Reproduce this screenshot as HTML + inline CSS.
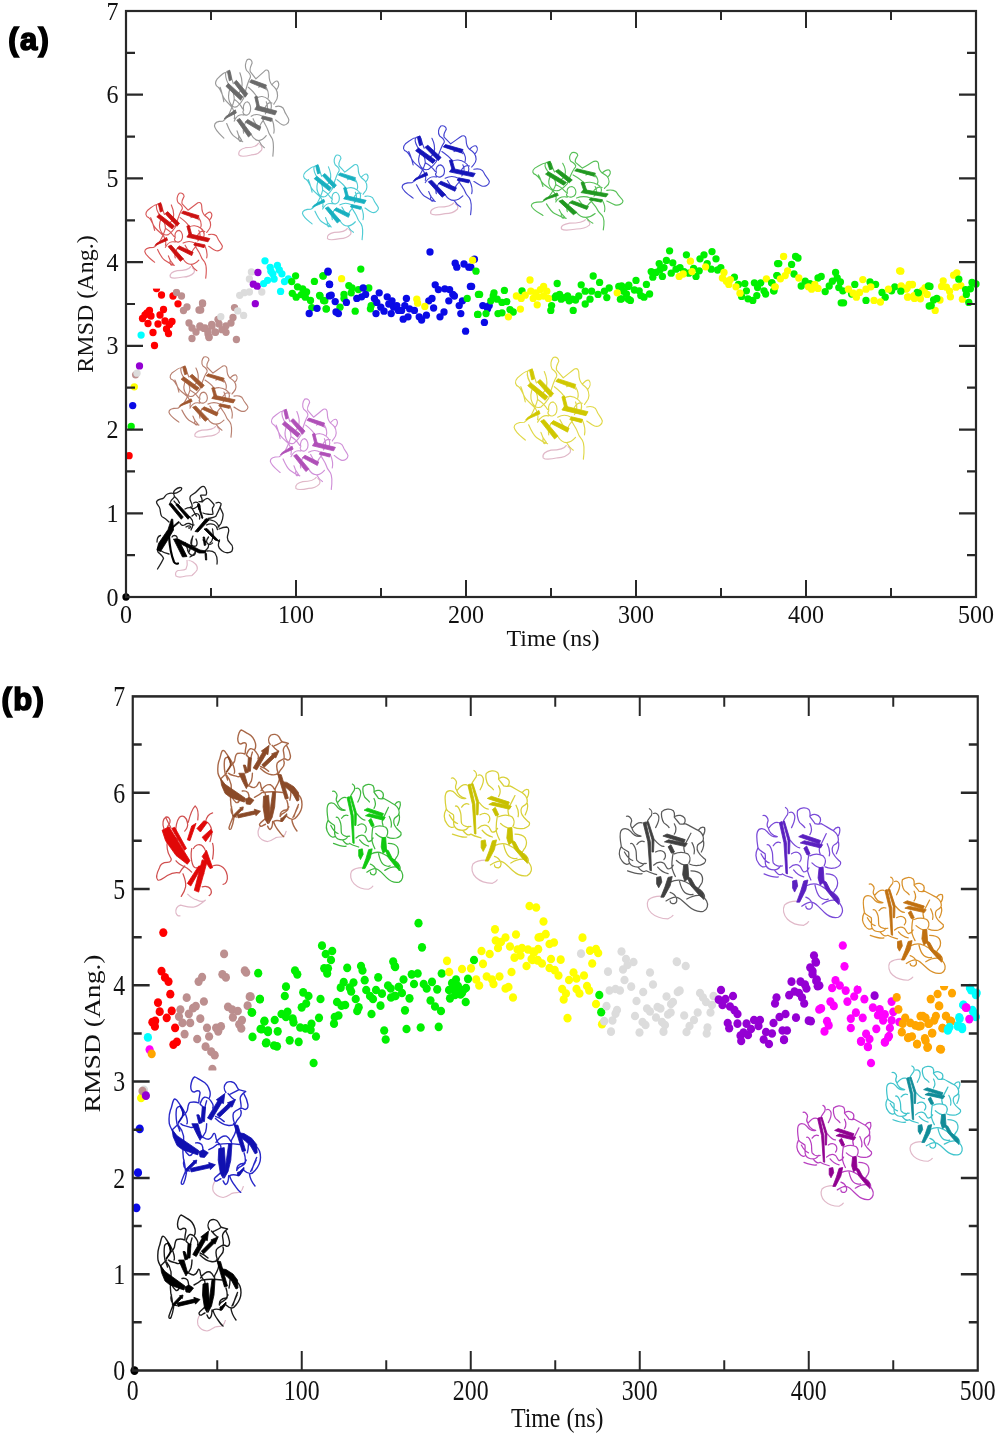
<!DOCTYPE html><html><head><meta charset="utf-8"><style>html,body{margin:0;padding:0;background:#fff;overflow:hidden}svg{display:block;will-change:transform}.t{font-family:"Liberation Serif",serif;font-size:24px;fill:#111}.lab{font-family:"Liberation Sans",sans-serif;font-weight:bold;font-size:31px;fill:#000;stroke:#000;stroke-width:1.6px;letter-spacing:1.3px}</style></head><body>
<svg width="1000" height="1437" viewBox="0 0 1000 1437">
<rect width="1000" height="1437" fill="#fff"/>
<ellipse cx="126.0" cy="597.0" rx="3.65" ry="3.65" fill="#000000"/>
<ellipse cx="129.1" cy="455.7" rx="3.65" ry="3.65" fill="#ff0000"/>
<ellipse cx="131.2" cy="426.5" rx="3.65" ry="3.65" fill="#00f000"/>
<ellipse cx="132.7" cy="405.6" rx="3.65" ry="3.65" fill="#0a0ae6"/>
<ellipse cx="134.3" cy="386.8" rx="3.65" ry="3.65" fill="#ffff00"/>
<ellipse cx="135.6" cy="374.8" rx="3.65" ry="3.65" fill="#bc8f8f"/>
<ellipse cx="137.0" cy="373.2" rx="3.65" ry="3.65" fill="#dcdcdc"/>
<ellipse cx="139.5" cy="365.9" rx="3.65" ry="3.65" fill="#9400d3"/>
<ellipse cx="141.1" cy="335.1" rx="3.65" ry="3.65" fill="#00ffff"/>
<ellipse cx="156.5" cy="288.5" rx="3.65" ry="3.65" fill="#ff0000"/>
<ellipse cx="161.5" cy="295.0" rx="3.65" ry="3.65" fill="#ff0000"/>
<ellipse cx="173.0" cy="296.0" rx="3.65" ry="3.65" fill="#ff0000"/>
<ellipse cx="178.0" cy="303.8" rx="3.65" ry="3.65" fill="#ff0000"/>
<ellipse cx="149.5" cy="310.5" rx="3.65" ry="3.65" fill="#ff0000"/>
<ellipse cx="163.5" cy="309.5" rx="3.65" ry="3.65" fill="#ff0000"/>
<ellipse cx="145.0" cy="315.0" rx="3.65" ry="3.65" fill="#ff0000"/>
<ellipse cx="151.0" cy="316.0" rx="3.65" ry="3.65" fill="#ff0000"/>
<ellipse cx="142.5" cy="318.5" rx="3.65" ry="3.65" fill="#ff0000"/>
<ellipse cx="147.0" cy="313.0" rx="3.65" ry="3.65" fill="#ff0000"/>
<ellipse cx="160.0" cy="315.0" rx="3.65" ry="3.65" fill="#ff0000"/>
<ellipse cx="148.0" cy="323.5" rx="3.65" ry="3.65" fill="#ff0000"/>
<ellipse cx="158.0" cy="324.0" rx="3.65" ry="3.65" fill="#ff0000"/>
<ellipse cx="165.0" cy="321.0" rx="3.65" ry="3.65" fill="#ff0000"/>
<ellipse cx="172.0" cy="321.5" rx="3.65" ry="3.65" fill="#ff0000"/>
<ellipse cx="169.5" cy="324.5" rx="3.65" ry="3.65" fill="#ff0000"/>
<ellipse cx="166.5" cy="329.0" rx="3.65" ry="3.65" fill="#ff0000"/>
<ellipse cx="168.5" cy="333.5" rx="3.65" ry="3.65" fill="#ff0000"/>
<ellipse cx="153.0" cy="332.5" rx="3.65" ry="3.65" fill="#ff0000"/>
<ellipse cx="154.5" cy="345.5" rx="3.65" ry="3.65" fill="#ff0000"/>
<ellipse cx="176.5" cy="292.5" rx="3.65" ry="3.65" fill="#bc8f8f"/>
<ellipse cx="181.5" cy="296.0" rx="3.65" ry="3.65" fill="#bc8f8f"/>
<ellipse cx="187.0" cy="307.0" rx="3.65" ry="3.65" fill="#bc8f8f"/>
<ellipse cx="183.5" cy="310.5" rx="3.65" ry="3.65" fill="#bc8f8f"/>
<ellipse cx="202.5" cy="303.0" rx="3.65" ry="3.65" fill="#bc8f8f"/>
<ellipse cx="199.0" cy="310.0" rx="3.65" ry="3.65" fill="#bc8f8f"/>
<ellipse cx="189.0" cy="323.0" rx="3.65" ry="3.65" fill="#bc8f8f"/>
<ellipse cx="192.0" cy="328.0" rx="3.65" ry="3.65" fill="#bc8f8f"/>
<ellipse cx="192.0" cy="338.5" rx="3.65" ry="3.65" fill="#bc8f8f"/>
<ellipse cx="196.0" cy="332.0" rx="3.65" ry="3.65" fill="#bc8f8f"/>
<ellipse cx="200.0" cy="327.0" rx="3.65" ry="3.65" fill="#bc8f8f"/>
<ellipse cx="205.0" cy="328.0" rx="3.65" ry="3.65" fill="#bc8f8f"/>
<ellipse cx="208.0" cy="334.0" rx="3.65" ry="3.65" fill="#bc8f8f"/>
<ellipse cx="209.0" cy="337.0" rx="3.65" ry="3.65" fill="#bc8f8f"/>
<ellipse cx="212.0" cy="326.0" rx="3.65" ry="3.65" fill="#bc8f8f"/>
<ellipse cx="215.0" cy="332.0" rx="3.65" ry="3.65" fill="#bc8f8f"/>
<ellipse cx="219.0" cy="324.0" rx="3.65" ry="3.65" fill="#bc8f8f"/>
<ellipse cx="202.6" cy="303.7" rx="3.65" ry="3.65" fill="#bc8f8f"/>
<ellipse cx="200.7" cy="310.0" rx="3.65" ry="3.65" fill="#bc8f8f"/>
<ellipse cx="234.5" cy="307.6" rx="3.65" ry="3.65" fill="#bc8f8f"/>
<ellipse cx="233.0" cy="317.4" rx="3.65" ry="3.65" fill="#bc8f8f"/>
<ellipse cx="231.0" cy="323.0" rx="3.65" ry="3.65" fill="#bc8f8f"/>
<ellipse cx="226.0" cy="325.8" rx="3.65" ry="3.65" fill="#bc8f8f"/>
<ellipse cx="222.0" cy="329.7" rx="3.65" ry="3.65" fill="#bc8f8f"/>
<ellipse cx="226.0" cy="332.3" rx="3.65" ry="3.65" fill="#bc8f8f"/>
<ellipse cx="215.6" cy="332.3" rx="3.65" ry="3.65" fill="#bc8f8f"/>
<ellipse cx="211.7" cy="324.5" rx="3.65" ry="3.65" fill="#bc8f8f"/>
<ellipse cx="207.8" cy="331.0" rx="3.65" ry="3.65" fill="#bc8f8f"/>
<ellipse cx="209.0" cy="337.5" rx="3.65" ry="3.65" fill="#bc8f8f"/>
<ellipse cx="204.0" cy="328.4" rx="3.65" ry="3.65" fill="#bc8f8f"/>
<ellipse cx="236.4" cy="339.5" rx="3.65" ry="3.65" fill="#bc8f8f"/>
<ellipse cx="218.0" cy="319.3" rx="3.65" ry="3.65" fill="#bc8f8f"/>
<ellipse cx="200.0" cy="325.8" rx="3.65" ry="3.65" fill="#bc8f8f"/>
<ellipse cx="251.4" cy="271.9" rx="3.65" ry="3.65" fill="#dcdcdc"/>
<ellipse cx="249.4" cy="279.0" rx="3.65" ry="3.65" fill="#dcdcdc"/>
<ellipse cx="239.7" cy="295.3" rx="3.65" ry="3.65" fill="#dcdcdc"/>
<ellipse cx="244.2" cy="292.7" rx="3.65" ry="3.65" fill="#dcdcdc"/>
<ellipse cx="249.4" cy="292.0" rx="3.65" ry="3.65" fill="#dcdcdc"/>
<ellipse cx="261.8" cy="292.0" rx="3.65" ry="3.65" fill="#dcdcdc"/>
<ellipse cx="237.7" cy="310.9" rx="3.65" ry="3.65" fill="#dcdcdc"/>
<ellipse cx="243.6" cy="315.4" rx="3.65" ry="3.65" fill="#dcdcdc"/>
<ellipse cx="220.8" cy="316.7" rx="3.65" ry="3.65" fill="#dcdcdc"/>
<ellipse cx="257.9" cy="272.5" rx="3.65" ry="3.65" fill="#9400d3"/>
<ellipse cx="253.3" cy="284.2" rx="3.65" ry="3.65" fill="#9400d3"/>
<ellipse cx="257.2" cy="286.2" rx="3.65" ry="3.65" fill="#9400d3"/>
<ellipse cx="255.3" cy="303.7" rx="3.65" ry="3.65" fill="#9400d3"/>
<ellipse cx="265.0" cy="260.8" rx="3.65" ry="3.65" fill="#00ffff"/>
<ellipse cx="270.2" cy="267.3" rx="3.65" ry="3.65" fill="#00ffff"/>
<ellipse cx="277.4" cy="265.4" rx="3.65" ry="3.65" fill="#00ffff"/>
<ellipse cx="279.3" cy="269.9" rx="3.65" ry="3.65" fill="#00ffff"/>
<ellipse cx="281.9" cy="273.8" rx="3.65" ry="3.65" fill="#00ffff"/>
<ellipse cx="272.8" cy="273.8" rx="3.65" ry="3.65" fill="#00ffff"/>
<ellipse cx="274.1" cy="279.0" rx="3.65" ry="3.65" fill="#00ffff"/>
<ellipse cx="267.6" cy="280.3" rx="3.65" ry="3.65" fill="#00ffff"/>
<ellipse cx="263.7" cy="283.6" rx="3.65" ry="3.65" fill="#00ffff"/>
<ellipse cx="284.5" cy="281.6" rx="3.65" ry="3.65" fill="#00ffff"/>
<ellipse cx="288.4" cy="279.0" rx="3.65" ry="3.65" fill="#00ffff"/>
<ellipse cx="280.6" cy="291.4" rx="3.65" ry="3.65" fill="#00ffff"/>
<ellipse cx="270.9" cy="271.2" rx="3.65" ry="3.65" fill="#00ffff"/>
<ellipse cx="295.6" cy="275.8" rx="3.65" ry="3.65" fill="#00f000"/>
<ellipse cx="314.4" cy="281.4" rx="3.65" ry="3.65" fill="#00f000"/>
<ellipse cx="322.9" cy="275.8" rx="3.65" ry="3.65" fill="#00f000"/>
<ellipse cx="291.7" cy="281.6" rx="3.65" ry="3.65" fill="#00f000"/>
<ellipse cx="297.5" cy="286.8" rx="3.65" ry="3.65" fill="#00f000"/>
<ellipse cx="302.7" cy="288.8" rx="3.65" ry="3.65" fill="#00f000"/>
<ellipse cx="306.6" cy="292.0" rx="3.65" ry="3.65" fill="#00f000"/>
<ellipse cx="292.3" cy="293.3" rx="3.65" ry="3.65" fill="#00f000"/>
<ellipse cx="296.2" cy="297.2" rx="3.65" ry="3.65" fill="#00f000"/>
<ellipse cx="301.4" cy="294.6" rx="3.65" ry="3.65" fill="#00f000"/>
<ellipse cx="305.3" cy="297.2" rx="3.65" ry="3.65" fill="#00f000"/>
<ellipse cx="310.5" cy="300.5" rx="3.65" ry="3.65" fill="#00f000"/>
<ellipse cx="319.6" cy="295.3" rx="3.65" ry="3.65" fill="#00f000"/>
<ellipse cx="323.5" cy="300.5" rx="3.65" ry="3.65" fill="#00f000"/>
<ellipse cx="326.1" cy="308.9" rx="3.65" ry="3.65" fill="#00f000"/>
<ellipse cx="311.8" cy="307.6" rx="3.65" ry="3.65" fill="#00f000"/>
<ellipse cx="323.2" cy="276.0" rx="3.65" ry="3.65" fill="#00f000"/>
<ellipse cx="320.0" cy="296.0" rx="3.65" ry="3.65" fill="#00f000"/>
<ellipse cx="324.8" cy="300.8" rx="3.65" ry="3.65" fill="#00f000"/>
<ellipse cx="326.4" cy="308.8" rx="3.65" ry="3.65" fill="#00f000"/>
<ellipse cx="340.0" cy="307.2" rx="3.65" ry="3.65" fill="#00f000"/>
<ellipse cx="344.0" cy="294.4" rx="3.65" ry="3.65" fill="#00f000"/>
<ellipse cx="344.0" cy="298.4" rx="3.65" ry="3.65" fill="#00f000"/>
<ellipse cx="348.8" cy="285.6" rx="3.65" ry="3.65" fill="#00f000"/>
<ellipse cx="352.0" cy="288.0" rx="3.65" ry="3.65" fill="#00f000"/>
<ellipse cx="351.2" cy="292.8" rx="3.65" ry="3.65" fill="#00f000"/>
<ellipse cx="358.4" cy="289.6" rx="3.65" ry="3.65" fill="#00f000"/>
<ellipse cx="368.8" cy="288.0" rx="3.65" ry="3.65" fill="#00f000"/>
<ellipse cx="371.2" cy="305.6" rx="3.65" ry="3.65" fill="#00f000"/>
<ellipse cx="370.4" cy="308.8" rx="3.65" ry="3.65" fill="#00f000"/>
<ellipse cx="355.2" cy="311.2" rx="3.65" ry="3.65" fill="#00f000"/>
<ellipse cx="360.8" cy="269.1" rx="3.65" ry="3.65" fill="#00f000"/>
<ellipse cx="328.0" cy="271.2" rx="3.65" ry="3.65" fill="#0a0ae6"/>
<ellipse cx="329.4" cy="284.2" rx="3.65" ry="3.65" fill="#0a0ae6"/>
<ellipse cx="329.4" cy="295.9" rx="3.65" ry="3.65" fill="#0a0ae6"/>
<ellipse cx="317.0" cy="308.3" rx="3.65" ry="3.65" fill="#0a0ae6"/>
<ellipse cx="309.2" cy="313.5" rx="3.65" ry="3.65" fill="#0a0ae6"/>
<ellipse cx="328.0" cy="272.0" rx="3.65" ry="3.65" fill="#0a0ae6"/>
<ellipse cx="329.6" cy="284.5" rx="3.65" ry="3.65" fill="#0a0ae6"/>
<ellipse cx="331.2" cy="295.2" rx="3.65" ry="3.65" fill="#0a0ae6"/>
<ellipse cx="335.2" cy="301.6" rx="3.65" ry="3.65" fill="#0a0ae6"/>
<ellipse cx="336.0" cy="312.0" rx="3.65" ry="3.65" fill="#0a0ae6"/>
<ellipse cx="338.4" cy="313.6" rx="3.65" ry="3.65" fill="#0a0ae6"/>
<ellipse cx="346.4" cy="302.4" rx="3.65" ry="3.65" fill="#0a0ae6"/>
<ellipse cx="356.8" cy="298.4" rx="3.65" ry="3.65" fill="#0a0ae6"/>
<ellipse cx="363.2" cy="288.0" rx="3.65" ry="3.65" fill="#0a0ae6"/>
<ellipse cx="365.6" cy="294.4" rx="3.65" ry="3.65" fill="#0a0ae6"/>
<ellipse cx="361.6" cy="296.8" rx="3.65" ry="3.65" fill="#0a0ae6"/>
<ellipse cx="379.2" cy="292.8" rx="3.65" ry="3.65" fill="#0a0ae6"/>
<ellipse cx="374.4" cy="298.4" rx="3.65" ry="3.65" fill="#0a0ae6"/>
<ellipse cx="376.8" cy="302.4" rx="3.65" ry="3.65" fill="#0a0ae6"/>
<ellipse cx="380.8" cy="307.2" rx="3.65" ry="3.65" fill="#0a0ae6"/>
<ellipse cx="384.0" cy="311.2" rx="3.65" ry="3.65" fill="#0a0ae6"/>
<ellipse cx="376.0" cy="313.6" rx="3.65" ry="3.65" fill="#0a0ae6"/>
<ellipse cx="387.2" cy="296.8" rx="3.65" ry="3.65" fill="#0a0ae6"/>
<ellipse cx="392.0" cy="300.8" rx="3.65" ry="3.65" fill="#0a0ae6"/>
<ellipse cx="388.8" cy="304.0" rx="3.65" ry="3.65" fill="#0a0ae6"/>
<ellipse cx="393.6" cy="307.2" rx="3.65" ry="3.65" fill="#0a0ae6"/>
<ellipse cx="396.8" cy="305.6" rx="3.65" ry="3.65" fill="#0a0ae6"/>
<ellipse cx="398.4" cy="310.4" rx="3.65" ry="3.65" fill="#0a0ae6"/>
<ellipse cx="391.2" cy="313.6" rx="3.65" ry="3.65" fill="#0a0ae6"/>
<ellipse cx="401.6" cy="310.4" rx="3.65" ry="3.65" fill="#0a0ae6"/>
<ellipse cx="406.4" cy="298.4" rx="3.65" ry="3.65" fill="#0a0ae6"/>
<ellipse cx="404.8" cy="305.6" rx="3.65" ry="3.65" fill="#0a0ae6"/>
<ellipse cx="409.6" cy="308.8" rx="3.65" ry="3.65" fill="#0a0ae6"/>
<ellipse cx="414.4" cy="310.4" rx="3.65" ry="3.65" fill="#0a0ae6"/>
<ellipse cx="408.0" cy="316.8" rx="3.65" ry="3.65" fill="#0a0ae6"/>
<ellipse cx="403.2" cy="319.2" rx="3.65" ry="3.65" fill="#0a0ae6"/>
<ellipse cx="419.2" cy="316.8" rx="3.65" ry="3.65" fill="#0a0ae6"/>
<ellipse cx="421.6" cy="320.0" rx="3.65" ry="3.65" fill="#0a0ae6"/>
<ellipse cx="426.4" cy="315.2" rx="3.65" ry="3.65" fill="#0a0ae6"/>
<ellipse cx="428.8" cy="300.8" rx="3.65" ry="3.65" fill="#0a0ae6"/>
<ellipse cx="432.0" cy="298.4" rx="3.65" ry="3.65" fill="#0a0ae6"/>
<ellipse cx="433.6" cy="308.0" rx="3.65" ry="3.65" fill="#0a0ae6"/>
<ellipse cx="435.2" cy="284.8" rx="3.65" ry="3.65" fill="#0a0ae6"/>
<ellipse cx="438.4" cy="289.6" rx="3.65" ry="3.65" fill="#0a0ae6"/>
<ellipse cx="444.8" cy="288.8" rx="3.65" ry="3.65" fill="#0a0ae6"/>
<ellipse cx="449.6" cy="289.6" rx="3.65" ry="3.65" fill="#0a0ae6"/>
<ellipse cx="452.8" cy="294.4" rx="3.65" ry="3.65" fill="#0a0ae6"/>
<ellipse cx="454.4" cy="296.0" rx="3.65" ry="3.65" fill="#0a0ae6"/>
<ellipse cx="448.8" cy="300.8" rx="3.65" ry="3.65" fill="#0a0ae6"/>
<ellipse cx="444.0" cy="312.0" rx="3.65" ry="3.65" fill="#0a0ae6"/>
<ellipse cx="440.0" cy="316.8" rx="3.65" ry="3.65" fill="#0a0ae6"/>
<ellipse cx="459.2" cy="305.6" rx="3.65" ry="3.65" fill="#0a0ae6"/>
<ellipse cx="462.4" cy="300.8" rx="3.65" ry="3.65" fill="#0a0ae6"/>
<ellipse cx="460.8" cy="313.6" rx="3.65" ry="3.65" fill="#0a0ae6"/>
<ellipse cx="465.6" cy="331.2" rx="3.65" ry="3.65" fill="#0a0ae6"/>
<ellipse cx="470.4" cy="286.4" rx="3.65" ry="3.65" fill="#0a0ae6"/>
<ellipse cx="455.2" cy="263.2" rx="3.65" ry="3.65" fill="#0a0ae6"/>
<ellipse cx="456.8" cy="267.2" rx="3.65" ry="3.65" fill="#0a0ae6"/>
<ellipse cx="464.0" cy="264.0" rx="3.65" ry="3.65" fill="#0a0ae6"/>
<ellipse cx="468.8" cy="267.2" rx="3.65" ry="3.65" fill="#0a0ae6"/>
<ellipse cx="474.4" cy="259.2" rx="3.65" ry="3.65" fill="#0a0ae6"/>
<ellipse cx="430.0" cy="252.0" rx="3.65" ry="3.65" fill="#0a0ae6"/>
<ellipse cx="470.8" cy="267.2" rx="3.65" ry="3.65" fill="#0a0ae6"/>
<ellipse cx="471.6" cy="286.4" rx="3.65" ry="3.65" fill="#0a0ae6"/>
<ellipse cx="482.8" cy="305.6" rx="3.65" ry="3.65" fill="#0a0ae6"/>
<ellipse cx="489.2" cy="305.6" rx="3.65" ry="3.65" fill="#0a0ae6"/>
<ellipse cx="487.6" cy="308.8" rx="3.65" ry="3.65" fill="#0a0ae6"/>
<ellipse cx="484.4" cy="322.4" rx="3.65" ry="3.65" fill="#0a0ae6"/>
<ellipse cx="467.2" cy="298.4" rx="3.65" ry="3.65" fill="#00f000"/>
<ellipse cx="476.0" cy="271.2" rx="3.65" ry="3.65" fill="#00f000"/>
<ellipse cx="478.4" cy="294.4" rx="3.65" ry="3.65" fill="#00f000"/>
<ellipse cx="477.6" cy="314.4" rx="3.65" ry="3.65" fill="#00f000"/>
<ellipse cx="479.6" cy="294.4" rx="3.65" ry="3.65" fill="#00f000"/>
<ellipse cx="478.0" cy="314.4" rx="3.65" ry="3.65" fill="#00f000"/>
<ellipse cx="486.0" cy="313.6" rx="3.65" ry="3.65" fill="#00f000"/>
<ellipse cx="490.8" cy="300.8" rx="3.65" ry="3.65" fill="#00f000"/>
<ellipse cx="494.0" cy="292.8" rx="3.65" ry="3.65" fill="#00f000"/>
<ellipse cx="493.2" cy="296.0" rx="3.65" ry="3.65" fill="#00f000"/>
<ellipse cx="497.2" cy="299.2" rx="3.65" ry="3.65" fill="#00f000"/>
<ellipse cx="504.4" cy="290.4" rx="3.65" ry="3.65" fill="#00f000"/>
<ellipse cx="502.0" cy="302.4" rx="3.65" ry="3.65" fill="#00f000"/>
<ellipse cx="506.8" cy="301.6" rx="3.65" ry="3.65" fill="#00f000"/>
<ellipse cx="498.0" cy="313.6" rx="3.65" ry="3.65" fill="#00f000"/>
<ellipse cx="502.0" cy="312.8" rx="3.65" ry="3.65" fill="#00f000"/>
<ellipse cx="510.0" cy="309.6" rx="3.65" ry="3.65" fill="#00f000"/>
<ellipse cx="513.2" cy="312.0" rx="3.65" ry="3.65" fill="#00f000"/>
<ellipse cx="522.0" cy="290.9" rx="3.65" ry="3.65" fill="#00f000"/>
<ellipse cx="557.2" cy="283.5" rx="3.65" ry="3.65" fill="#00f000"/>
<ellipse cx="551.6" cy="305.6" rx="3.65" ry="3.65" fill="#00f000"/>
<ellipse cx="550.8" cy="310.4" rx="3.65" ry="3.65" fill="#00f000"/>
<ellipse cx="554.8" cy="297.6" rx="3.65" ry="3.65" fill="#00f000"/>
<ellipse cx="559.6" cy="294.4" rx="3.65" ry="3.65" fill="#00f000"/>
<ellipse cx="564.4" cy="297.6" rx="3.65" ry="3.65" fill="#00f000"/>
<ellipse cx="567.6" cy="296.0" rx="3.65" ry="3.65" fill="#00f000"/>
<ellipse cx="572.4" cy="299.2" rx="3.65" ry="3.65" fill="#00f000"/>
<ellipse cx="573.2" cy="310.4" rx="3.65" ry="3.65" fill="#00f000"/>
<ellipse cx="578.8" cy="296.0" rx="3.65" ry="3.65" fill="#00f000"/>
<ellipse cx="581.2" cy="284.8" rx="3.65" ry="3.65" fill="#00f000"/>
<ellipse cx="585.2" cy="291.2" rx="3.65" ry="3.65" fill="#00f000"/>
<ellipse cx="585.2" cy="304.0" rx="3.65" ry="3.65" fill="#00f000"/>
<ellipse cx="590.0" cy="299.2" rx="3.65" ry="3.65" fill="#00f000"/>
<ellipse cx="593.2" cy="276.0" rx="3.65" ry="3.65" fill="#00f000"/>
<ellipse cx="591.6" cy="291.2" rx="3.65" ry="3.65" fill="#00f000"/>
<ellipse cx="599.6" cy="282.4" rx="3.65" ry="3.65" fill="#00f000"/>
<ellipse cx="598.0" cy="294.4" rx="3.65" ry="3.65" fill="#00f000"/>
<ellipse cx="604.4" cy="291.2" rx="3.65" ry="3.65" fill="#00f000"/>
<ellipse cx="609.2" cy="288.0" rx="3.65" ry="3.65" fill="#00f000"/>
<ellipse cx="606.8" cy="297.6" rx="3.65" ry="3.65" fill="#00f000"/>
<ellipse cx="618.8" cy="286.4" rx="3.65" ry="3.65" fill="#00f000"/>
<ellipse cx="620.4" cy="299.2" rx="3.65" ry="3.65" fill="#00f000"/>
<ellipse cx="623.6" cy="291.2" rx="3.65" ry="3.65" fill="#00f000"/>
<ellipse cx="628.4" cy="286.4" rx="3.65" ry="3.65" fill="#00f000"/>
<ellipse cx="628.4" cy="299.2" rx="3.65" ry="3.65" fill="#00f000"/>
<ellipse cx="561.2" cy="299.2" rx="3.65" ry="3.65" fill="#00f000"/>
<ellipse cx="569.2" cy="300.8" rx="3.65" ry="3.65" fill="#00f000"/>
<ellipse cx="575.6" cy="300.0" rx="3.65" ry="3.65" fill="#00f000"/>
<ellipse cx="556.0" cy="296.0" rx="3.65" ry="3.65" fill="#00f000"/>
<ellipse cx="341.6" cy="278.7" rx="3.65" ry="3.65" fill="#ffff00"/>
<ellipse cx="416.8" cy="299.2" rx="3.65" ry="3.65" fill="#ffff00"/>
<ellipse cx="417.6" cy="303.2" rx="3.65" ry="3.65" fill="#ffff00"/>
<ellipse cx="424.8" cy="306.4" rx="3.65" ry="3.65" fill="#ffff00"/>
<ellipse cx="472.6" cy="260.2" rx="3.65" ry="3.65" fill="#ffff00"/>
<ellipse cx="530.0" cy="280.0" rx="3.65" ry="3.65" fill="#ffff00"/>
<ellipse cx="516.4" cy="296.0" rx="3.65" ry="3.65" fill="#ffff00"/>
<ellipse cx="521.2" cy="298.4" rx="3.65" ry="3.65" fill="#ffff00"/>
<ellipse cx="525.2" cy="295.2" rx="3.65" ry="3.65" fill="#ffff00"/>
<ellipse cx="530.8" cy="291.2" rx="3.65" ry="3.65" fill="#ffff00"/>
<ellipse cx="535.6" cy="292.8" rx="3.65" ry="3.65" fill="#ffff00"/>
<ellipse cx="540.4" cy="289.6" rx="3.65" ry="3.65" fill="#ffff00"/>
<ellipse cx="543.6" cy="286.4" rx="3.65" ry="3.65" fill="#ffff00"/>
<ellipse cx="546.8" cy="291.2" rx="3.65" ry="3.65" fill="#ffff00"/>
<ellipse cx="533.2" cy="298.4" rx="3.65" ry="3.65" fill="#ffff00"/>
<ellipse cx="538.8" cy="296.8" rx="3.65" ry="3.65" fill="#ffff00"/>
<ellipse cx="543.6" cy="296.0" rx="3.65" ry="3.65" fill="#ffff00"/>
<ellipse cx="548.4" cy="298.4" rx="3.65" ry="3.65" fill="#ffff00"/>
<ellipse cx="537.2" cy="304.8" rx="3.65" ry="3.65" fill="#ffff00"/>
<ellipse cx="520.4" cy="309.1" rx="3.65" ry="3.65" fill="#ffff00"/>
<ellipse cx="508.4" cy="316.8" rx="3.65" ry="3.65" fill="#ffff00"/>
<ellipse cx="617.2" cy="292.8" rx="3.65" ry="3.65" fill="#ffff00"/>
<ellipse cx="621.6" cy="286.0" rx="3.65" ry="3.65" fill="#00f000"/>
<ellipse cx="621.6" cy="298.8" rx="3.65" ry="3.65" fill="#00f000"/>
<ellipse cx="626.4" cy="294.0" rx="3.65" ry="3.65" fill="#00f000"/>
<ellipse cx="628.8" cy="285.2" rx="3.65" ry="3.65" fill="#00f000"/>
<ellipse cx="630.4" cy="300.4" rx="3.65" ry="3.65" fill="#00f000"/>
<ellipse cx="636.0" cy="280.4" rx="3.65" ry="3.65" fill="#00f000"/>
<ellipse cx="634.4" cy="290.0" rx="3.65" ry="3.65" fill="#00f000"/>
<ellipse cx="639.2" cy="290.8" rx="3.65" ry="3.65" fill="#00f000"/>
<ellipse cx="640.8" cy="295.6" rx="3.65" ry="3.65" fill="#00f000"/>
<ellipse cx="644.0" cy="297.2" rx="3.65" ry="3.65" fill="#00f000"/>
<ellipse cx="646.4" cy="284.4" rx="3.65" ry="3.65" fill="#00f000"/>
<ellipse cx="649.6" cy="294.0" rx="3.65" ry="3.65" fill="#00f000"/>
<ellipse cx="651.2" cy="271.6" rx="3.65" ry="3.65" fill="#00f000"/>
<ellipse cx="652.8" cy="277.2" rx="3.65" ry="3.65" fill="#00f000"/>
<ellipse cx="656.0" cy="272.4" rx="3.65" ry="3.65" fill="#00f000"/>
<ellipse cx="659.2" cy="263.6" rx="3.65" ry="3.65" fill="#00f000"/>
<ellipse cx="660.0" cy="270.0" rx="3.65" ry="3.65" fill="#00f000"/>
<ellipse cx="662.4" cy="276.4" rx="3.65" ry="3.65" fill="#00f000"/>
<ellipse cx="664.0" cy="267.6" rx="3.65" ry="3.65" fill="#00f000"/>
<ellipse cx="666.4" cy="260.4" rx="3.65" ry="3.65" fill="#00f000"/>
<ellipse cx="669.6" cy="250.8" rx="3.65" ry="3.65" fill="#00f000"/>
<ellipse cx="672.8" cy="262.8" rx="3.65" ry="3.65" fill="#00f000"/>
<ellipse cx="671.2" cy="273.2" rx="3.65" ry="3.65" fill="#00f000"/>
<ellipse cx="676.0" cy="269.2" rx="3.65" ry="3.65" fill="#00f000"/>
<ellipse cx="680.0" cy="267.6" rx="3.65" ry="3.65" fill="#00f000"/>
<ellipse cx="684.0" cy="271.6" rx="3.65" ry="3.65" fill="#00f000"/>
<ellipse cx="686.4" cy="254.8" rx="3.65" ry="3.65" fill="#00f000"/>
<ellipse cx="688.8" cy="273.2" rx="3.65" ry="3.65" fill="#00f000"/>
<ellipse cx="693.6" cy="268.4" rx="3.65" ry="3.65" fill="#00f000"/>
<ellipse cx="696.0" cy="276.4" rx="3.65" ry="3.65" fill="#00f000"/>
<ellipse cx="699.2" cy="270.8" rx="3.65" ry="3.65" fill="#00f000"/>
<ellipse cx="700.0" cy="258.8" rx="3.65" ry="3.65" fill="#00f000"/>
<ellipse cx="704.0" cy="254.8" rx="3.65" ry="3.65" fill="#00f000"/>
<ellipse cx="707.2" cy="263.6" rx="3.65" ry="3.65" fill="#00f000"/>
<ellipse cx="712.0" cy="251.6" rx="3.65" ry="3.65" fill="#00f000"/>
<ellipse cx="716.0" cy="258.8" rx="3.65" ry="3.65" fill="#00f000"/>
<ellipse cx="711.2" cy="269.2" rx="3.65" ry="3.65" fill="#00f000"/>
<ellipse cx="717.6" cy="270.0" rx="3.65" ry="3.65" fill="#00f000"/>
<ellipse cx="720.8" cy="267.6" rx="3.65" ry="3.65" fill="#00f000"/>
<ellipse cx="734.4" cy="277.2" rx="3.65" ry="3.65" fill="#00f000"/>
<ellipse cx="738.4" cy="284.4" rx="3.65" ry="3.65" fill="#00f000"/>
<ellipse cx="744.8" cy="283.6" rx="3.65" ry="3.65" fill="#00f000"/>
<ellipse cx="741.6" cy="296.4" rx="3.65" ry="3.65" fill="#00f000"/>
<ellipse cx="746.4" cy="290.8" rx="3.65" ry="3.65" fill="#00f000"/>
<ellipse cx="748.0" cy="298.8" rx="3.65" ry="3.65" fill="#00f000"/>
<ellipse cx="752.8" cy="300.4" rx="3.65" ry="3.65" fill="#00f000"/>
<ellipse cx="754.4" cy="282.8" rx="3.65" ry="3.65" fill="#00f000"/>
<ellipse cx="757.6" cy="287.6" rx="3.65" ry="3.65" fill="#00f000"/>
<ellipse cx="756.8" cy="295.6" rx="3.65" ry="3.65" fill="#00f000"/>
<ellipse cx="760.8" cy="282.8" rx="3.65" ry="3.65" fill="#00f000"/>
<ellipse cx="764.0" cy="290.8" rx="3.65" ry="3.65" fill="#00f000"/>
<ellipse cx="765.6" cy="294.0" rx="3.65" ry="3.65" fill="#00f000"/>
<ellipse cx="772.0" cy="282.8" rx="3.65" ry="3.65" fill="#00f000"/>
<ellipse cx="773.6" cy="290.8" rx="3.65" ry="3.65" fill="#00f000"/>
<ellipse cx="777.6" cy="263.6" rx="3.65" ry="3.65" fill="#00f000"/>
<ellipse cx="776.8" cy="275.6" rx="3.65" ry="3.65" fill="#00f000"/>
<ellipse cx="690.4" cy="261.2" rx="3.65" ry="3.65" fill="#ffff00"/>
<ellipse cx="679.2" cy="276.4" rx="3.65" ry="3.65" fill="#ffff00"/>
<ellipse cx="683.2" cy="274.0" rx="3.65" ry="3.65" fill="#ffff00"/>
<ellipse cx="692.0" cy="271.6" rx="3.65" ry="3.65" fill="#ffff00"/>
<ellipse cx="705.6" cy="266.8" rx="3.65" ry="3.65" fill="#ffff00"/>
<ellipse cx="724.0" cy="272.4" rx="3.65" ry="3.65" fill="#ffff00"/>
<ellipse cx="722.4" cy="278.0" rx="3.65" ry="3.65" fill="#ffff00"/>
<ellipse cx="726.4" cy="281.2" rx="3.65" ry="3.65" fill="#ffff00"/>
<ellipse cx="730.4" cy="279.6" rx="3.65" ry="3.65" fill="#ffff00"/>
<ellipse cx="728.8" cy="284.4" rx="3.65" ry="3.65" fill="#ffff00"/>
<ellipse cx="736.0" cy="286.8" rx="3.65" ry="3.65" fill="#ffff00"/>
<ellipse cx="740.0" cy="293.2" rx="3.65" ry="3.65" fill="#ffff00"/>
<ellipse cx="766.4" cy="278.8" rx="3.65" ry="3.65" fill="#ffff00"/>
<ellipse cx="775.2" cy="286.8" rx="3.65" ry="3.65" fill="#ffff00"/>
<ellipse cx="771.6" cy="282.8" rx="3.65" ry="3.65" fill="#00f000"/>
<ellipse cx="774.0" cy="290.8" rx="3.65" ry="3.65" fill="#00f000"/>
<ellipse cx="778.8" cy="263.6" rx="3.65" ry="3.65" fill="#00f000"/>
<ellipse cx="777.2" cy="275.6" rx="3.65" ry="3.65" fill="#00f000"/>
<ellipse cx="795.6" cy="256.4" rx="3.65" ry="3.65" fill="#00f000"/>
<ellipse cx="798.0" cy="258.0" rx="3.65" ry="3.65" fill="#00f000"/>
<ellipse cx="791.6" cy="264.4" rx="3.65" ry="3.65" fill="#00f000"/>
<ellipse cx="794.0" cy="274.0" rx="3.65" ry="3.65" fill="#00f000"/>
<ellipse cx="801.2" cy="286.0" rx="3.65" ry="3.65" fill="#00f000"/>
<ellipse cx="805.2" cy="281.2" rx="3.65" ry="3.65" fill="#00f000"/>
<ellipse cx="810.0" cy="283.6" rx="3.65" ry="3.65" fill="#00f000"/>
<ellipse cx="818.0" cy="278.0" rx="3.65" ry="3.65" fill="#00f000"/>
<ellipse cx="821.2" cy="276.4" rx="3.65" ry="3.65" fill="#00f000"/>
<ellipse cx="825.2" cy="291.6" rx="3.65" ry="3.65" fill="#00f000"/>
<ellipse cx="829.2" cy="286.0" rx="3.65" ry="3.65" fill="#00f000"/>
<ellipse cx="832.4" cy="281.2" rx="3.65" ry="3.65" fill="#00f000"/>
<ellipse cx="835.6" cy="272.4" rx="3.65" ry="3.65" fill="#00f000"/>
<ellipse cx="837.2" cy="278.0" rx="3.65" ry="3.65" fill="#00f000"/>
<ellipse cx="840.4" cy="282.0" rx="3.65" ry="3.65" fill="#00f000"/>
<ellipse cx="838.8" cy="287.6" rx="3.65" ry="3.65" fill="#00f000"/>
<ellipse cx="842.8" cy="290.8" rx="3.65" ry="3.65" fill="#00f000"/>
<ellipse cx="843.6" cy="302.8" rx="3.65" ry="3.65" fill="#00f000"/>
<ellipse cx="841.2" cy="302.8" rx="3.65" ry="3.65" fill="#00f000"/>
<ellipse cx="851.6" cy="294.0" rx="3.65" ry="3.65" fill="#00f000"/>
<ellipse cx="854.8" cy="284.4" rx="3.65" ry="3.65" fill="#00f000"/>
<ellipse cx="866.0" cy="300.4" rx="3.65" ry="3.65" fill="#00f000"/>
<ellipse cx="870.0" cy="282.0" rx="3.65" ry="3.65" fill="#00f000"/>
<ellipse cx="875.6" cy="284.4" rx="3.65" ry="3.65" fill="#00f000"/>
<ellipse cx="882.0" cy="292.4" rx="3.65" ry="3.65" fill="#00f000"/>
<ellipse cx="885.2" cy="297.2" rx="3.65" ry="3.65" fill="#00f000"/>
<ellipse cx="891.6" cy="290.8" rx="3.65" ry="3.65" fill="#00f000"/>
<ellipse cx="894.8" cy="286.8" rx="3.65" ry="3.65" fill="#00f000"/>
<ellipse cx="917.2" cy="292.4" rx="3.65" ry="3.65" fill="#00f000"/>
<ellipse cx="783.6" cy="256.4" rx="3.65" ry="3.65" fill="#ffff00"/>
<ellipse cx="787.6" cy="270.8" rx="3.65" ry="3.65" fill="#ffff00"/>
<ellipse cx="785.2" cy="275.6" rx="3.65" ry="3.65" fill="#ffff00"/>
<ellipse cx="780.4" cy="278.8" rx="3.65" ry="3.65" fill="#ffff00"/>
<ellipse cx="774.8" cy="286.8" rx="3.65" ry="3.65" fill="#ffff00"/>
<ellipse cx="798.8" cy="278.0" rx="3.65" ry="3.65" fill="#ffff00"/>
<ellipse cx="808.4" cy="286.8" rx="3.65" ry="3.65" fill="#ffff00"/>
<ellipse cx="811.6" cy="289.2" rx="3.65" ry="3.65" fill="#ffff00"/>
<ellipse cx="814.8" cy="284.4" rx="3.65" ry="3.65" fill="#ffff00"/>
<ellipse cx="818.0" cy="288.4" rx="3.65" ry="3.65" fill="#ffff00"/>
<ellipse cx="848.4" cy="289.2" rx="3.65" ry="3.65" fill="#ffff00"/>
<ellipse cx="853.2" cy="293.2" rx="3.65" ry="3.65" fill="#ffff00"/>
<ellipse cx="856.4" cy="297.2" rx="3.65" ry="3.65" fill="#ffff00"/>
<ellipse cx="859.6" cy="292.4" rx="3.65" ry="3.65" fill="#ffff00"/>
<ellipse cx="862.8" cy="279.6" rx="3.65" ry="3.65" fill="#ffff00"/>
<ellipse cx="866.0" cy="289.2" rx="3.65" ry="3.65" fill="#ffff00"/>
<ellipse cx="870.8" cy="286.8" rx="3.65" ry="3.65" fill="#ffff00"/>
<ellipse cx="874.0" cy="300.4" rx="3.65" ry="3.65" fill="#ffff00"/>
<ellipse cx="880.4" cy="302.0" rx="3.65" ry="3.65" fill="#ffff00"/>
<ellipse cx="888.4" cy="289.2" rx="3.65" ry="3.65" fill="#ffff00"/>
<ellipse cx="899.6" cy="270.8" rx="3.65" ry="3.65" fill="#ffff00"/>
<ellipse cx="901.2" cy="286.0" rx="3.65" ry="3.65" fill="#ffff00"/>
<ellipse cx="906.0" cy="289.2" rx="3.65" ry="3.65" fill="#ffff00"/>
<ellipse cx="909.2" cy="284.4" rx="3.65" ry="3.65" fill="#ffff00"/>
<ellipse cx="912.4" cy="284.4" rx="3.65" ry="3.65" fill="#ffff00"/>
<ellipse cx="907.6" cy="297.2" rx="3.65" ry="3.65" fill="#ffff00"/>
<ellipse cx="914.0" cy="295.6" rx="3.65" ry="3.65" fill="#ffff00"/>
<ellipse cx="918.8" cy="294.0" rx="3.65" ry="3.65" fill="#ffff00"/>
<ellipse cx="922.0" cy="290.8" rx="3.65" ry="3.65" fill="#ffff00"/>
<ellipse cx="925.2" cy="287.6" rx="3.65" ry="3.65" fill="#ffff00"/>
<ellipse cx="920.4" cy="298.8" rx="3.65" ry="3.65" fill="#ffff00"/>
<ellipse cx="900.8" cy="271.2" rx="3.65" ry="3.65" fill="#ffff00"/>
<ellipse cx="901.6" cy="287.2" rx="3.65" ry="3.65" fill="#ffff00"/>
<ellipse cx="907.2" cy="288.0" rx="3.65" ry="3.65" fill="#ffff00"/>
<ellipse cx="912.0" cy="284.8" rx="3.65" ry="3.65" fill="#ffff00"/>
<ellipse cx="908.0" cy="296.8" rx="3.65" ry="3.65" fill="#ffff00"/>
<ellipse cx="914.4" cy="298.4" rx="3.65" ry="3.65" fill="#ffff00"/>
<ellipse cx="920.0" cy="295.2" rx="3.65" ry="3.65" fill="#ffff00"/>
<ellipse cx="924.0" cy="289.6" rx="3.65" ry="3.65" fill="#ffff00"/>
<ellipse cx="927.2" cy="294.4" rx="3.65" ry="3.65" fill="#ffff00"/>
<ellipse cx="940.0" cy="300.0" rx="3.65" ry="3.65" fill="#ffff00"/>
<ellipse cx="935.2" cy="310.4" rx="3.65" ry="3.65" fill="#ffff00"/>
<ellipse cx="943.2" cy="280.8" rx="3.65" ry="3.65" fill="#ffff00"/>
<ellipse cx="941.6" cy="286.4" rx="3.65" ry="3.65" fill="#ffff00"/>
<ellipse cx="946.4" cy="287.2" rx="3.65" ry="3.65" fill="#ffff00"/>
<ellipse cx="949.6" cy="291.2" rx="3.65" ry="3.65" fill="#ffff00"/>
<ellipse cx="950.4" cy="296.8" rx="3.65" ry="3.65" fill="#ffff00"/>
<ellipse cx="953.6" cy="275.2" rx="3.65" ry="3.65" fill="#ffff00"/>
<ellipse cx="956.8" cy="272.8" rx="3.65" ry="3.65" fill="#ffff00"/>
<ellipse cx="956.0" cy="287.2" rx="3.65" ry="3.65" fill="#ffff00"/>
<ellipse cx="960.8" cy="285.6" rx="3.65" ry="3.65" fill="#ffff00"/>
<ellipse cx="962.4" cy="299.2" rx="3.65" ry="3.65" fill="#ffff00"/>
<ellipse cx="900.8" cy="291.2" rx="3.65" ry="3.65" fill="#00f000"/>
<ellipse cx="918.4" cy="292.8" rx="3.65" ry="3.65" fill="#00f000"/>
<ellipse cx="930.0" cy="286.4" rx="3.65" ry="3.65" fill="#00f000"/>
<ellipse cx="933.6" cy="300.0" rx="3.65" ry="3.65" fill="#00f000"/>
<ellipse cx="931.2" cy="305.6" rx="3.65" ry="3.65" fill="#00f000"/>
<ellipse cx="936.8" cy="298.4" rx="3.65" ry="3.65" fill="#00f000"/>
<ellipse cx="958.8" cy="279.2" rx="3.65" ry="3.65" fill="#00f000"/>
<ellipse cx="965.6" cy="289.6" rx="3.65" ry="3.65" fill="#00f000"/>
<ellipse cx="966.4" cy="294.4" rx="3.65" ry="3.65" fill="#00f000"/>
<ellipse cx="972.0" cy="282.4" rx="3.65" ry="3.65" fill="#00f000"/>
<ellipse cx="976.0" cy="284.0" rx="3.65" ry="3.65" fill="#00f000"/>
<ellipse cx="970.4" cy="288.8" rx="3.65" ry="3.65" fill="#00f000"/>
<ellipse cx="968.8" cy="302.4" rx="3.65" ry="3.65" fill="#00f000"/>
<ellipse cx="928.4" cy="286.0" rx="3.65" ry="3.65" fill="#00f000"/>
<ellipse cx="929.2" cy="306.0" rx="3.65" ry="3.65" fill="#00f000"/>
<rect x="140" y="186" width="88" height="102.6" fill="#fff"/>
<g transform="translate(213.50,58.00) scale(0.09421,0.12091) translate(-80,-58)">
<path d="M560,760 C540,790 480,800 420,800 C370,810 340,830 350,860 C370,880 430,870 480,860 C520,860 560,850 590,820 C600,800 590,780 570,770" fill="none" stroke="#e0b8c8" stroke-width="1.2" vector-effect="non-scaling-stroke"/>
<path d="M190,720 C150,690 100,660 90,620 C90,590 130,580 180,580 C200,570 220,550 240,530 M240,530 C270,480 290,440 300,400 C300,360 280,320 250,290 C220,250 200,220 210,180 C200,170 160,200 120,230 C90,260 100,290 130,300 C160,320 170,370 200,400 C230,430 260,450 280,470 M210,180 C230,160 250,160 260,180 C270,220 280,250 290,270 M400,390 C420,330 440,260 470,220 C480,200 460,180 430,160 C410,130 420,90 440,70 C470,60 490,80 490,100 C480,120 460,140 470,170 C490,190 510,210 530,230 M530,230 C560,210 600,180 630,160 C660,150 670,170 670,200 C670,230 680,260 700,280 C730,300 760,320 760,370 C760,410 730,420 720,440 M740,460 C780,450 820,460 830,490 C840,520 870,540 880,570 C880,600 840,620 810,610 C780,600 760,580 740,570 M600,560 C620,600 640,620 650,640 C660,670 680,700 700,720 C720,750 720,800 710,870 M480,690 C500,720 530,740 560,740 C600,740 620,720 640,700 M330,660 C340,700 360,720 380,740 C360,760 340,740 350,700 M220,600 C240,640 260,680 290,700 C320,720 360,740 390,750 M400,490 C390,450 410,420 440,420 C470,430 480,470 470,500 C460,530 420,540 400,520 C390,510 390,500 400,490 M450,300 C480,320 520,350 540,380 M540,390 C570,370 620,370 660,400 C690,420 700,450 690,480 M300,580 C320,540 360,520 400,530 M560,640 C580,600 600,580 620,560 M620,480 C640,440 670,420 700,430 M300,400 C340,420 370,450 390,480 M640,300 C660,330 670,360 660,390 M280,470 C300,500 310,530 300,560 M260,300 C240,340 230,380 250,420 C270,460 300,470 330,460 M330,460 C360,440 380,420 400,390 M500,560 C520,600 540,620 560,640 M480,540 C520,520 560,520 600,540 M640,420 C660,460 650,500 630,520 M700,280 C720,260 740,240 760,250 C780,270 770,300 750,320 M150,300 C170,340 180,380 190,420 M560,740 C580,770 600,790 620,800 M420,590 C400,620 390,650 400,680 M700,560 C720,600 730,640 720,680 M360,180 C380,220 390,260 380,300 C370,330 350,350 330,360 M560,300 C590,280 620,290 640,320" fill="none" stroke="#999999" stroke-width="1.15" stroke-linecap="round" stroke-linejoin="round" vector-effect="non-scaling-stroke"/>
<polygon points="212,292 238,268 392,378 368,407" fill="#6a6a6a" stroke="#6a6a6a" stroke-width="0.8" stroke-linejoin="round" vector-effect="non-scaling-stroke"/>
<polygon points="297,262 323,243 443,353 417,382" fill="#6a6a6a" stroke="#6a6a6a" stroke-width="0.8" stroke-linejoin="round" vector-effect="non-scaling-stroke"/>
<polygon points="463,258 482,237 642,282 628,313" fill="#6a6a6a" stroke="#6a6a6a" stroke-width="0.8" stroke-linejoin="round" vector-effect="non-scaling-stroke"/>
<polygon points="518,483 542,452 752,497 733,528" fill="#6a6a6a" stroke="#6a6a6a" stroke-width="0.8" stroke-linejoin="round" vector-effect="non-scaling-stroke"/>
<polygon points="588,558 602,537 702,557 693,583" fill="#6a6a6a" stroke="#6a6a6a" stroke-width="0.8" stroke-linejoin="round" vector-effect="non-scaling-stroke"/>
<polygon points="327,572 358,558 483,688 452,712" fill="#6a6a6a" stroke="#6a6a6a" stroke-width="0.8" stroke-linejoin="round" vector-effect="non-scaling-stroke"/>
<polygon points="418,588 442,567 582,627 568,658" fill="#6a6a6a" stroke="#6a6a6a" stroke-width="0.8" stroke-linejoin="round" vector-effect="non-scaling-stroke"/>
<polygon points="193,563 212,542 312,487 322,513" fill="#6a6a6a" stroke="#6a6a6a" stroke-width="0.8" stroke-linejoin="round" vector-effect="non-scaling-stroke"/>
<polygon points="518,380 542,373 567,458 543,467" fill="#6a6a6a" stroke="#6a6a6a" stroke-width="0.8" stroke-linejoin="round" vector-effect="non-scaling-stroke"/>
<polygon points="228,172 252,158 272,238 248,247" fill="#6a6a6a" stroke="#6a6a6a" stroke-width="0.8" stroke-linejoin="round" vector-effect="non-scaling-stroke"/>
</g>
<g transform="translate(143.80,192.00) scale(0.09828,0.10601) translate(-80,-58)">
<path d="M560,760 C540,790 480,800 420,800 C370,810 340,830 350,860 C370,880 430,870 480,860 C520,860 560,850 590,820 C600,800 590,780 570,770" fill="none" stroke="#e0b8c8" stroke-width="1.2" vector-effect="non-scaling-stroke"/>
<path d="M190,720 C150,690 100,660 90,620 C90,590 130,580 180,580 C200,570 220,550 240,530 M240,530 C270,480 290,440 300,400 C300,360 280,320 250,290 C220,250 200,220 210,180 C200,170 160,200 120,230 C90,260 100,290 130,300 C160,320 170,370 200,400 C230,430 260,450 280,470 M210,180 C230,160 250,160 260,180 C270,220 280,250 290,270 M400,390 C420,330 440,260 470,220 C480,200 460,180 430,160 C410,130 420,90 440,70 C470,60 490,80 490,100 C480,120 460,140 470,170 C490,190 510,210 530,230 M530,230 C560,210 600,180 630,160 C660,150 670,170 670,200 C670,230 680,260 700,280 C730,300 760,320 760,370 C760,410 730,420 720,440 M740,460 C780,450 820,460 830,490 C840,520 870,540 880,570 C880,600 840,620 810,610 C780,600 760,580 740,570 M600,560 C620,600 640,620 650,640 C660,670 680,700 700,720 C720,750 720,800 710,870 M480,690 C500,720 530,740 560,740 C600,740 620,720 640,700 M330,660 C340,700 360,720 380,740 C360,760 340,740 350,700 M220,600 C240,640 260,680 290,700 C320,720 360,740 390,750 M400,490 C390,450 410,420 440,420 C470,430 480,470 470,500 C460,530 420,540 400,520 C390,510 390,500 400,490 M450,300 C480,320 520,350 540,380 M540,390 C570,370 620,370 660,400 C690,420 700,450 690,480 M300,580 C320,540 360,520 400,530 M560,640 C580,600 600,580 620,560 M620,480 C640,440 670,420 700,430 M300,400 C340,420 370,450 390,480 M640,300 C660,330 670,360 660,390 M280,470 C300,500 310,530 300,560 M260,300 C240,340 230,380 250,420 C270,460 300,470 330,460 M330,460 C360,440 380,420 400,390 M500,560 C520,600 540,620 560,640 M480,540 C520,520 560,520 600,540 M640,420 C660,460 650,500 630,520 M700,280 C720,260 740,240 760,250 C780,270 770,300 750,320 M150,300 C170,340 180,380 190,420 M560,740 C580,770 600,790 620,800 M420,590 C400,620 390,650 400,680 M700,560 C720,600 730,640 720,680 M360,180 C380,220 390,260 380,300 C370,330 350,350 330,360 M560,300 C590,280 620,290 640,320" fill="none" stroke="#d85858" stroke-width="1.15" stroke-linecap="round" stroke-linejoin="round" vector-effect="non-scaling-stroke"/>
<polygon points="212,292 238,268 392,378 368,407" fill="#cc1010" stroke="#cc1010" stroke-width="0.8" stroke-linejoin="round" vector-effect="non-scaling-stroke"/>
<polygon points="297,262 323,243 443,353 417,382" fill="#cc1010" stroke="#cc1010" stroke-width="0.8" stroke-linejoin="round" vector-effect="non-scaling-stroke"/>
<polygon points="463,258 482,237 642,282 628,313" fill="#cc1010" stroke="#cc1010" stroke-width="0.8" stroke-linejoin="round" vector-effect="non-scaling-stroke"/>
<polygon points="518,483 542,452 752,497 733,528" fill="#cc1010" stroke="#cc1010" stroke-width="0.8" stroke-linejoin="round" vector-effect="non-scaling-stroke"/>
<polygon points="588,558 602,537 702,557 693,583" fill="#cc1010" stroke="#cc1010" stroke-width="0.8" stroke-linejoin="round" vector-effect="non-scaling-stroke"/>
<polygon points="327,572 358,558 483,688 452,712" fill="#cc1010" stroke="#cc1010" stroke-width="0.8" stroke-linejoin="round" vector-effect="non-scaling-stroke"/>
<polygon points="418,588 442,567 582,627 568,658" fill="#cc1010" stroke="#cc1010" stroke-width="0.8" stroke-linejoin="round" vector-effect="non-scaling-stroke"/>
<polygon points="193,563 212,542 312,487 322,513" fill="#cc1010" stroke="#cc1010" stroke-width="0.8" stroke-linejoin="round" vector-effect="non-scaling-stroke"/>
<polygon points="518,380 542,373 567,458 543,467" fill="#cc1010" stroke="#cc1010" stroke-width="0.8" stroke-linejoin="round" vector-effect="non-scaling-stroke"/>
<polygon points="228,172 252,158 272,238 248,247" fill="#cc1010" stroke="#cc1010" stroke-width="0.8" stroke-linejoin="round" vector-effect="non-scaling-stroke"/>
</g>
<g transform="translate(301.50,154.00) scale(0.09618,0.10553) translate(-80,-58)">
<path d="M560,760 C540,790 480,800 420,800 C370,810 340,830 350,860 C370,880 430,870 480,860 C520,860 560,850 590,820 C600,800 590,780 570,770" fill="none" stroke="#e0b8c8" stroke-width="1.2" vector-effect="non-scaling-stroke"/>
<path d="M190,720 C150,690 100,660 90,620 C90,590 130,580 180,580 C200,570 220,550 240,530 M240,530 C270,480 290,440 300,400 C300,360 280,320 250,290 C220,250 200,220 210,180 C200,170 160,200 120,230 C90,260 100,290 130,300 C160,320 170,370 200,400 C230,430 260,450 280,470 M210,180 C230,160 250,160 260,180 C270,220 280,250 290,270 M400,390 C420,330 440,260 470,220 C480,200 460,180 430,160 C410,130 420,90 440,70 C470,60 490,80 490,100 C480,120 460,140 470,170 C490,190 510,210 530,230 M530,230 C560,210 600,180 630,160 C660,150 670,170 670,200 C670,230 680,260 700,280 C730,300 760,320 760,370 C760,410 730,420 720,440 M740,460 C780,450 820,460 830,490 C840,520 870,540 880,570 C880,600 840,620 810,610 C780,600 760,580 740,570 M600,560 C620,600 640,620 650,640 C660,670 680,700 700,720 C720,750 720,800 710,870 M480,690 C500,720 530,740 560,740 C600,740 620,720 640,700 M330,660 C340,700 360,720 380,740 C360,760 340,740 350,700 M220,600 C240,640 260,680 290,700 C320,720 360,740 390,750 M400,490 C390,450 410,420 440,420 C470,430 480,470 470,500 C460,530 420,540 400,520 C390,510 390,500 400,490 M450,300 C480,320 520,350 540,380 M540,390 C570,370 620,370 660,400 C690,420 700,450 690,480 M300,580 C320,540 360,520 400,530 M560,640 C580,600 600,580 620,560 M620,480 C640,440 670,420 700,430 M300,400 C340,420 370,450 390,480 M640,300 C660,330 670,360 660,390 M280,470 C300,500 310,530 300,560 M260,300 C240,340 230,380 250,420 C270,460 300,470 330,460 M330,460 C360,440 380,420 400,390 M500,560 C520,600 540,620 560,640 M480,540 C520,520 560,520 600,540 M640,420 C660,460 650,500 630,520 M700,280 C720,260 740,240 760,250 C780,270 770,300 750,320 M150,300 C170,340 180,380 190,420 M560,740 C580,770 600,790 620,800 M420,590 C400,620 390,650 400,680 M700,560 C720,600 730,640 720,680 M360,180 C380,220 390,260 380,300 C370,330 350,350 330,360 M560,300 C590,280 620,290 640,320" fill="none" stroke="#50ccd4" stroke-width="1.15" stroke-linecap="round" stroke-linejoin="round" vector-effect="non-scaling-stroke"/>
<polygon points="212,292 238,268 392,378 368,407" fill="#18b0c0" stroke="#18b0c0" stroke-width="0.8" stroke-linejoin="round" vector-effect="non-scaling-stroke"/>
<polygon points="297,262 323,243 443,353 417,382" fill="#18b0c0" stroke="#18b0c0" stroke-width="0.8" stroke-linejoin="round" vector-effect="non-scaling-stroke"/>
<polygon points="463,258 482,237 642,282 628,313" fill="#18b0c0" stroke="#18b0c0" stroke-width="0.8" stroke-linejoin="round" vector-effect="non-scaling-stroke"/>
<polygon points="518,483 542,452 752,497 733,528" fill="#18b0c0" stroke="#18b0c0" stroke-width="0.8" stroke-linejoin="round" vector-effect="non-scaling-stroke"/>
<polygon points="588,558 602,537 702,557 693,583" fill="#18b0c0" stroke="#18b0c0" stroke-width="0.8" stroke-linejoin="round" vector-effect="non-scaling-stroke"/>
<polygon points="327,572 358,558 483,688 452,712" fill="#18b0c0" stroke="#18b0c0" stroke-width="0.8" stroke-linejoin="round" vector-effect="non-scaling-stroke"/>
<polygon points="418,588 442,567 582,627 568,658" fill="#18b0c0" stroke="#18b0c0" stroke-width="0.8" stroke-linejoin="round" vector-effect="non-scaling-stroke"/>
<polygon points="193,563 212,542 312,487 322,513" fill="#18b0c0" stroke="#18b0c0" stroke-width="0.8" stroke-linejoin="round" vector-effect="non-scaling-stroke"/>
<polygon points="518,380 542,373 567,458 543,467" fill="#18b0c0" stroke="#18b0c0" stroke-width="0.8" stroke-linejoin="round" vector-effect="non-scaling-stroke"/>
<polygon points="228,172 252,158 272,238 248,247" fill="#18b0c0" stroke="#18b0c0" stroke-width="0.8" stroke-linejoin="round" vector-effect="non-scaling-stroke"/>
</g>
<g transform="translate(401.00,124.70) scale(0.11047,0.11094) translate(-80,-58)">
<path d="M560,760 C540,790 480,800 420,800 C370,810 340,830 350,860 C370,880 430,870 480,860 C520,860 560,850 590,820 C600,800 590,780 570,770" fill="none" stroke="#e0b8c8" stroke-width="1.2" vector-effect="non-scaling-stroke"/>
<path d="M190,720 C150,690 100,660 90,620 C90,590 130,580 180,580 C200,570 220,550 240,530 M240,530 C270,480 290,440 300,400 C300,360 280,320 250,290 C220,250 200,220 210,180 C200,170 160,200 120,230 C90,260 100,290 130,300 C160,320 170,370 200,400 C230,430 260,450 280,470 M210,180 C230,160 250,160 260,180 C270,220 280,250 290,270 M400,390 C420,330 440,260 470,220 C480,200 460,180 430,160 C410,130 420,90 440,70 C470,60 490,80 490,100 C480,120 460,140 470,170 C490,190 510,210 530,230 M530,230 C560,210 600,180 630,160 C660,150 670,170 670,200 C670,230 680,260 700,280 C730,300 760,320 760,370 C760,410 730,420 720,440 M740,460 C780,450 820,460 830,490 C840,520 870,540 880,570 C880,600 840,620 810,610 C780,600 760,580 740,570 M600,560 C620,600 640,620 650,640 C660,670 680,700 700,720 C720,750 720,800 710,870 M480,690 C500,720 530,740 560,740 C600,740 620,720 640,700 M330,660 C340,700 360,720 380,740 C360,760 340,740 350,700 M220,600 C240,640 260,680 290,700 C320,720 360,740 390,750 M400,490 C390,450 410,420 440,420 C470,430 480,470 470,500 C460,530 420,540 400,520 C390,510 390,500 400,490 M450,300 C480,320 520,350 540,380 M540,390 C570,370 620,370 660,400 C690,420 700,450 690,480 M300,580 C320,540 360,520 400,530 M560,640 C580,600 600,580 620,560 M620,480 C640,440 670,420 700,430 M300,400 C340,420 370,450 390,480 M640,300 C660,330 670,360 660,390 M280,470 C300,500 310,530 300,560 M260,300 C240,340 230,380 250,420 C270,460 300,470 330,460 M330,460 C360,440 380,420 400,390 M500,560 C520,600 540,620 560,640 M480,540 C520,520 560,520 600,540 M640,420 C660,460 650,500 630,520 M700,280 C720,260 740,240 760,250 C780,270 770,300 750,320 M150,300 C170,340 180,380 190,420 M560,740 C580,770 600,790 620,800 M420,590 C400,620 390,650 400,680 M700,560 C720,600 730,640 720,680 M360,180 C380,220 390,260 380,300 C370,330 350,350 330,360 M560,300 C590,280 620,290 640,320" fill="none" stroke="#4444d0" stroke-width="1.15" stroke-linecap="round" stroke-linejoin="round" vector-effect="non-scaling-stroke"/>
<polygon points="212,292 238,268 392,378 368,407" fill="#1414b8" stroke="#1414b8" stroke-width="0.8" stroke-linejoin="round" vector-effect="non-scaling-stroke"/>
<polygon points="297,262 323,243 443,353 417,382" fill="#1414b8" stroke="#1414b8" stroke-width="0.8" stroke-linejoin="round" vector-effect="non-scaling-stroke"/>
<polygon points="463,258 482,237 642,282 628,313" fill="#1414b8" stroke="#1414b8" stroke-width="0.8" stroke-linejoin="round" vector-effect="non-scaling-stroke"/>
<polygon points="518,483 542,452 752,497 733,528" fill="#1414b8" stroke="#1414b8" stroke-width="0.8" stroke-linejoin="round" vector-effect="non-scaling-stroke"/>
<polygon points="588,558 602,537 702,557 693,583" fill="#1414b8" stroke="#1414b8" stroke-width="0.8" stroke-linejoin="round" vector-effect="non-scaling-stroke"/>
<polygon points="327,572 358,558 483,688 452,712" fill="#1414b8" stroke="#1414b8" stroke-width="0.8" stroke-linejoin="round" vector-effect="non-scaling-stroke"/>
<polygon points="418,588 442,567 582,627 568,658" fill="#1414b8" stroke="#1414b8" stroke-width="0.8" stroke-linejoin="round" vector-effect="non-scaling-stroke"/>
<polygon points="193,563 212,542 312,487 322,513" fill="#1414b8" stroke="#1414b8" stroke-width="0.8" stroke-linejoin="round" vector-effect="non-scaling-stroke"/>
<polygon points="518,380 542,373 567,458 543,467" fill="#1414b8" stroke="#1414b8" stroke-width="0.8" stroke-linejoin="round" vector-effect="non-scaling-stroke"/>
<polygon points="228,172 252,158 272,238 248,247" fill="#1414b8" stroke="#1414b8" stroke-width="0.8" stroke-linejoin="round" vector-effect="non-scaling-stroke"/>
</g>
<g transform="translate(530.20,151.50) scale(0.11601,0.09663) translate(-80,-58)">
<path d="M560,760 C540,790 480,800 420,800 C370,810 340,830 350,860 C370,880 430,870 480,860 C520,860 560,850 590,820 C600,800 590,780 570,770" fill="none" stroke="#e0b8c8" stroke-width="1.2" vector-effect="non-scaling-stroke"/>
<path d="M190,720 C150,690 100,660 90,620 C90,590 130,580 180,580 C200,570 220,550 240,530 M240,530 C270,480 290,440 300,400 C300,360 280,320 250,290 C220,250 200,220 210,180 C200,170 160,200 120,230 C90,260 100,290 130,300 C160,320 170,370 200,400 C230,430 260,450 280,470 M210,180 C230,160 250,160 260,180 C270,220 280,250 290,270 M400,390 C420,330 440,260 470,220 C480,200 460,180 430,160 C410,130 420,90 440,70 C470,60 490,80 490,100 C480,120 460,140 470,170 C490,190 510,210 530,230 M530,230 C560,210 600,180 630,160 C660,150 670,170 670,200 C670,230 680,260 700,280 C730,300 760,320 760,370 C760,410 730,420 720,440 M740,460 C780,450 820,460 830,490 C840,520 870,540 880,570 C880,600 840,620 810,610 C780,600 760,580 740,570 M600,560 C620,600 640,620 650,640 C660,670 680,700 700,720 C720,750 720,800 710,870 M480,690 C500,720 530,740 560,740 C600,740 620,720 640,700 M330,660 C340,700 360,720 380,740 C360,760 340,740 350,700 M220,600 C240,640 260,680 290,700 C320,720 360,740 390,750 M400,490 C390,450 410,420 440,420 C470,430 480,470 470,500 C460,530 420,540 400,520 C390,510 390,500 400,490 M450,300 C480,320 520,350 540,380 M540,390 C570,370 620,370 660,400 C690,420 700,450 690,480 M300,580 C320,540 360,520 400,530 M560,640 C580,600 600,580 620,560 M620,480 C640,440 670,420 700,430 M300,400 C340,420 370,450 390,480 M640,300 C660,330 670,360 660,390 M280,470 C300,500 310,530 300,560 M260,300 C240,340 230,380 250,420 C270,460 300,470 330,460 M330,460 C360,440 380,420 400,390 M500,560 C520,600 540,620 560,640 M480,540 C520,520 560,520 600,540 M640,420 C660,460 650,500 630,520 M700,280 C720,260 740,240 760,250 C780,270 770,300 750,320 M150,300 C170,340 180,380 190,420 M560,740 C580,770 600,790 620,800 M420,590 C400,620 390,650 400,680 M700,560 C720,600 730,640 720,680 M360,180 C380,220 390,260 380,300 C370,330 350,350 330,360 M560,300 C590,280 620,290 640,320" fill="none" stroke="#58c058" stroke-width="1.15" stroke-linecap="round" stroke-linejoin="round" vector-effect="non-scaling-stroke"/>
<polygon points="212,292 238,268 392,378 368,407" fill="#209820" stroke="#209820" stroke-width="0.8" stroke-linejoin="round" vector-effect="non-scaling-stroke"/>
<polygon points="297,262 323,243 443,353 417,382" fill="#209820" stroke="#209820" stroke-width="0.8" stroke-linejoin="round" vector-effect="non-scaling-stroke"/>
<polygon points="463,258 482,237 642,282 628,313" fill="#209820" stroke="#209820" stroke-width="0.8" stroke-linejoin="round" vector-effect="non-scaling-stroke"/>
<polygon points="518,483 542,452 752,497 733,528" fill="#209820" stroke="#209820" stroke-width="0.8" stroke-linejoin="round" vector-effect="non-scaling-stroke"/>
<polygon points="588,558 602,537 702,557 693,583" fill="#209820" stroke="#209820" stroke-width="0.8" stroke-linejoin="round" vector-effect="non-scaling-stroke"/>
<polygon points="327,572 358,558 483,688 452,712" fill="#209820" stroke="#209820" stroke-width="0.8" stroke-linejoin="round" vector-effect="non-scaling-stroke"/>
<polygon points="418,588 442,567 582,627 568,658" fill="#209820" stroke="#209820" stroke-width="0.8" stroke-linejoin="round" vector-effect="non-scaling-stroke"/>
<polygon points="193,563 212,542 312,487 322,513" fill="#209820" stroke="#209820" stroke-width="0.8" stroke-linejoin="round" vector-effect="non-scaling-stroke"/>
<polygon points="518,380 542,373 567,458 543,467" fill="#209820" stroke="#209820" stroke-width="0.8" stroke-linejoin="round" vector-effect="non-scaling-stroke"/>
<polygon points="228,172 252,158 272,238 248,247" fill="#209820" stroke="#209820" stroke-width="0.8" stroke-linejoin="round" vector-effect="non-scaling-stroke"/>
</g>
<g transform="translate(167.90,355.80) scale(0.10012,0.10024) translate(-80,-58)">
<path d="M560,760 C540,790 480,800 420,800 C370,810 340,830 350,860 C370,880 430,870 480,860 C520,860 560,850 590,820 C600,800 590,780 570,770" fill="none" stroke="#e0b8c8" stroke-width="1.2" vector-effect="non-scaling-stroke"/>
<path d="M190,720 C150,690 100,660 90,620 C90,590 130,580 180,580 C200,570 220,550 240,530 M240,530 C270,480 290,440 300,400 C300,360 280,320 250,290 C220,250 200,220 210,180 C200,170 160,200 120,230 C90,260 100,290 130,300 C160,320 170,370 200,400 C230,430 260,450 280,470 M210,180 C230,160 250,160 260,180 C270,220 280,250 290,270 M400,390 C420,330 440,260 470,220 C480,200 460,180 430,160 C410,130 420,90 440,70 C470,60 490,80 490,100 C480,120 460,140 470,170 C490,190 510,210 530,230 M530,230 C560,210 600,180 630,160 C660,150 670,170 670,200 C670,230 680,260 700,280 C730,300 760,320 760,370 C760,410 730,420 720,440 M740,460 C780,450 820,460 830,490 C840,520 870,540 880,570 C880,600 840,620 810,610 C780,600 760,580 740,570 M600,560 C620,600 640,620 650,640 C660,670 680,700 700,720 C720,750 720,800 710,870 M480,690 C500,720 530,740 560,740 C600,740 620,720 640,700 M330,660 C340,700 360,720 380,740 C360,760 340,740 350,700 M220,600 C240,640 260,680 290,700 C320,720 360,740 390,750 M400,490 C390,450 410,420 440,420 C470,430 480,470 470,500 C460,530 420,540 400,520 C390,510 390,500 400,490 M450,300 C480,320 520,350 540,380 M540,390 C570,370 620,370 660,400 C690,420 700,450 690,480 M300,580 C320,540 360,520 400,530 M560,640 C580,600 600,580 620,560 M620,480 C640,440 670,420 700,430 M300,400 C340,420 370,450 390,480 M640,300 C660,330 670,360 660,390 M280,470 C300,500 310,530 300,560 M260,300 C240,340 230,380 250,420 C270,460 300,470 330,460 M330,460 C360,440 380,420 400,390 M500,560 C520,600 540,620 560,640 M480,540 C520,520 560,520 600,540 M640,420 C660,460 650,500 630,520 M700,280 C720,260 740,240 760,250 C780,270 770,300 750,320 M150,300 C170,340 180,380 190,420 M560,740 C580,770 600,790 620,800 M420,590 C400,620 390,650 400,680 M700,560 C720,600 730,640 720,680 M360,180 C380,220 390,260 380,300 C370,330 350,350 330,360 M560,300 C590,280 620,290 640,320" fill="none" stroke="#b88070" stroke-width="1.15" stroke-linecap="round" stroke-linejoin="round" vector-effect="non-scaling-stroke"/>
<polygon points="212,292 238,268 392,378 368,407" fill="#a05830" stroke="#a05830" stroke-width="0.8" stroke-linejoin="round" vector-effect="non-scaling-stroke"/>
<polygon points="297,262 323,243 443,353 417,382" fill="#a05830" stroke="#a05830" stroke-width="0.8" stroke-linejoin="round" vector-effect="non-scaling-stroke"/>
<polygon points="463,258 482,237 642,282 628,313" fill="#a05830" stroke="#a05830" stroke-width="0.8" stroke-linejoin="round" vector-effect="non-scaling-stroke"/>
<polygon points="518,483 542,452 752,497 733,528" fill="#a05830" stroke="#a05830" stroke-width="0.8" stroke-linejoin="round" vector-effect="non-scaling-stroke"/>
<polygon points="588,558 602,537 702,557 693,583" fill="#a05830" stroke="#a05830" stroke-width="0.8" stroke-linejoin="round" vector-effect="non-scaling-stroke"/>
<polygon points="327,572 358,558 483,688 452,712" fill="#a05830" stroke="#a05830" stroke-width="0.8" stroke-linejoin="round" vector-effect="non-scaling-stroke"/>
<polygon points="418,588 442,567 582,627 568,658" fill="#a05830" stroke="#a05830" stroke-width="0.8" stroke-linejoin="round" vector-effect="non-scaling-stroke"/>
<polygon points="193,563 212,542 312,487 322,513" fill="#a05830" stroke="#a05830" stroke-width="0.8" stroke-linejoin="round" vector-effect="non-scaling-stroke"/>
<polygon points="518,380 542,373 567,458 543,467" fill="#a05830" stroke="#a05830" stroke-width="0.8" stroke-linejoin="round" vector-effect="non-scaling-stroke"/>
<polygon points="228,172 252,158 272,238 248,247" fill="#a05830" stroke="#a05830" stroke-width="0.8" stroke-linejoin="round" vector-effect="non-scaling-stroke"/>
</g>
<g transform="translate(269.30,397.80) scale(0.09840,0.11286) translate(-80,-58)">
<path d="M560,760 C540,790 480,800 420,800 C370,810 340,830 350,860 C370,880 430,870 480,860 C520,860 560,850 590,820 C600,800 590,780 570,770" fill="none" stroke="#e0b8c8" stroke-width="1.2" vector-effect="non-scaling-stroke"/>
<path d="M190,720 C150,690 100,660 90,620 C90,590 130,580 180,580 C200,570 220,550 240,530 M240,530 C270,480 290,440 300,400 C300,360 280,320 250,290 C220,250 200,220 210,180 C200,170 160,200 120,230 C90,260 100,290 130,300 C160,320 170,370 200,400 C230,430 260,450 280,470 M210,180 C230,160 250,160 260,180 C270,220 280,250 290,270 M400,390 C420,330 440,260 470,220 C480,200 460,180 430,160 C410,130 420,90 440,70 C470,60 490,80 490,100 C480,120 460,140 470,170 C490,190 510,210 530,230 M530,230 C560,210 600,180 630,160 C660,150 670,170 670,200 C670,230 680,260 700,280 C730,300 760,320 760,370 C760,410 730,420 720,440 M740,460 C780,450 820,460 830,490 C840,520 870,540 880,570 C880,600 840,620 810,610 C780,600 760,580 740,570 M600,560 C620,600 640,620 650,640 C660,670 680,700 700,720 C720,750 720,800 710,870 M480,690 C500,720 530,740 560,740 C600,740 620,720 640,700 M330,660 C340,700 360,720 380,740 C360,760 340,740 350,700 M220,600 C240,640 260,680 290,700 C320,720 360,740 390,750 M400,490 C390,450 410,420 440,420 C470,430 480,470 470,500 C460,530 420,540 400,520 C390,510 390,500 400,490 M450,300 C480,320 520,350 540,380 M540,390 C570,370 620,370 660,400 C690,420 700,450 690,480 M300,580 C320,540 360,520 400,530 M560,640 C580,600 600,580 620,560 M620,480 C640,440 670,420 700,430 M300,400 C340,420 370,450 390,480 M640,300 C660,330 670,360 660,390 M280,470 C300,500 310,530 300,560 M260,300 C240,340 230,380 250,420 C270,460 300,470 330,460 M330,460 C360,440 380,420 400,390 M500,560 C520,600 540,620 560,640 M480,540 C520,520 560,520 600,540 M640,420 C660,460 650,500 630,520 M700,280 C720,260 740,240 760,250 C780,270 770,300 750,320 M150,300 C170,340 180,380 190,420 M560,740 C580,770 600,790 620,800 M420,590 C400,620 390,650 400,680 M700,560 C720,600 730,640 720,680 M360,180 C380,220 390,260 380,300 C370,330 350,350 330,360 M560,300 C590,280 620,290 640,320" fill="none" stroke="#d090d8" stroke-width="1.15" stroke-linecap="round" stroke-linejoin="round" vector-effect="non-scaling-stroke"/>
<polygon points="212,292 238,268 392,378 368,407" fill="#b050b8" stroke="#b050b8" stroke-width="0.8" stroke-linejoin="round" vector-effect="non-scaling-stroke"/>
<polygon points="297,262 323,243 443,353 417,382" fill="#b050b8" stroke="#b050b8" stroke-width="0.8" stroke-linejoin="round" vector-effect="non-scaling-stroke"/>
<polygon points="463,258 482,237 642,282 628,313" fill="#b050b8" stroke="#b050b8" stroke-width="0.8" stroke-linejoin="round" vector-effect="non-scaling-stroke"/>
<polygon points="518,483 542,452 752,497 733,528" fill="#b050b8" stroke="#b050b8" stroke-width="0.8" stroke-linejoin="round" vector-effect="non-scaling-stroke"/>
<polygon points="588,558 602,537 702,557 693,583" fill="#b050b8" stroke="#b050b8" stroke-width="0.8" stroke-linejoin="round" vector-effect="non-scaling-stroke"/>
<polygon points="327,572 358,558 483,688 452,712" fill="#b050b8" stroke="#b050b8" stroke-width="0.8" stroke-linejoin="round" vector-effect="non-scaling-stroke"/>
<polygon points="418,588 442,567 582,627 568,658" fill="#b050b8" stroke="#b050b8" stroke-width="0.8" stroke-linejoin="round" vector-effect="non-scaling-stroke"/>
<polygon points="193,563 212,542 312,487 322,513" fill="#b050b8" stroke="#b050b8" stroke-width="0.8" stroke-linejoin="round" vector-effect="non-scaling-stroke"/>
<polygon points="518,380 542,373 567,458 543,467" fill="#b050b8" stroke="#b050b8" stroke-width="0.8" stroke-linejoin="round" vector-effect="non-scaling-stroke"/>
<polygon points="228,172 252,158 272,238 248,247" fill="#b050b8" stroke="#b050b8" stroke-width="0.8" stroke-linejoin="round" vector-effect="non-scaling-stroke"/>
</g>
<g transform="translate(513.00,356.00) scale(0.11170,0.12692) translate(-80,-58)">
<path d="M560,760 C540,790 480,800 420,800 C370,810 340,830 350,860 C370,880 430,870 480,860 C520,860 560,850 590,820 C600,800 590,780 570,770" fill="none" stroke="#e0b8c8" stroke-width="1.2" vector-effect="non-scaling-stroke"/>
<path d="M190,720 C150,690 100,660 90,620 C90,590 130,580 180,580 C200,570 220,550 240,530 M240,530 C270,480 290,440 300,400 C300,360 280,320 250,290 C220,250 200,220 210,180 C200,170 160,200 120,230 C90,260 100,290 130,300 C160,320 170,370 200,400 C230,430 260,450 280,470 M210,180 C230,160 250,160 260,180 C270,220 280,250 290,270 M400,390 C420,330 440,260 470,220 C480,200 460,180 430,160 C410,130 420,90 440,70 C470,60 490,80 490,100 C480,120 460,140 470,170 C490,190 510,210 530,230 M530,230 C560,210 600,180 630,160 C660,150 670,170 670,200 C670,230 680,260 700,280 C730,300 760,320 760,370 C760,410 730,420 720,440 M740,460 C780,450 820,460 830,490 C840,520 870,540 880,570 C880,600 840,620 810,610 C780,600 760,580 740,570 M600,560 C620,600 640,620 650,640 C660,670 680,700 700,720 C720,750 720,800 710,870 M480,690 C500,720 530,740 560,740 C600,740 620,720 640,700 M330,660 C340,700 360,720 380,740 C360,760 340,740 350,700 M220,600 C240,640 260,680 290,700 C320,720 360,740 390,750 M400,490 C390,450 410,420 440,420 C470,430 480,470 470,500 C460,530 420,540 400,520 C390,510 390,500 400,490 M450,300 C480,320 520,350 540,380 M540,390 C570,370 620,370 660,400 C690,420 700,450 690,480 M300,580 C320,540 360,520 400,530 M560,640 C580,600 600,580 620,560 M620,480 C640,440 670,420 700,430 M300,400 C340,420 370,450 390,480 M640,300 C660,330 670,360 660,390 M280,470 C300,500 310,530 300,560 M260,300 C240,340 230,380 250,420 C270,460 300,470 330,460 M330,460 C360,440 380,420 400,390 M500,560 C520,600 540,620 560,640 M480,540 C520,520 560,520 600,540 M640,420 C660,460 650,500 630,520 M700,280 C720,260 740,240 760,250 C780,270 770,300 750,320 M150,300 C170,340 180,380 190,420 M560,740 C580,770 600,790 620,800 M420,590 C400,620 390,650 400,680 M700,560 C720,600 730,640 720,680 M360,180 C380,220 390,260 380,300 C370,330 350,350 330,360 M560,300 C590,280 620,290 640,320" fill="none" stroke="#e0d848" stroke-width="1.15" stroke-linecap="round" stroke-linejoin="round" vector-effect="non-scaling-stroke"/>
<polygon points="212,292 238,268 392,378 368,407" fill="#d0c800" stroke="#d0c800" stroke-width="0.8" stroke-linejoin="round" vector-effect="non-scaling-stroke"/>
<polygon points="297,262 323,243 443,353 417,382" fill="#d0c800" stroke="#d0c800" stroke-width="0.8" stroke-linejoin="round" vector-effect="non-scaling-stroke"/>
<polygon points="463,258 482,237 642,282 628,313" fill="#d0c800" stroke="#d0c800" stroke-width="0.8" stroke-linejoin="round" vector-effect="non-scaling-stroke"/>
<polygon points="518,483 542,452 752,497 733,528" fill="#d0c800" stroke="#d0c800" stroke-width="0.8" stroke-linejoin="round" vector-effect="non-scaling-stroke"/>
<polygon points="588,558 602,537 702,557 693,583" fill="#d0c800" stroke="#d0c800" stroke-width="0.8" stroke-linejoin="round" vector-effect="non-scaling-stroke"/>
<polygon points="327,572 358,558 483,688 452,712" fill="#d0c800" stroke="#d0c800" stroke-width="0.8" stroke-linejoin="round" vector-effect="non-scaling-stroke"/>
<polygon points="418,588 442,567 582,627 568,658" fill="#d0c800" stroke="#d0c800" stroke-width="0.8" stroke-linejoin="round" vector-effect="non-scaling-stroke"/>
<polygon points="193,563 212,542 312,487 322,513" fill="#d0c800" stroke="#d0c800" stroke-width="0.8" stroke-linejoin="round" vector-effect="non-scaling-stroke"/>
<polygon points="518,380 542,373 567,458 543,467" fill="#d0c800" stroke="#d0c800" stroke-width="0.8" stroke-linejoin="round" vector-effect="non-scaling-stroke"/>
<polygon points="228,172 252,158 272,238 248,247" fill="#d0c800" stroke="#d0c800" stroke-width="0.8" stroke-linejoin="round" vector-effect="non-scaling-stroke"/>
</g>
<g transform="translate(156.75,486.75) scale(0.05000,0.05000) translate(-135,-95)">
<path d="M740,1560 C750,1620 740,1700 720,1740 C680,1770 620,1760 560,1770 C510,1790 500,1840 520,1880 C560,1910 650,1900 720,1880 C780,1870 820,1880 840,1870 C880,1830 920,1800 940,1760 C960,1700 920,1640 860,1600 C830,1580 800,1570 770,1570" fill="none" stroke="#e0b8c8" stroke-width="1.2" vector-effect="non-scaling-stroke"/>
<path d="M380,800 C340,760 300,720 250,700 C210,680 210,600 200,540 C190,480 130,450 130,400 C140,350 200,340 260,330 C300,310 300,260 350,240 C400,220 440,220 470,230 M470,230 C460,180 530,120 600,110 C650,110 640,150 600,180 C560,210 500,230 470,230 M470,230 C490,270 500,300 470,320 C430,350 400,400 395,440 M490,290 C540,330 580,380 590,420 M480,380 C500,420 530,440 560,460 M840,500 C850,470 840,440 820,400 C800,360 790,300 820,270 C880,240 950,180 1000,120 C1040,80 1080,80 1100,110 C1130,160 1140,220 1120,260 C1090,270 1010,250 1010,270 C1020,300 1050,330 1040,370 C1020,400 1000,400 980,390 M700,540 C760,510 820,510 850,530 C880,540 900,520 930,500 C960,480 990,470 1000,480 M600,820 C620,860 650,880 690,860 C720,840 740,820 780,830 C820,840 850,870 880,860 M720,900 C750,880 780,870 800,880 C820,900 800,930 770,920 M840,680 C880,640 920,620 960,640 C990,660 1000,700 990,740 M870,420 C900,400 940,400 960,420 C990,440 1000,480 990,520 M1040,400 C1080,360 1130,320 1160,330 C1200,350 1240,400 1280,450 C1290,480 1270,500 1250,520 C1240,560 1260,600 1260,640 C1230,660 1100,640 1060,620 M1320,420 C1350,400 1400,400 1420,430 C1430,460 1400,500 1390,530 C1370,580 1340,640 1320,680 C1290,710 1230,720 1160,730 M1400,500 C1420,560 1450,600 1460,640 C1470,700 1440,780 1420,830 C1400,860 1380,880 1360,900 M1100,760 C1150,740 1220,760 1280,780 C1330,800 1360,850 1380,900 M1130,860 C1180,830 1230,830 1280,850 C1320,870 1340,900 1350,950 M810,500 C830,520 850,540 860,560 C880,600 900,640 930,680 M800,700 C840,740 860,790 860,840 C860,880 840,920 820,960 M150,1740 C200,1660 250,1580 270,1530 C260,1480 200,1440 160,1400 C140,1360 150,1320 170,1300 M170,1350 C230,1390 300,1420 380,1440 M140,1200 C140,1120 170,1080 210,1070 M440,1100 C460,1060 520,1060 540,1100 C550,1140 530,1160 510,1160 M860,1080 C830,1140 810,1200 820,1240 C840,1280 900,1300 930,1270 C950,1230 940,1180 920,1140 M750,1360 C770,1420 800,1460 850,1470 C900,1470 920,1420 900,1380 M700,1210 C720,1260 740,1320 760,1360 M1380,940 C1420,920 1480,900 1540,900 C1580,920 1580,980 1560,1040 C1540,1100 1550,1180 1600,1220 C1650,1260 1660,1330 1640,1380 C1610,1410 1540,1430 1480,1400 C1420,1370 1380,1320 1370,1280 C1360,1240 1380,1200 1390,1160 M1140,1380 C1200,1370 1260,1380 1300,1420 C1340,1480 1350,1560 1340,1640 M850,1100 C840,1150 830,1200 830,1250 C820,1300 800,1350 780,1400 M1060,1160 C1100,1180 1140,1200 1170,1250 C1180,1300 1160,1320 1140,1340 C1120,1360 1100,1380 1080,1400 M1250,940 C1260,1000 1270,1060 1260,1100 C1250,1160 1230,1200 1200,1220 M1170,1100 C1140,1140 1120,1200 1150,1230 C1180,1260 1230,1250 1250,1220 M800,1500 C850,1480 900,1420 920,1380" fill="none" stroke="#202020" stroke-width="1.3" stroke-linecap="round" stroke-linejoin="round" vector-effect="non-scaling-stroke"/>
<polygon points="380,445 430,425 665,700 625,745" fill="#000000" stroke="#000000" stroke-width="0.8" stroke-linejoin="round" vector-effect="non-scaling-stroke"/>
<polygon points="515,455 560,440 800,700 760,745" fill="#000000" stroke="#000000" stroke-width="0.8" stroke-linejoin="round" vector-effect="non-scaling-stroke"/>
<polygon points="430,740 455,745 470,960 330,1200 210,1390 140,1360 170,1230 360,950" fill="#000000" stroke="#000000" stroke-width="0.8" stroke-linejoin="round" vector-effect="non-scaling-stroke"/>
<polygon points="570,790 590,805 400,970 380,955" fill="#000000" stroke="#000000" stroke-width="0.8" stroke-linejoin="round" vector-effect="non-scaling-stroke"/>
<polygon points="470,1140 570,1150 740,1490 650,1500" fill="#000000" stroke="#000000" stroke-width="0.8" stroke-linejoin="round" vector-effect="non-scaling-stroke"/>
<polygon points="500,1140 560,1140 1000,1360 1120,1380 1110,1420 980,1420 520,1190" fill="#000000" stroke="#000000" stroke-width="0.8" stroke-linejoin="round" vector-effect="non-scaling-stroke"/>
<polygon points="1120,730 1180,760 960,1000 900,990" fill="#000000" stroke="#000000" stroke-width="0.8" stroke-linejoin="round" vector-effect="non-scaling-stroke"/>
<polygon points="950,460 975,455 1060,720 1040,730" fill="#000000" stroke="#000000" stroke-width="0.8" stroke-linejoin="round" vector-effect="non-scaling-stroke"/>
<polygon points="1080,940 1140,930 1390,1190 1300,1160" fill="#000000" stroke="#000000" stroke-width="0.8" stroke-linejoin="round" vector-effect="non-scaling-stroke"/>
<polygon points="1060,1100 1090,1100 1120,1260 1085,1270" fill="#000000" stroke="#000000" stroke-width="0.8" stroke-linejoin="round" vector-effect="non-scaling-stroke"/>
<polygon points="1100,1430 1130,1430 1135,1560 1110,1560" fill="#000000" stroke="#000000" stroke-width="0.8" stroke-linejoin="round" vector-effect="non-scaling-stroke"/>
<polygon points="950,450 990,440 1010,560 980,560" fill="#000000" stroke="#000000" stroke-width="0.8" stroke-linejoin="round" vector-effect="non-scaling-stroke"/>
<path d="M380,1080 C390,1250 420,1450 480,1600 C500,1630 540,1640 560,1630" fill="none" stroke="#000000" stroke-width="2.2" stroke-linecap="round" vector-effect="non-scaling-stroke"/>
</g>
<g transform="translate(126,11)"><rect x="0" y="0" width="850.0" height="586.0" fill="none" stroke="#282828" stroke-width="2.2"/>
<path d="M0,544.14H9M850.0,544.14H841.0" stroke="#282828" stroke-width="2.2"/>
<path d="M0,502.29H17M850.0,502.29H833.0" stroke="#282828" stroke-width="2.2"/>
<path d="M0,460.43H9M850.0,460.43H841.0" stroke="#282828" stroke-width="2.2"/>
<path d="M0,418.57H17M850.0,418.57H833.0" stroke="#282828" stroke-width="2.2"/>
<path d="M0,376.71H9M850.0,376.71H841.0" stroke="#282828" stroke-width="2.2"/>
<path d="M0,334.86H17M850.0,334.86H833.0" stroke="#282828" stroke-width="2.2"/>
<path d="M0,293.00H9M850.0,293.00H841.0" stroke="#282828" stroke-width="2.2"/>
<path d="M0,251.14H17M850.0,251.14H833.0" stroke="#282828" stroke-width="2.2"/>
<path d="M0,209.29H9M850.0,209.29H841.0" stroke="#282828" stroke-width="2.2"/>
<path d="M0,167.43H17M850.0,167.43H833.0" stroke="#282828" stroke-width="2.2"/>
<path d="M0,125.57H9M850.0,125.57H841.0" stroke="#282828" stroke-width="2.2"/>
<path d="M0,83.71H17M850.0,83.71H833.0" stroke="#282828" stroke-width="2.2"/>
<path d="M0,41.86H9M850.0,41.86H841.0" stroke="#282828" stroke-width="2.2"/>
<path d="M85.00,586.0V577.0M85.00,0V9" stroke="#282828" stroke-width="2"/>
<path d="M170.00,586.0V569.0M170.00,0V17" stroke="#282828" stroke-width="2"/>
<path d="M255.00,586.0V577.0M255.00,0V9" stroke="#282828" stroke-width="2"/>
<path d="M340.00,586.0V569.0M340.00,0V17" stroke="#282828" stroke-width="2"/>
<path d="M425.00,586.0V577.0M425.00,0V9" stroke="#282828" stroke-width="2"/>
<path d="M510.00,586.0V569.0M510.00,0V17" stroke="#282828" stroke-width="2"/>
<path d="M595.00,586.0V577.0M595.00,0V9" stroke="#282828" stroke-width="2"/>
<path d="M680.00,586.0V569.0M680.00,0V17" stroke="#282828" stroke-width="2"/>
<path d="M765.00,586.0V577.0M765.00,0V9" stroke="#282828" stroke-width="2"/><text transform="translate(-7.6,594.60) scale(1,1.06)" text-anchor="end" class="t">0</text>
<text transform="translate(-7.6,510.89) scale(1,1.06)" text-anchor="end" class="t">1</text>
<text transform="translate(-7.6,427.17) scale(1,1.06)" text-anchor="end" class="t">2</text>
<text transform="translate(-7.6,343.46) scale(1,1.06)" text-anchor="end" class="t">3</text>
<text transform="translate(-7.6,259.74) scale(1,1.06)" text-anchor="end" class="t">4</text>
<text transform="translate(-7.6,176.03) scale(1,1.06)" text-anchor="end" class="t">5</text>
<text transform="translate(-7.6,92.31) scale(1,1.06)" text-anchor="end" class="t">6</text>
<text transform="translate(-7.6,8.60) scale(1,1.06)" text-anchor="end" class="t">7</text>
<text transform="translate(0.00,611.8) scale(1,1.06)" text-anchor="middle" class="t">0</text>
<text transform="translate(170.00,611.8) scale(1,1.06)" text-anchor="middle" class="t">100</text>
<text transform="translate(340.00,611.8) scale(1,1.06)" text-anchor="middle" class="t">200</text>
<text transform="translate(510.00,611.8) scale(1,1.06)" text-anchor="middle" class="t">300</text>
<text transform="translate(680.00,611.8) scale(1,1.06)" text-anchor="middle" class="t">400</text>
<text transform="translate(850.00,611.8) scale(1,1.06)" text-anchor="middle" class="t">500</text>
<text x="427.0" y="635.0" text-anchor="middle" class="t">Time (ns)</text>
<text transform="translate(-33,293.0) rotate(-90)" text-anchor="middle" class="t">RMSD (Ang.)</text></g>
<ellipse cx="134.5" cy="1370.6" rx="4.1" ry="4.35" fill="#000000"/>
<ellipse cx="136.4" cy="1207.8" rx="4.1" ry="4.35" fill="#0a0ae6"/>
<ellipse cx="138.0" cy="1172.7" rx="4.1" ry="4.35" fill="#0a0ae6"/>
<ellipse cx="139.7" cy="1128.9" rx="4.1" ry="4.35" fill="#0a0ae6"/>
<ellipse cx="141.1" cy="1098.0" rx="4.1" ry="4.35" fill="#ffff00"/>
<ellipse cx="144.0" cy="1089.8" rx="4.1" ry="4.35" fill="#dcdcdc"/>
<ellipse cx="142.5" cy="1091.0" rx="4.1" ry="4.35" fill="#bc8f8f"/>
<ellipse cx="145.9" cy="1095.7" rx="4.1" ry="4.35" fill="#9400d3"/>
<ellipse cx="147.9" cy="1037.4" rx="4.1" ry="4.35" fill="#00ffff"/>
<ellipse cx="149.6" cy="1049.6" rx="4.1" ry="4.35" fill="#ff00ff"/>
<ellipse cx="151.7" cy="1053.8" rx="4.1" ry="4.35" fill="#ffa500"/>
<ellipse cx="163.3" cy="932.6" rx="4.1" ry="4.35" fill="#ff0000"/>
<ellipse cx="161.5" cy="971.1" rx="4.1" ry="4.35" fill="#ff0000"/>
<ellipse cx="165.0" cy="977.4" rx="4.1" ry="4.35" fill="#ff0000"/>
<ellipse cx="168.5" cy="981.6" rx="4.1" ry="4.35" fill="#ff0000"/>
<ellipse cx="170.3" cy="994.2" rx="4.1" ry="4.35" fill="#ff0000"/>
<ellipse cx="158.0" cy="1002.6" rx="4.1" ry="4.35" fill="#ff0000"/>
<ellipse cx="159.7" cy="1011.7" rx="4.1" ry="4.35" fill="#ff0000"/>
<ellipse cx="171.7" cy="1010.8" rx="4.1" ry="4.35" fill="#ff0000"/>
<ellipse cx="166.7" cy="1017.8" rx="4.1" ry="4.35" fill="#ff0000"/>
<ellipse cx="155.2" cy="1020.8" rx="4.1" ry="4.35" fill="#ff0000"/>
<ellipse cx="152.4" cy="1022.2" rx="4.1" ry="4.35" fill="#ff0000"/>
<ellipse cx="154.9" cy="1026.4" rx="4.1" ry="4.35" fill="#ff0000"/>
<ellipse cx="175.1" cy="1027.8" rx="4.1" ry="4.35" fill="#ff0000"/>
<ellipse cx="176.9" cy="1041.8" rx="4.1" ry="4.35" fill="#ff0000"/>
<ellipse cx="173.4" cy="1044.6" rx="4.1" ry="4.35" fill="#ff0000"/>
<ellipse cx="224.1" cy="953.9" rx="4.1" ry="4.35" fill="#bc8f8f"/>
<ellipse cx="244.8" cy="970.7" rx="4.1" ry="4.35" fill="#bc8f8f"/>
<ellipse cx="246.2" cy="972.5" rx="4.1" ry="4.35" fill="#bc8f8f"/>
<ellipse cx="222.4" cy="974.3" rx="4.1" ry="4.35" fill="#bc8f8f"/>
<ellipse cx="225.9" cy="977.4" rx="4.1" ry="4.35" fill="#bc8f8f"/>
<ellipse cx="202.1" cy="977.1" rx="4.1" ry="4.35" fill="#bc8f8f"/>
<ellipse cx="198.6" cy="981.6" rx="4.1" ry="4.35" fill="#bc8f8f"/>
<ellipse cx="186.7" cy="997.7" rx="4.1" ry="4.35" fill="#bc8f8f"/>
<ellipse cx="203.9" cy="1001.5" rx="4.1" ry="4.35" fill="#bc8f8f"/>
<ellipse cx="249.7" cy="996.7" rx="4.1" ry="4.35" fill="#bc8f8f"/>
<ellipse cx="247.6" cy="1005.7" rx="4.1" ry="4.35" fill="#bc8f8f"/>
<ellipse cx="180.4" cy="1009.6" rx="4.1" ry="4.35" fill="#bc8f8f"/>
<ellipse cx="179.0" cy="1016.6" rx="4.1" ry="4.35" fill="#bc8f8f"/>
<ellipse cx="182.5" cy="1022.9" rx="4.1" ry="4.35" fill="#bc8f8f"/>
<ellipse cx="190.2" cy="1022.9" rx="4.1" ry="4.35" fill="#bc8f8f"/>
<ellipse cx="188.8" cy="1013.8" rx="4.1" ry="4.35" fill="#bc8f8f"/>
<ellipse cx="193.0" cy="1008.2" rx="4.1" ry="4.35" fill="#bc8f8f"/>
<ellipse cx="195.8" cy="1006.1" rx="4.1" ry="4.35" fill="#bc8f8f"/>
<ellipse cx="200.3" cy="1018.7" rx="4.1" ry="4.35" fill="#bc8f8f"/>
<ellipse cx="228.0" cy="1006.8" rx="4.1" ry="4.35" fill="#bc8f8f"/>
<ellipse cx="232.2" cy="1009.6" rx="4.1" ry="4.35" fill="#bc8f8f"/>
<ellipse cx="237.8" cy="1011.0" rx="4.1" ry="4.35" fill="#bc8f8f"/>
<ellipse cx="232.9" cy="1017.3" rx="4.1" ry="4.35" fill="#bc8f8f"/>
<ellipse cx="242.0" cy="1020.1" rx="4.1" ry="4.35" fill="#bc8f8f"/>
<ellipse cx="239.2" cy="1024.3" rx="4.1" ry="4.35" fill="#bc8f8f"/>
<ellipse cx="241.3" cy="1028.5" rx="4.1" ry="4.35" fill="#bc8f8f"/>
<ellipse cx="207.0" cy="1027.8" rx="4.1" ry="4.35" fill="#bc8f8f"/>
<ellipse cx="216.1" cy="1027.8" rx="4.1" ry="4.35" fill="#bc8f8f"/>
<ellipse cx="221.0" cy="1026.4" rx="4.1" ry="4.35" fill="#bc8f8f"/>
<ellipse cx="218.2" cy="1031.3" rx="4.1" ry="4.35" fill="#bc8f8f"/>
<ellipse cx="209.1" cy="1036.5" rx="4.1" ry="4.35" fill="#bc8f8f"/>
<ellipse cx="197.2" cy="1039.0" rx="4.1" ry="4.35" fill="#bc8f8f"/>
<ellipse cx="184.6" cy="1034.1" rx="4.1" ry="4.35" fill="#bc8f8f"/>
<ellipse cx="205.6" cy="1046.7" rx="4.1" ry="4.35" fill="#bc8f8f"/>
<ellipse cx="211.2" cy="1051.7" rx="4.1" ry="4.35" fill="#bc8f8f"/>
<ellipse cx="214.7" cy="1055.2" rx="4.1" ry="4.35" fill="#bc8f8f"/>
<ellipse cx="212.4" cy="1069.0" rx="4.1" ry="4.35" fill="#bc8f8f"/>
<ellipse cx="250.7" cy="996.7" rx="4.1" ry="4.35" fill="#bc8f8f"/>
<ellipse cx="258.2" cy="973.2" rx="4.1" ry="4.35" fill="#00f000"/>
<ellipse cx="260.0" cy="999.1" rx="4.1" ry="4.35" fill="#00f000"/>
<ellipse cx="251.6" cy="1012.4" rx="4.1" ry="4.35" fill="#00f000"/>
<ellipse cx="264.5" cy="1020.8" rx="4.1" ry="4.35" fill="#00f000"/>
<ellipse cx="261.7" cy="1029.2" rx="4.1" ry="4.35" fill="#00f000"/>
<ellipse cx="268.0" cy="1030.6" rx="4.1" ry="4.35" fill="#00f000"/>
<ellipse cx="265.9" cy="1043.2" rx="4.1" ry="4.35" fill="#00f000"/>
<ellipse cx="252.5" cy="1036.9" rx="4.1" ry="4.35" fill="#00f000"/>
<ellipse cx="259.8" cy="999.0" rx="4.1" ry="4.35" fill="#00f000"/>
<ellipse cx="252.2" cy="1012.5" rx="4.1" ry="4.35" fill="#00f000"/>
<ellipse cx="264.3" cy="1021.5" rx="4.1" ry="4.35" fill="#00f000"/>
<ellipse cx="260.5" cy="1029.0" rx="4.1" ry="4.35" fill="#00f000"/>
<ellipse cx="268.0" cy="1032.0" rx="4.1" ry="4.35" fill="#00f000"/>
<ellipse cx="266.5" cy="1042.5" rx="4.1" ry="4.35" fill="#00f000"/>
<ellipse cx="274.0" cy="1045.5" rx="4.1" ry="4.35" fill="#00f000"/>
<ellipse cx="277.0" cy="1046.3" rx="4.1" ry="4.35" fill="#00f000"/>
<ellipse cx="277.7" cy="1031.3" rx="4.1" ry="4.35" fill="#00f000"/>
<ellipse cx="274.7" cy="1020.0" rx="4.1" ry="4.35" fill="#00f000"/>
<ellipse cx="281.5" cy="1014.0" rx="4.1" ry="4.35" fill="#00f000"/>
<ellipse cx="287.5" cy="1011.8" rx="4.1" ry="4.35" fill="#00f000"/>
<ellipse cx="286.0" cy="1017.0" rx="4.1" ry="4.35" fill="#00f000"/>
<ellipse cx="292.7" cy="1018.5" rx="4.1" ry="4.35" fill="#00f000"/>
<ellipse cx="293.5" cy="1022.3" rx="4.1" ry="4.35" fill="#00f000"/>
<ellipse cx="289.7" cy="1040.3" rx="4.1" ry="4.35" fill="#00f000"/>
<ellipse cx="298.7" cy="1041.8" rx="4.1" ry="4.35" fill="#00f000"/>
<ellipse cx="286.0" cy="986.7" rx="4.1" ry="4.35" fill="#00f000"/>
<ellipse cx="284.8" cy="996.0" rx="4.1" ry="4.35" fill="#00f000"/>
<ellipse cx="295.0" cy="970.5" rx="4.1" ry="4.35" fill="#00f000"/>
<ellipse cx="297.3" cy="974.3" rx="4.1" ry="4.35" fill="#00f000"/>
<ellipse cx="303.2" cy="992.3" rx="4.1" ry="4.35" fill="#00f000"/>
<ellipse cx="308.5" cy="996.0" rx="4.1" ry="4.35" fill="#00f000"/>
<ellipse cx="306.2" cy="1003.5" rx="4.1" ry="4.35" fill="#00f000"/>
<ellipse cx="301.7" cy="1007.3" rx="4.1" ry="4.35" fill="#00f000"/>
<ellipse cx="300.2" cy="1027.5" rx="4.1" ry="4.35" fill="#00f000"/>
<ellipse cx="305.5" cy="1028.3" rx="4.1" ry="4.35" fill="#00f000"/>
<ellipse cx="311.5" cy="1023.8" rx="4.1" ry="4.35" fill="#00f000"/>
<ellipse cx="310.7" cy="1029.8" rx="4.1" ry="4.35" fill="#00f000"/>
<ellipse cx="316.0" cy="1036.5" rx="4.1" ry="4.35" fill="#00f000"/>
<ellipse cx="319.0" cy="1017.8" rx="4.1" ry="4.35" fill="#00f000"/>
<ellipse cx="320.5" cy="999.0" rx="4.1" ry="4.35" fill="#00f000"/>
<ellipse cx="322.0" cy="945.7" rx="4.1" ry="4.35" fill="#00f000"/>
<ellipse cx="325.7" cy="954.0" rx="4.1" ry="4.35" fill="#00f000"/>
<ellipse cx="332.2" cy="951.0" rx="4.1" ry="4.35" fill="#00f000"/>
<ellipse cx="331.0" cy="960.0" rx="4.1" ry="4.35" fill="#00f000"/>
<ellipse cx="324.2" cy="968.3" rx="4.1" ry="4.35" fill="#00f000"/>
<ellipse cx="328.0" cy="968.3" rx="4.1" ry="4.35" fill="#00f000"/>
<ellipse cx="327.2" cy="973.5" rx="4.1" ry="4.35" fill="#00f000"/>
<ellipse cx="347.2" cy="967.8" rx="4.1" ry="4.35" fill="#00f000"/>
<ellipse cx="361.0" cy="966.0" rx="4.1" ry="4.35" fill="#00f000"/>
<ellipse cx="362.5" cy="970.5" rx="4.1" ry="4.35" fill="#00f000"/>
<ellipse cx="343.7" cy="982.2" rx="4.1" ry="4.35" fill="#00f000"/>
<ellipse cx="340.7" cy="987.7" rx="4.1" ry="4.35" fill="#00f000"/>
<ellipse cx="353.5" cy="982.5" rx="4.1" ry="4.35" fill="#00f000"/>
<ellipse cx="349.7" cy="987.7" rx="4.1" ry="4.35" fill="#00f000"/>
<ellipse cx="351.2" cy="991.5" rx="4.1" ry="4.35" fill="#00f000"/>
<ellipse cx="337.0" cy="1002.0" rx="4.1" ry="4.35" fill="#00f000"/>
<ellipse cx="341.5" cy="1005.7" rx="4.1" ry="4.35" fill="#00f000"/>
<ellipse cx="345.2" cy="1005.0" rx="4.1" ry="4.35" fill="#00f000"/>
<ellipse cx="338.5" cy="1015.5" rx="4.1" ry="4.35" fill="#00f000"/>
<ellipse cx="334.7" cy="1017.0" rx="4.1" ry="4.35" fill="#00f000"/>
<ellipse cx="334.0" cy="1023.7" rx="4.1" ry="4.35" fill="#00f000"/>
<ellipse cx="355.7" cy="999.0" rx="4.1" ry="4.35" fill="#00f000"/>
<ellipse cx="358.7" cy="1007.3" rx="4.1" ry="4.35" fill="#00f000"/>
<ellipse cx="357.2" cy="1011.0" rx="4.1" ry="4.35" fill="#00f000"/>
<ellipse cx="364.7" cy="980.2" rx="4.1" ry="4.35" fill="#00f000"/>
<ellipse cx="366.2" cy="990.0" rx="4.1" ry="4.35" fill="#00f000"/>
<ellipse cx="370.0" cy="996.0" rx="4.1" ry="4.35" fill="#00f000"/>
<ellipse cx="373.0" cy="999.0" rx="4.1" ry="4.35" fill="#00f000"/>
<ellipse cx="376.0" cy="990.0" rx="4.1" ry="4.35" fill="#00f000"/>
<ellipse cx="371.5" cy="1014.0" rx="4.1" ry="4.35" fill="#00f000"/>
<ellipse cx="378.2" cy="977.3" rx="4.1" ry="4.35" fill="#00f000"/>
<ellipse cx="382.0" cy="993.7" rx="4.1" ry="4.35" fill="#00f000"/>
<ellipse cx="380.5" cy="1005.7" rx="4.1" ry="4.35" fill="#00f000"/>
<ellipse cx="388.0" cy="985.5" rx="4.1" ry="4.35" fill="#00f000"/>
<ellipse cx="391.0" cy="997.5" rx="4.1" ry="4.35" fill="#00f000"/>
<ellipse cx="393.2" cy="961.5" rx="4.1" ry="4.35" fill="#00f000"/>
<ellipse cx="394.7" cy="966.0" rx="4.1" ry="4.35" fill="#00f000"/>
<ellipse cx="398.5" cy="987.0" rx="4.1" ry="4.35" fill="#00f000"/>
<ellipse cx="395.5" cy="996.0" rx="4.1" ry="4.35" fill="#00f000"/>
<ellipse cx="384.2" cy="1030.5" rx="4.1" ry="4.35" fill="#00f000"/>
<ellipse cx="385.7" cy="1039.5" rx="4.1" ry="4.35" fill="#00f000"/>
<ellipse cx="313.6" cy="1063.0" rx="4.1" ry="4.35" fill="#00f000"/>
<ellipse cx="418.5" cy="923.2" rx="4.1" ry="4.35" fill="#00f000"/>
<ellipse cx="422.0" cy="947.3" rx="4.1" ry="4.35" fill="#00f000"/>
<ellipse cx="395.2" cy="966.8" rx="4.1" ry="4.35" fill="#00f000"/>
<ellipse cx="390.7" cy="988.5" rx="4.1" ry="4.35" fill="#00f000"/>
<ellipse cx="394.5" cy="996.0" rx="4.1" ry="4.35" fill="#00f000"/>
<ellipse cx="399.0" cy="987.0" rx="4.1" ry="4.35" fill="#00f000"/>
<ellipse cx="403.5" cy="979.5" rx="4.1" ry="4.35" fill="#00f000"/>
<ellipse cx="402.0" cy="993.0" rx="4.1" ry="4.35" fill="#00f000"/>
<ellipse cx="409.5" cy="998.3" rx="4.1" ry="4.35" fill="#00f000"/>
<ellipse cx="405.0" cy="1010.3" rx="4.1" ry="4.35" fill="#00f000"/>
<ellipse cx="411.7" cy="974.3" rx="4.1" ry="4.35" fill="#00f000"/>
<ellipse cx="417.7" cy="973.5" rx="4.1" ry="4.35" fill="#00f000"/>
<ellipse cx="414.0" cy="984.0" rx="4.1" ry="4.35" fill="#00f000"/>
<ellipse cx="423.7" cy="984.0" rx="4.1" ry="4.35" fill="#00f000"/>
<ellipse cx="426.7" cy="988.5" rx="4.1" ry="4.35" fill="#00f000"/>
<ellipse cx="432.0" cy="981.8" rx="4.1" ry="4.35" fill="#00f000"/>
<ellipse cx="437.2" cy="989.3" rx="4.1" ry="4.35" fill="#00f000"/>
<ellipse cx="430.5" cy="1000.5" rx="4.1" ry="4.35" fill="#00f000"/>
<ellipse cx="435.0" cy="1006.5" rx="4.1" ry="4.35" fill="#00f000"/>
<ellipse cx="441.0" cy="1011.0" rx="4.1" ry="4.35" fill="#00f000"/>
<ellipse cx="406.5" cy="1029.0" rx="4.1" ry="4.35" fill="#00f000"/>
<ellipse cx="420.7" cy="1027.5" rx="4.1" ry="4.35" fill="#00f000"/>
<ellipse cx="438.7" cy="1026.8" rx="4.1" ry="4.35" fill="#00f000"/>
<ellipse cx="441.7" cy="973.5" rx="4.1" ry="4.35" fill="#00f000"/>
<ellipse cx="456.0" cy="979.5" rx="4.1" ry="4.35" fill="#00f000"/>
<ellipse cx="453.0" cy="988.5" rx="4.1" ry="4.35" fill="#00f000"/>
<ellipse cx="458.2" cy="990.0" rx="4.1" ry="4.35" fill="#00f000"/>
<ellipse cx="463.5" cy="990.0" rx="4.1" ry="4.35" fill="#00f000"/>
<ellipse cx="450.0" cy="998.3" rx="4.1" ry="4.35" fill="#00f000"/>
<ellipse cx="460.5" cy="994.5" rx="4.1" ry="4.35" fill="#00f000"/>
<ellipse cx="465.7" cy="1002.0" rx="4.1" ry="4.35" fill="#00f000"/>
<ellipse cx="468.0" cy="978.8" rx="4.1" ry="4.35" fill="#00f000"/>
<ellipse cx="447.0" cy="960.8" rx="4.1" ry="4.35" fill="#ffff00"/>
<ellipse cx="449.2" cy="972.0" rx="4.1" ry="4.35" fill="#ffff00"/>
<ellipse cx="462.0" cy="969.0" rx="4.1" ry="4.35" fill="#ffff00"/>
<ellipse cx="471.0" cy="968.3" rx="4.1" ry="4.35" fill="#ffff00"/>
<ellipse cx="481.5" cy="951.0" rx="4.1" ry="4.35" fill="#ffff00"/>
<ellipse cx="483.0" cy="963.8" rx="4.1" ry="4.35" fill="#ffff00"/>
<ellipse cx="489.7" cy="954.0" rx="4.1" ry="4.35" fill="#ffff00"/>
<ellipse cx="476.2" cy="979.5" rx="4.1" ry="4.35" fill="#ffff00"/>
<ellipse cx="479.2" cy="985.5" rx="4.1" ry="4.35" fill="#ffff00"/>
<ellipse cx="486.7" cy="976.5" rx="4.1" ry="4.35" fill="#ffff00"/>
<ellipse cx="492.0" cy="979.5" rx="4.1" ry="4.35" fill="#ffff00"/>
<ellipse cx="493.5" cy="984.0" rx="4.1" ry="4.35" fill="#ffff00"/>
<ellipse cx="499.5" cy="976.5" rx="4.1" ry="4.35" fill="#ffff00"/>
<ellipse cx="495.0" cy="929.3" rx="4.1" ry="4.35" fill="#ffff00"/>
<ellipse cx="495.7" cy="940.5" rx="4.1" ry="4.35" fill="#ffff00"/>
<ellipse cx="501.0" cy="942.0" rx="4.1" ry="4.35" fill="#ffff00"/>
<ellipse cx="505.5" cy="937.5" rx="4.1" ry="4.35" fill="#ffff00"/>
<ellipse cx="498.0" cy="948.0" rx="4.1" ry="4.35" fill="#ffff00"/>
<ellipse cx="510.0" cy="946.5" rx="4.1" ry="4.35" fill="#ffff00"/>
<ellipse cx="516.0" cy="934.5" rx="4.1" ry="4.35" fill="#ffff00"/>
<ellipse cx="511.5" cy="972.0" rx="4.1" ry="4.35" fill="#ffff00"/>
<ellipse cx="505.5" cy="988.5" rx="4.1" ry="4.35" fill="#ffff00"/>
<ellipse cx="508.5" cy="987.0" rx="4.1" ry="4.35" fill="#ffff00"/>
<ellipse cx="513.0" cy="997.5" rx="4.1" ry="4.35" fill="#ffff00"/>
<ellipse cx="517.5" cy="949.5" rx="4.1" ry="4.35" fill="#ffff00"/>
<ellipse cx="522.0" cy="948.0" rx="4.1" ry="4.35" fill="#ffff00"/>
<ellipse cx="528.0" cy="949.5" rx="4.1" ry="4.35" fill="#ffff00"/>
<ellipse cx="534.0" cy="952.5" rx="4.1" ry="4.35" fill="#ffff00"/>
<ellipse cx="514.5" cy="957.7" rx="4.1" ry="4.35" fill="#ffff00"/>
<ellipse cx="520.5" cy="955.5" rx="4.1" ry="4.35" fill="#ffff00"/>
<ellipse cx="526.5" cy="966.0" rx="4.1" ry="4.35" fill="#ffff00"/>
<ellipse cx="532.5" cy="960.0" rx="4.1" ry="4.35" fill="#ffff00"/>
<ellipse cx="537.7" cy="960.0" rx="4.1" ry="4.35" fill="#ffff00"/>
<ellipse cx="538.5" cy="937.5" rx="4.1" ry="4.35" fill="#ffff00"/>
<ellipse cx="529.5" cy="906.0" rx="4.1" ry="4.35" fill="#ffff00"/>
<ellipse cx="536.2" cy="907.5" rx="4.1" ry="4.35" fill="#ffff00"/>
<ellipse cx="543.5" cy="921.5" rx="4.1" ry="4.35" fill="#ffff00"/>
<ellipse cx="540.5" cy="937.2" rx="4.1" ry="4.35" fill="#ffff00"/>
<ellipse cx="545.7" cy="934.2" rx="4.1" ry="4.35" fill="#ffff00"/>
<ellipse cx="549.5" cy="944.0" rx="4.1" ry="4.35" fill="#ffff00"/>
<ellipse cx="554.0" cy="942.5" rx="4.1" ry="4.35" fill="#ffff00"/>
<ellipse cx="533.0" cy="951.5" rx="4.1" ry="4.35" fill="#ffff00"/>
<ellipse cx="538.2" cy="949.2" rx="4.1" ry="4.35" fill="#ffff00"/>
<ellipse cx="531.5" cy="959.0" rx="4.1" ry="4.35" fill="#ffff00"/>
<ellipse cx="537.5" cy="960.5" rx="4.1" ry="4.35" fill="#ffff00"/>
<ellipse cx="542.0" cy="963.5" rx="4.1" ry="4.35" fill="#ffff00"/>
<ellipse cx="551.0" cy="959.0" rx="4.1" ry="4.35" fill="#ffff00"/>
<ellipse cx="560.7" cy="959.7" rx="4.1" ry="4.35" fill="#ffff00"/>
<ellipse cx="549.5" cy="968.0" rx="4.1" ry="4.35" fill="#ffff00"/>
<ellipse cx="554.7" cy="970.2" rx="4.1" ry="4.35" fill="#ffff00"/>
<ellipse cx="558.5" cy="975.5" rx="4.1" ry="4.35" fill="#ffff00"/>
<ellipse cx="582.5" cy="937.7" rx="4.1" ry="4.35" fill="#ffff00"/>
<ellipse cx="590.0" cy="950.7" rx="4.1" ry="4.35" fill="#ffff00"/>
<ellipse cx="596.0" cy="949.2" rx="4.1" ry="4.35" fill="#ffff00"/>
<ellipse cx="598.2" cy="953.0" rx="4.1" ry="4.35" fill="#ffff00"/>
<ellipse cx="592.2" cy="963.5" rx="4.1" ry="4.35" fill="#ffff00"/>
<ellipse cx="573.5" cy="972.5" rx="4.1" ry="4.35" fill="#ffff00"/>
<ellipse cx="569.0" cy="980.0" rx="4.1" ry="4.35" fill="#ffff00"/>
<ellipse cx="576.5" cy="978.5" rx="4.1" ry="4.35" fill="#ffff00"/>
<ellipse cx="584.0" cy="975.5" rx="4.1" ry="4.35" fill="#ffff00"/>
<ellipse cx="562.2" cy="989.0" rx="4.1" ry="4.35" fill="#ffff00"/>
<ellipse cx="566.0" cy="993.5" rx="4.1" ry="4.35" fill="#ffff00"/>
<ellipse cx="563.7" cy="999.5" rx="4.1" ry="4.35" fill="#ffff00"/>
<ellipse cx="576.5" cy="989.0" rx="4.1" ry="4.35" fill="#ffff00"/>
<ellipse cx="579.5" cy="993.5" rx="4.1" ry="4.35" fill="#ffff00"/>
<ellipse cx="587.0" cy="986.0" rx="4.1" ry="4.35" fill="#ffff00"/>
<ellipse cx="589.2" cy="990.5" rx="4.1" ry="4.35" fill="#ffff00"/>
<ellipse cx="596.0" cy="1004.0" rx="4.1" ry="4.35" fill="#ffff00"/>
<ellipse cx="567.5" cy="1018.2" rx="4.1" ry="4.35" fill="#ffff00"/>
<ellipse cx="602.0" cy="1024.2" rx="4.1" ry="4.35" fill="#ffff00"/>
<ellipse cx="474.0" cy="960.0" rx="4.1" ry="4.35" fill="#00f000"/>
<ellipse cx="599.3" cy="995.0" rx="4.1" ry="4.35" fill="#00f000"/>
<ellipse cx="601.2" cy="1012.2" rx="4.1" ry="4.35" fill="#00f000"/>
<ellipse cx="581.0" cy="953.7" rx="4.1" ry="4.35" fill="#dcdcdc"/>
<ellipse cx="621.5" cy="951.5" rx="4.1" ry="4.35" fill="#dcdcdc"/>
<ellipse cx="626.0" cy="959.0" rx="4.1" ry="4.35" fill="#dcdcdc"/>
<ellipse cx="633.5" cy="962.0" rx="4.1" ry="4.35" fill="#dcdcdc"/>
<ellipse cx="627.5" cy="965.0" rx="4.1" ry="4.35" fill="#dcdcdc"/>
<ellipse cx="623.0" cy="969.5" rx="4.1" ry="4.35" fill="#dcdcdc"/>
<ellipse cx="608.0" cy="971.7" rx="4.1" ry="4.35" fill="#dcdcdc"/>
<ellipse cx="650.0" cy="972.5" rx="4.1" ry="4.35" fill="#dcdcdc"/>
<ellipse cx="624.5" cy="980.0" rx="4.1" ry="4.35" fill="#dcdcdc"/>
<ellipse cx="631.2" cy="986.7" rx="4.1" ry="4.35" fill="#dcdcdc"/>
<ellipse cx="653.0" cy="984.5" rx="4.1" ry="4.35" fill="#dcdcdc"/>
<ellipse cx="609.5" cy="990.5" rx="4.1" ry="4.35" fill="#dcdcdc"/>
<ellipse cx="615.5" cy="989.0" rx="4.1" ry="4.35" fill="#dcdcdc"/>
<ellipse cx="620.0" cy="990.5" rx="4.1" ry="4.35" fill="#dcdcdc"/>
<ellipse cx="643.2" cy="992.0" rx="4.1" ry="4.35" fill="#dcdcdc"/>
<ellipse cx="636.5" cy="1001.0" rx="4.1" ry="4.35" fill="#dcdcdc"/>
<ellipse cx="666.5" cy="996.5" rx="4.1" ry="4.35" fill="#dcdcdc"/>
<ellipse cx="677.0" cy="962.0" rx="4.1" ry="4.35" fill="#dcdcdc"/>
<ellipse cx="677.7" cy="992.0" rx="4.1" ry="4.35" fill="#dcdcdc"/>
<ellipse cx="671.0" cy="1004.0" rx="4.1" ry="4.35" fill="#dcdcdc"/>
<ellipse cx="606.5" cy="1006.2" rx="4.1" ry="4.35" fill="#dcdcdc"/>
<ellipse cx="617.0" cy="1010.0" rx="4.1" ry="4.35" fill="#dcdcdc"/>
<ellipse cx="615.5" cy="1013.7" rx="4.1" ry="4.35" fill="#dcdcdc"/>
<ellipse cx="612.5" cy="1020.5" rx="4.1" ry="4.35" fill="#dcdcdc"/>
<ellipse cx="604.2" cy="1021.2" rx="4.1" ry="4.35" fill="#dcdcdc"/>
<ellipse cx="611.0" cy="1031.7" rx="4.1" ry="4.35" fill="#dcdcdc"/>
<ellipse cx="635.0" cy="1016.0" rx="4.1" ry="4.35" fill="#dcdcdc"/>
<ellipse cx="647.0" cy="1008.5" rx="4.1" ry="4.35" fill="#dcdcdc"/>
<ellipse cx="650.0" cy="1011.5" rx="4.1" ry="4.35" fill="#dcdcdc"/>
<ellipse cx="657.5" cy="1007.0" rx="4.1" ry="4.35" fill="#dcdcdc"/>
<ellipse cx="660.5" cy="1008.5" rx="4.1" ry="4.35" fill="#dcdcdc"/>
<ellipse cx="656.0" cy="1017.5" rx="4.1" ry="4.35" fill="#dcdcdc"/>
<ellipse cx="662.0" cy="1022.0" rx="4.1" ry="4.35" fill="#dcdcdc"/>
<ellipse cx="665.0" cy="1025.0" rx="4.1" ry="4.35" fill="#dcdcdc"/>
<ellipse cx="642.5" cy="1022.0" rx="4.1" ry="4.35" fill="#dcdcdc"/>
<ellipse cx="645.5" cy="1025.0" rx="4.1" ry="4.35" fill="#dcdcdc"/>
<ellipse cx="639.5" cy="1032.5" rx="4.1" ry="4.35" fill="#dcdcdc"/>
<ellipse cx="663.5" cy="1031.7" rx="4.1" ry="4.35" fill="#dcdcdc"/>
<ellipse cx="668.0" cy="1014.5" rx="4.1" ry="4.35" fill="#dcdcdc"/>
<ellipse cx="676.7" cy="961.5" rx="4.1" ry="4.35" fill="#dcdcdc"/>
<ellipse cx="685.7" cy="966.0" rx="4.1" ry="4.35" fill="#dcdcdc"/>
<ellipse cx="679.7" cy="990.7" rx="4.1" ry="4.35" fill="#dcdcdc"/>
<ellipse cx="673.0" cy="1002.0" rx="4.1" ry="4.35" fill="#dcdcdc"/>
<ellipse cx="670.7" cy="1012.5" rx="4.1" ry="4.35" fill="#dcdcdc"/>
<ellipse cx="684.2" cy="1015.5" rx="4.1" ry="4.35" fill="#dcdcdc"/>
<ellipse cx="697.7" cy="1012.5" rx="4.1" ry="4.35" fill="#dcdcdc"/>
<ellipse cx="700.0" cy="993.0" rx="4.1" ry="4.35" fill="#dcdcdc"/>
<ellipse cx="703.0" cy="997.5" rx="4.1" ry="4.35" fill="#dcdcdc"/>
<ellipse cx="706.0" cy="1002.0" rx="4.1" ry="4.35" fill="#dcdcdc"/>
<ellipse cx="713.5" cy="996.0" rx="4.1" ry="4.35" fill="#dcdcdc"/>
<ellipse cx="712.0" cy="1005.0" rx="4.1" ry="4.35" fill="#dcdcdc"/>
<ellipse cx="710.5" cy="1012.5" rx="4.1" ry="4.35" fill="#dcdcdc"/>
<ellipse cx="694.0" cy="1020.0" rx="4.1" ry="4.35" fill="#dcdcdc"/>
<ellipse cx="689.5" cy="1026.0" rx="4.1" ry="4.35" fill="#dcdcdc"/>
<ellipse cx="686.5" cy="1032.0" rx="4.1" ry="4.35" fill="#dcdcdc"/>
<ellipse cx="707.5" cy="1027.5" rx="4.1" ry="4.35" fill="#dcdcdc"/>
<ellipse cx="706.7" cy="1033.5" rx="4.1" ry="4.35" fill="#dcdcdc"/>
<ellipse cx="721.0" cy="990.0" rx="4.1" ry="4.35" fill="#9400d3"/>
<ellipse cx="718.7" cy="999.7" rx="4.1" ry="4.35" fill="#9400d3"/>
<ellipse cx="725.5" cy="999.0" rx="4.1" ry="4.35" fill="#9400d3"/>
<ellipse cx="733.0" cy="996.0" rx="4.1" ry="4.35" fill="#9400d3"/>
<ellipse cx="722.5" cy="1005.0" rx="4.1" ry="4.35" fill="#9400d3"/>
<ellipse cx="730.0" cy="1006.5" rx="4.1" ry="4.35" fill="#9400d3"/>
<ellipse cx="734.5" cy="1010.2" rx="4.1" ry="4.35" fill="#9400d3"/>
<ellipse cx="737.5" cy="1014.0" rx="4.1" ry="4.35" fill="#9400d3"/>
<ellipse cx="727.7" cy="1023.0" rx="4.1" ry="4.35" fill="#9400d3"/>
<ellipse cx="729.2" cy="1028.2" rx="4.1" ry="4.35" fill="#9400d3"/>
<ellipse cx="737.5" cy="1023.7" rx="4.1" ry="4.35" fill="#9400d3"/>
<ellipse cx="746.5" cy="1023.7" rx="4.1" ry="4.35" fill="#9400d3"/>
<ellipse cx="740.5" cy="1035.7" rx="4.1" ry="4.35" fill="#9400d3"/>
<ellipse cx="743.5" cy="1032.7" rx="4.1" ry="4.35" fill="#9400d3"/>
<ellipse cx="741.2" cy="1041.0" rx="4.1" ry="4.35" fill="#9400d3"/>
<ellipse cx="748.0" cy="1035.0" rx="4.1" ry="4.35" fill="#9400d3"/>
<ellipse cx="751.0" cy="1029.0" rx="4.1" ry="4.35" fill="#9400d3"/>
<ellipse cx="754.0" cy="1020.0" rx="4.1" ry="4.35" fill="#9400d3"/>
<ellipse cx="760.0" cy="1020.0" rx="4.1" ry="4.35" fill="#9400d3"/>
<ellipse cx="758.5" cy="1026.0" rx="4.1" ry="4.35" fill="#9400d3"/>
<ellipse cx="766.0" cy="1032.0" rx="4.1" ry="4.35" fill="#9400d3"/>
<ellipse cx="763.7" cy="1039.5" rx="4.1" ry="4.35" fill="#9400d3"/>
<ellipse cx="769.0" cy="1044.0" rx="4.1" ry="4.35" fill="#9400d3"/>
<ellipse cx="772.0" cy="1033.5" rx="4.1" ry="4.35" fill="#9400d3"/>
<ellipse cx="773.5" cy="1023.0" rx="4.1" ry="4.35" fill="#9400d3"/>
<ellipse cx="776.5" cy="997.5" rx="4.1" ry="4.35" fill="#9400d3"/>
<ellipse cx="775.0" cy="1003.5" rx="4.1" ry="4.35" fill="#9400d3"/>
<ellipse cx="779.5" cy="1017.0" rx="4.1" ry="4.35" fill="#9400d3"/>
<ellipse cx="785.5" cy="1014.0" rx="4.1" ry="4.35" fill="#9400d3"/>
<ellipse cx="782.5" cy="1030.5" rx="4.1" ry="4.35" fill="#9400d3"/>
<ellipse cx="787.0" cy="1030.5" rx="4.1" ry="4.35" fill="#9400d3"/>
<ellipse cx="784.0" cy="1039.5" rx="4.1" ry="4.35" fill="#9400d3"/>
<ellipse cx="791.5" cy="981.7" rx="4.1" ry="4.35" fill="#9400d3"/>
<ellipse cx="789.2" cy="995.2" rx="4.1" ry="4.35" fill="#9400d3"/>
<ellipse cx="794.5" cy="991.5" rx="4.1" ry="4.35" fill="#9400d3"/>
<ellipse cx="799.0" cy="993.0" rx="4.1" ry="4.35" fill="#9400d3"/>
<ellipse cx="802.0" cy="997.5" rx="4.1" ry="4.35" fill="#9400d3"/>
<ellipse cx="804.2" cy="1003.5" rx="4.1" ry="4.35" fill="#9400d3"/>
<ellipse cx="796.0" cy="1017.7" rx="4.1" ry="4.35" fill="#9400d3"/>
<ellipse cx="800.5" cy="981.7" rx="4.1" ry="4.35" fill="#9400d3"/>
<ellipse cx="805.0" cy="984.7" rx="4.1" ry="4.35" fill="#9400d3"/>
<ellipse cx="806.5" cy="988.5" rx="4.1" ry="4.35" fill="#9400d3"/>
<ellipse cx="808.7" cy="1020.7" rx="4.1" ry="4.35" fill="#9400d3"/>
<ellipse cx="814.0" cy="955.5" rx="4.1" ry="4.35" fill="#9400d3"/>
<ellipse cx="815.5" cy="961.5" rx="4.1" ry="4.35" fill="#9400d3"/>
<ellipse cx="810.2" cy="967.5" rx="4.1" ry="4.35" fill="#9400d3"/>
<ellipse cx="812.5" cy="974.2" rx="4.1" ry="4.35" fill="#9400d3"/>
<ellipse cx="816.2" cy="981.0" rx="4.1" ry="4.35" fill="#9400d3"/>
<ellipse cx="817.7" cy="986.2" rx="4.1" ry="4.35" fill="#9400d3"/>
<ellipse cx="816.0" cy="962.5" rx="4.1" ry="4.35" fill="#9400d3"/>
<ellipse cx="812.6" cy="971.0" rx="4.1" ry="4.35" fill="#9400d3"/>
<ellipse cx="816.8" cy="979.5" rx="4.1" ry="4.35" fill="#9400d3"/>
<ellipse cx="819.4" cy="985.5" rx="4.1" ry="4.35" fill="#9400d3"/>
<ellipse cx="874.6" cy="995.7" rx="4.1" ry="4.35" fill="#9400d3"/>
<ellipse cx="810.9" cy="1021.2" rx="4.1" ry="4.35" fill="#9400d3"/>
<ellipse cx="784.0" cy="1040.0" rx="4.1" ry="4.35" fill="#9400d3"/>
<ellipse cx="819.2" cy="1009.5" rx="4.1" ry="4.35" fill="#ff00ff"/>
<ellipse cx="842.8" cy="945.5" rx="4.1" ry="4.35" fill="#ff00ff"/>
<ellipse cx="844.5" cy="966.3" rx="4.1" ry="4.35" fill="#ff00ff"/>
<ellipse cx="835.5" cy="980.4" rx="4.1" ry="4.35" fill="#ff00ff"/>
<ellipse cx="832.1" cy="988.0" rx="4.1" ry="4.35" fill="#ff00ff"/>
<ellipse cx="839.8" cy="985.5" rx="4.1" ry="4.35" fill="#ff00ff"/>
<ellipse cx="845.7" cy="990.6" rx="4.1" ry="4.35" fill="#ff00ff"/>
<ellipse cx="857.6" cy="989.7" rx="4.1" ry="4.35" fill="#ff00ff"/>
<ellipse cx="854.2" cy="996.5" rx="4.1" ry="4.35" fill="#ff00ff"/>
<ellipse cx="864.4" cy="999.1" rx="4.1" ry="4.35" fill="#ff00ff"/>
<ellipse cx="847.4" cy="1001.6" rx="4.1" ry="4.35" fill="#ff00ff"/>
<ellipse cx="830.4" cy="1001.6" rx="4.1" ry="4.35" fill="#ff00ff"/>
<ellipse cx="833.8" cy="1005.9" rx="4.1" ry="4.35" fill="#ff00ff"/>
<ellipse cx="821.1" cy="1008.4" rx="4.1" ry="4.35" fill="#ff00ff"/>
<ellipse cx="872.9" cy="1007.6" rx="4.1" ry="4.35" fill="#ff00ff"/>
<ellipse cx="879.7" cy="1009.3" rx="4.1" ry="4.35" fill="#ff00ff"/>
<ellipse cx="878.0" cy="1015.2" rx="4.1" ry="4.35" fill="#ff00ff"/>
<ellipse cx="884.8" cy="1014.4" rx="4.1" ry="4.35" fill="#ff00ff"/>
<ellipse cx="883.1" cy="1020.3" rx="4.1" ry="4.35" fill="#ff00ff"/>
<ellipse cx="891.6" cy="1020.3" rx="4.1" ry="4.35" fill="#ff00ff"/>
<ellipse cx="891.6" cy="1001.6" rx="4.1" ry="4.35" fill="#ff00ff"/>
<ellipse cx="893.3" cy="1011.8" rx="4.1" ry="4.35" fill="#ff00ff"/>
<ellipse cx="850.8" cy="1018.6" rx="4.1" ry="4.35" fill="#ff00ff"/>
<ellipse cx="855.9" cy="1012.7" rx="4.1" ry="4.35" fill="#ff00ff"/>
<ellipse cx="862.7" cy="1017.8" rx="4.1" ry="4.35" fill="#ff00ff"/>
<ellipse cx="850.8" cy="1028.0" rx="4.1" ry="4.35" fill="#ff00ff"/>
<ellipse cx="827.0" cy="1021.2" rx="4.1" ry="4.35" fill="#ff00ff"/>
<ellipse cx="828.7" cy="1025.4" rx="4.1" ry="4.35" fill="#ff00ff"/>
<ellipse cx="824.5" cy="1031.4" rx="4.1" ry="4.35" fill="#ff00ff"/>
<ellipse cx="876.3" cy="1028.8" rx="4.1" ry="4.35" fill="#ff00ff"/>
<ellipse cx="889.9" cy="1028.0" rx="4.1" ry="4.35" fill="#ff00ff"/>
<ellipse cx="888.2" cy="1037.3" rx="4.1" ry="4.35" fill="#ff00ff"/>
<ellipse cx="884.8" cy="1042.4" rx="4.1" ry="4.35" fill="#ff00ff"/>
<ellipse cx="866.1" cy="1033.9" rx="4.1" ry="4.35" fill="#ff00ff"/>
<ellipse cx="861.0" cy="1041.6" rx="4.1" ry="4.35" fill="#ff00ff"/>
<ellipse cx="869.5" cy="1039.0" rx="4.1" ry="4.35" fill="#ff00ff"/>
<ellipse cx="867.8" cy="1046.7" rx="4.1" ry="4.35" fill="#ff00ff"/>
<ellipse cx="899.3" cy="1022.0" rx="4.1" ry="4.35" fill="#ff00ff"/>
<ellipse cx="871.0" cy="1063.0" rx="4.1" ry="4.35" fill="#ff00ff"/>
<ellipse cx="861.0" cy="1041.0" rx="4.1" ry="4.35" fill="#ff00ff"/>
<ellipse cx="868.0" cy="1047.0" rx="4.1" ry="4.35" fill="#ff00ff"/>
<ellipse cx="885.0" cy="1042.0" rx="4.1" ry="4.35" fill="#ff00ff"/>
<ellipse cx="889.0" cy="1036.0" rx="4.1" ry="4.35" fill="#ff00ff"/>
<ellipse cx="896.7" cy="997.4" rx="4.1" ry="4.35" fill="#ffa500"/>
<ellipse cx="898.4" cy="1009.3" rx="4.1" ry="4.35" fill="#ffa500"/>
<ellipse cx="944.1" cy="986.2" rx="4.1" ry="4.35" fill="#ffa500"/>
<ellipse cx="937.6" cy="994.0" rx="4.1" ry="4.35" fill="#ffa500"/>
<ellipse cx="952.0" cy="993.1" rx="4.1" ry="4.35" fill="#ffa500"/>
<ellipse cx="930.7" cy="999.1" rx="4.1" ry="4.35" fill="#ffa500"/>
<ellipse cx="939.3" cy="1005.9" rx="4.1" ry="4.35" fill="#ffa500"/>
<ellipse cx="905.2" cy="1017.8" rx="4.1" ry="4.35" fill="#ffa500"/>
<ellipse cx="902.7" cy="1023.7" rx="4.1" ry="4.35" fill="#ffa500"/>
<ellipse cx="910.3" cy="1022.9" rx="4.1" ry="4.35" fill="#ffa500"/>
<ellipse cx="915.4" cy="1025.4" rx="4.1" ry="4.35" fill="#ffa500"/>
<ellipse cx="918.8" cy="1026.3" rx="4.1" ry="4.35" fill="#ffa500"/>
<ellipse cx="920.5" cy="1016.1" rx="4.1" ry="4.35" fill="#ffa500"/>
<ellipse cx="925.6" cy="1017.8" rx="4.1" ry="4.35" fill="#ffa500"/>
<ellipse cx="929.0" cy="1023.7" rx="4.1" ry="4.35" fill="#ffa500"/>
<ellipse cx="934.2" cy="1020.3" rx="4.1" ry="4.35" fill="#ffa500"/>
<ellipse cx="935.9" cy="1016.1" rx="4.1" ry="4.35" fill="#ffa500"/>
<ellipse cx="946.0" cy="1016.1" rx="4.1" ry="4.35" fill="#ffa500"/>
<ellipse cx="951.2" cy="1021.2" rx="4.1" ry="4.35" fill="#ffa500"/>
<ellipse cx="942.7" cy="1028.0" rx="4.1" ry="4.35" fill="#ffa500"/>
<ellipse cx="932.4" cy="1033.1" rx="4.1" ry="4.35" fill="#ffa500"/>
<ellipse cx="901.8" cy="1032.2" rx="4.1" ry="4.35" fill="#ffa500"/>
<ellipse cx="908.6" cy="1037.3" rx="4.1" ry="4.35" fill="#ffa500"/>
<ellipse cx="912.0" cy="1036.5" rx="4.1" ry="4.35" fill="#ffa500"/>
<ellipse cx="917.1" cy="1044.1" rx="4.1" ry="4.35" fill="#ffa500"/>
<ellipse cx="925.6" cy="1040.7" rx="4.1" ry="4.35" fill="#ffa500"/>
<ellipse cx="927.3" cy="1047.6" rx="4.1" ry="4.35" fill="#ffa500"/>
<ellipse cx="941.0" cy="1049.3" rx="4.1" ry="4.35" fill="#ffa500"/>
<ellipse cx="940.0" cy="1049.0" rx="4.1" ry="4.35" fill="#ffa500"/>
<ellipse cx="928.0" cy="1047.0" rx="4.1" ry="4.35" fill="#ffa500"/>
<ellipse cx="917.0" cy="1044.0" rx="4.1" ry="4.35" fill="#ffa500"/>
<ellipse cx="908.0" cy="1038.0" rx="4.1" ry="4.35" fill="#ffa500"/>
<ellipse cx="938.9" cy="1005.8" rx="4.1" ry="4.35" fill="#ffa500"/>
<ellipse cx="922.8" cy="1016.0" rx="4.1" ry="4.35" fill="#ffa500"/>
<ellipse cx="945.9" cy="1016.0" rx="4.1" ry="4.35" fill="#ffa500"/>
<ellipse cx="950.1" cy="1020.9" rx="4.1" ry="4.35" fill="#ffa500"/>
<ellipse cx="928.4" cy="1023.7" rx="4.1" ry="4.35" fill="#ffa500"/>
<ellipse cx="942.4" cy="1028.2" rx="4.1" ry="4.35" fill="#ffa500"/>
<ellipse cx="931.9" cy="1033.1" rx="4.1" ry="4.35" fill="#ffa500"/>
<ellipse cx="920.7" cy="1025.8" rx="4.1" ry="4.35" fill="#ffa500"/>
<ellipse cx="924.9" cy="1038.4" rx="4.1" ry="4.35" fill="#ffa500"/>
<ellipse cx="969.9" cy="988.0" rx="4.1" ry="4.35" fill="#00ffff"/>
<ellipse cx="975.8" cy="994.8" rx="4.1" ry="4.35" fill="#00ffff"/>
<ellipse cx="963.1" cy="1005.0" rx="4.1" ry="4.35" fill="#00ffff"/>
<ellipse cx="972.4" cy="1010.1" rx="4.1" ry="4.35" fill="#00ffff"/>
<ellipse cx="975.8" cy="1016.9" rx="4.1" ry="4.35" fill="#00ffff"/>
<ellipse cx="959.7" cy="1018.6" rx="4.1" ry="4.35" fill="#00ffff"/>
<ellipse cx="958.0" cy="1025.4" rx="4.1" ry="4.35" fill="#00ffff"/>
<ellipse cx="962.2" cy="1028.8" rx="4.1" ry="4.35" fill="#00ffff"/>
<ellipse cx="949.5" cy="1027.1" rx="4.1" ry="4.35" fill="#00ffff"/>
<ellipse cx="947.8" cy="1030.5" rx="4.1" ry="4.35" fill="#00ffff"/>
<ellipse cx="971.1" cy="990.1" rx="4.1" ry="4.35" fill="#00ffff"/>
<ellipse cx="976.7" cy="992.9" rx="4.1" ry="4.35" fill="#00ffff"/>
<ellipse cx="963.4" cy="1004.8" rx="4.1" ry="4.35" fill="#00ffff"/>
<ellipse cx="973.2" cy="1011.8" rx="4.1" ry="4.35" fill="#00ffff"/>
<ellipse cx="959.2" cy="1017.4" rx="4.1" ry="4.35" fill="#00ffff"/>
<ellipse cx="957.8" cy="1026.5" rx="4.1" ry="4.35" fill="#00ffff"/>
<ellipse cx="962.0" cy="1027.2" rx="4.1" ry="4.35" fill="#00ffff"/>
<ellipse cx="948.0" cy="1029.3" rx="4.1" ry="4.35" fill="#00ffff"/>
<ellipse cx="975.3" cy="1016.0" rx="4.1" ry="4.35" fill="#00ffff"/>
<ellipse cx="965.8" cy="1007.6" rx="4.1" ry="4.35" fill="#ff00ff"/>
<ellipse cx="969.3" cy="1019.1" rx="4.1" ry="4.35" fill="#ff00ff"/>
<ellipse cx="966.5" cy="1007.6" rx="4.1" ry="4.35" fill="#ff00ff"/>
<ellipse cx="452.0" cy="983.0" rx="4.1" ry="4.35" fill="#00f000"/>
<ellipse cx="458.0" cy="986.0" rx="4.1" ry="4.35" fill="#00f000"/>
<ellipse cx="462.0" cy="993.0" rx="4.1" ry="4.35" fill="#00f000"/>
<ellipse cx="466.0" cy="988.0" rx="4.1" ry="4.35" fill="#00f000"/>
<ellipse cx="455.0" cy="995.0" rx="4.1" ry="4.35" fill="#00f000"/>
<ellipse cx="449.0" cy="990.0" rx="4.1" ry="4.35" fill="#00f000"/>
<rect x="858" y="872" width="92" height="114" fill="#fff"/>
<rect x="164" y="1070.5" width="100" height="132" fill="#fff"/>
<g transform="translate(156.00,805.00) scale(0.08706,0.08711) translate(-70,-60)">
<path d="M430,1080 C460,1110 500,1140 540,1150 C580,1170 620,1170 640,1150 C600,1180 560,1220 510,1230 C450,1240 400,1220 350,1210 C310,1220 290,1260 300,1300 C310,1330 330,1340 350,1330" fill="none" stroke="#e0b8c8" stroke-width="1.2" vector-effect="non-scaling-stroke"/>
<path d="M160,330 C140,280 150,220 180,200 C210,190 240,220 230,260 C220,290 200,300 200,320 M300,380 C290,320 310,240 340,200 C380,170 420,200 430,260 C440,300 420,340 400,360 M440,260 C460,180 490,100 520,70 C550,100 560,160 550,230 M640,250 C650,200 680,160 720,150 M640,250 C680,260 700,300 710,350 C720,400 700,440 690,480 M500,560 C520,520 560,510 590,520 C620,540 640,580 640,600 M480,560 C470,620 470,680 490,740 C500,770 520,790 540,780 M200,470 C190,540 200,600 230,650 C260,690 240,720 200,720 C160,720 120,740 110,780 C80,840 70,900 90,920 C110,940 150,900 200,870 C250,840 300,830 340,840 M300,700 C330,740 380,760 420,780 C450,800 470,820 480,830 M720,760 C780,740 830,760 860,800 C890,840 900,900 880,940 C870,960 850,970 840,970 M380,850 C400,900 420,950 410,1000 C400,1050 380,1080 360,1110 M600,1000 C640,990 680,1000 700,1030 C710,1060 700,1090 680,1100 M720,500 C740,560 730,620 720,680 M230,430 C270,420 300,430 320,460 M340,840 C360,800 380,780 400,760 M540,780 C570,800 600,820 620,850 M180,200 C200,240 220,280 240,320" fill="none" stroke="#d05050" stroke-width="1.25" stroke-linecap="round" stroke-linejoin="round" vector-effect="non-scaling-stroke"/>
<polygon points="140,350 220,310 460,700 430,740 300,640 180,470" fill="#e00808" stroke="#e00808" stroke-width="0.8" stroke-linejoin="round" vector-effect="non-scaling-stroke"/>
<polygon points="250,330 285,315 420,560 395,580" fill="#e00808" stroke="#e00808" stroke-width="0.8" stroke-linejoin="round" vector-effect="non-scaling-stroke"/>
<polygon points="430,960 560,760 600,760 470,990" fill="#e00808" stroke="#e00808" stroke-width="0.8" stroke-linejoin="round" vector-effect="non-scaling-stroke"/>
<polygon points="510,1040 600,690 660,700 560,1060" fill="#e00808" stroke="#e00808" stroke-width="0.8" stroke-linejoin="round" vector-effect="non-scaling-stroke"/>
<polygon points="480,300 530,270 460,470 430,460" fill="#e00808" stroke="#e00808" stroke-width="0.8" stroke-linejoin="round" vector-effect="non-scaling-stroke"/>
<polygon points="540,330 620,240 660,260 580,370" fill="#e00808" stroke="#e00808" stroke-width="0.8" stroke-linejoin="round" vector-effect="non-scaling-stroke"/>
<polygon points="600,430 700,340 720,370 640,480" fill="#e00808" stroke="#e00808" stroke-width="0.8" stroke-linejoin="round" vector-effect="non-scaling-stroke"/>
<polygon points="600,650 650,580 720,780 690,790" fill="#e00808" stroke="#e00808" stroke-width="0.8" stroke-linejoin="round" vector-effect="non-scaling-stroke"/>
</g>
<g transform="translate(217.00,729.00) scale(0.05060,0.04809) translate(-40,-80)">
<path d="M900,2090 C860,2150 840,2230 860,2300 C890,2360 950,2410 1040,2420 C1100,2410 1150,2370 1200,2340 C1260,2320 1300,2330 1340,2320 C1370,2300 1400,2250 1410,2200" fill="none" stroke="#e0b8c8" stroke-width="1.2" vector-effect="non-scaling-stroke"/>
<path d="M600,580 C590,520 620,450 620,400 C610,350 560,360 520,390 C470,400 450,350 450,280 C460,200 490,120 520,100 C560,110 600,150 660,180 C740,220 780,300 800,380 C810,440 800,480 790,500 M590,600 C550,580 480,580 440,590 C400,610 400,680 390,740 C380,780 340,820 320,840 M620,620 C640,560 660,500 700,490 C760,480 820,560 850,620 C860,650 860,680 850,700 M60,1000 C50,900 60,800 80,740 C110,680 110,600 140,540 C160,510 190,530 220,580 C260,640 300,700 330,760 C350,800 370,850 380,900 C390,950 390,990 380,1000 M200,1000 C180,900 180,800 190,720 C200,680 240,660 260,670 C280,700 300,750 310,800 M620,620 C650,660 680,680 700,700 M740,560 C720,620 710,680 700,740 M1090,400 C1050,340 1050,260 1100,210 C1150,180 1230,180 1270,250 C1300,300 1300,340 1340,350 C1380,360 1420,370 1450,380 M1170,430 C1230,400 1280,380 1320,350 M1450,380 C1400,420 1350,450 1350,520 C1360,600 1380,680 1360,700 C1330,720 1260,740 1230,790 C1210,850 1220,920 1250,1000 M1420,430 C1450,480 1480,560 1490,630 C1500,700 1460,740 1420,720 C1400,700 1380,700 1360,700 M1360,740 C1380,800 1360,860 1320,900 C1290,930 1270,970 1260,1000 M1130,420 C1160,460 1190,500 1250,540 M900,860 C960,880 1020,920 1060,960 M60,1000 C70,1050 90,1080 110,1120 C140,1170 170,1220 200,1260 M200,1000 C220,1060 240,1100 250,1140 M110,1120 C150,1080 190,1040 230,1000 M270,1000 C300,1040 360,1040 420,1060 C460,1080 500,1070 520,1040 M230,1040 C280,1100 310,1180 320,1240 C320,1340 330,1420 310,1500 C300,1600 320,1700 340,1780 C350,1850 360,1900 350,1950 M330,1480 C350,1530 380,1580 420,1610 C460,1620 480,1580 490,1540 M640,1240 C680,1260 720,1300 770,1300 C810,1290 840,1260 860,1200 C870,1180 890,1180 900,1220 C910,1300 930,1350 960,1380 C990,1400 1000,1420 1000,1450 M740,1000 C740,1060 730,1120 720,1160 C700,1200 680,1240 650,1270 M540,1370 C580,1360 620,1370 650,1400 C670,1440 680,1500 660,1560 M780,1500 C820,1480 880,1450 930,1400 M900,900 C960,960 1050,1020 1120,1030 C1180,1040 1230,1020 1250,1000 M1230,1000 C1260,1020 1280,1080 1270,1140 C1260,1200 1230,1250 1200,1300 C1180,1340 1190,1370 1200,1390 M910,1360 C960,1280 1040,1220 1100,1240 C1140,1260 1160,1300 1180,1340 M950,1400 C1050,1380 1200,1380 1340,1400 M1640,1440 C1690,1480 1720,1560 1720,1650 C1720,1750 1680,1830 1620,1900 C1590,1940 1570,1960 1540,1960 M1420,1560 C1440,1620 1450,1700 1440,1760 C1420,1800 1360,1820 1320,1850 C1290,1880 1280,1900 1290,1900 M1500,1400 C1500,1450 1490,1520 1480,1560 M1650,1650 C1620,1720 1590,1800 1560,1900 M330,1700 C310,1760 320,1830 360,1880 C380,1900 400,1910 430,1910 M360,1900 C340,1960 300,2050 280,2120 C270,2170 300,2180 320,2150 C340,2100 360,2030 370,1960 C375,1930 370,1910 360,1900 M1000,1940 C960,1980 900,2020 880,2060 C880,2090 900,2110 930,2100 C950,2090 970,2070 1000,2060 M1290,1900 C1280,1820 1320,1770 1420,1760 C1440,1740 1450,1720 1460,1700 M1320,2000 C1260,1980 1190,1980 1160,2000 C1170,2060 1200,2120 1260,2200 C1300,2260 1330,2300 1360,2320 M1040,2100 C1060,2150 1080,2170 1090,2170 C1120,2150 1140,2100 1140,2000 M1520,1970 C1530,2060 1560,2120 1620,2200 M1420,1900 C1460,1940 1500,1960 1540,1960 M1540,1920 C1580,1840 1610,1760 1640,1700 M1000,1450 C990,1520 980,1580 990,1640" fill="none" stroke="#a86848" stroke-width="1.4" stroke-linecap="round" stroke-linejoin="round" vector-effect="non-scaling-stroke"/>
<polygon points="560,830 600,830 660,980 600,1000" fill="#8a4a28" stroke="#8a4a28" stroke-width="0.8" stroke-linejoin="round" vector-effect="non-scaling-stroke"/>
<polygon points="660,680 720,680 700,960 640,960" fill="#8a4a28" stroke="#8a4a28" stroke-width="0.8" stroke-linejoin="round" vector-effect="non-scaling-stroke"/>
<polygon points="110,1110 200,1230 600,1520 580,1600 520,1580 300,1500 200,1420 130,1250" fill="#8a4a28" stroke="#8a4a28" stroke-width="0.8" stroke-linejoin="round" vector-effect="non-scaling-stroke"/>
<polygon points="470,1000 580,1000 650,1250 620,1320 560,1200" fill="#8a4a28" stroke="#8a4a28" stroke-width="0.8" stroke-linejoin="round" vector-effect="non-scaling-stroke"/>
<polygon points="600,1540 680,1500 770,1560 700,1650 620,1640" fill="#8a4a28" stroke="#8a4a28" stroke-width="0.8" stroke-linejoin="round" vector-effect="non-scaling-stroke"/>
<polygon points="1240,1020 1310,1030 1450,1520 1390,1540" fill="#8a4a28" stroke="#8a4a28" stroke-width="0.8" stroke-linejoin="round" vector-effect="non-scaling-stroke"/>
<polygon points="1300,1170 1420,1190 1560,1280 1650,1400 1660,1560 1620,1580 1540,1430 1440,1330 1340,1250" fill="#8a4a28" stroke="#8a4a28" stroke-width="0.8" stroke-linejoin="round" vector-effect="non-scaling-stroke"/>
<polygon points="960,1480 1060,1460 1090,1900 1040,2050 990,1960 950,1700" fill="#8a4a28" stroke="#8a4a28" stroke-width="0.8" stroke-linejoin="round" vector-effect="non-scaling-stroke"/>
<polygon points="1140,1390 1200,1390 1180,1700 1130,1920 1060,2050 1100,1700" fill="#8a4a28" stroke="#8a4a28" stroke-width="0.8" stroke-linejoin="round" vector-effect="non-scaling-stroke"/>
<polygon points="1300,1940 1340,1920 1420,1840 1420,1880 1340,2000 1300,2000" fill="#8a4a28" stroke="#8a4a28" stroke-width="0.8" stroke-linejoin="round" vector-effect="non-scaling-stroke"/>
<polygon points="825,930 1015,596 1046,613 1070,420 916,539 946,556 755,890" fill="#8a4a28" stroke="#8a4a28" stroke-width="0.8" stroke-linejoin="round" vector-effect="non-scaling-stroke"/>
<polygon points="975,875 1184,666 1201,683 1265,535 1117,599 1134,616 925,825" fill="#8a4a28" stroke="#8a4a28" stroke-width="0.8" stroke-linejoin="round" vector-effect="non-scaling-stroke"/>
<polygon points="388,1917 537,1761 548,1771 560,1700 490,1716 501,1726 352,1883" fill="#8a4a28" stroke="#8a4a28" stroke-width="0.8" stroke-linejoin="round" vector-effect="non-scaling-stroke"/>
<polygon points="458,1929 801,1849 809,1883 900,1790 777,1747 785,1781 442,1861" fill="#8a4a28" stroke="#8a4a28" stroke-width="0.8" stroke-linejoin="round" vector-effect="non-scaling-stroke"/>
<path d="M260,660 C300,720 330,790 300,860 C280,900 250,940 230,970" fill="none" stroke="#8a4a28" stroke-width="1.8" stroke-linecap="round" vector-effect="non-scaling-stroke"/>
</g>
<g transform="translate(325.50,783.60) scale(0.08997,0.08993) translate(-61,-95)">
<path d="M470,1030 C440,1030 380,1040 350,1070 C330,1110 340,1170 380,1210 C420,1250 480,1270 540,1270 C560,1260 580,1250 590,1230" fill="none" stroke="#e0b8c8" stroke-width="1.2" vector-effect="non-scaling-stroke"/>
<path d="M140,180 C160,170 190,200 190,230 C180,260 170,280 190,300 C200,340 230,380 280,390 M280,390 C240,400 200,370 180,340 C150,300 100,300 85,340 C70,380 80,440 90,500 C100,530 140,540 160,560 C170,600 150,640 170,680 C180,700 210,720 250,720 C280,720 300,700 310,680 M180,470 C200,460 220,500 230,540 C240,580 230,620 240,650 C260,680 300,690 330,680 M360,100 C380,110 390,140 380,170 C360,200 340,220 330,260 M480,130 C510,100 560,95 590,120 C610,150 600,170 600,190 C620,220 640,240 650,260 C680,270 700,260 710,260 M480,130 C470,160 480,220 500,250 C520,270 540,280 550,300 M710,260 C750,280 790,310 830,330 C860,350 880,380 880,420 C880,440 860,460 840,470 C820,480 810,520 830,560 C850,600 880,620 900,640 C910,670 880,690 850,700 C800,710 770,700 750,690 M760,360 C740,400 720,450 700,480 C690,500 690,530 700,560 M600,580 C640,560 690,560 730,580 C750,600 760,640 740,680 M400,700 C430,670 470,660 500,680 C520,700 520,730 540,740 C560,740 580,720 590,700 M590,560 C580,620 570,680 580,740 C590,780 600,800 610,820 M330,760 C360,780 400,790 430,800 M440,720 C470,760 500,780 540,790 M560,880 C600,860 650,850 690,870 C720,880 740,900 760,910 M760,760 C800,760 840,770 860,800 C880,840 870,880 860,900 C840,930 820,950 830,980 M780,920 C820,940 860,960 880,1000 C900,1030 890,1060 880,1060 M520,1080 C550,1060 580,1040 610,1040 C640,1040 660,1060 680,1080 C700,1100 720,1120 740,1140 C780,1180 830,1200 880,1190 C920,1170 930,1120 910,1080 C890,1040 860,1020 830,1020 C790,1020 750,1040 720,1060 M560,990 C590,1000 610,1020 620,1050 C630,1080 620,1100 600,1110 C580,1110 560,1100 560,1080 M250,720 C280,760 300,780 330,760 M650,870 C660,920 670,960 700,990 C720,1010 760,1020 780,1010 M410,430 C440,470 470,500 500,500 M120,560 C140,600 170,640 200,650 M90,500 C60,560 70,620 100,660 C120,690 150,700 170,680 M200,300 C230,260 260,240 290,250 M610,180 C640,160 680,170 700,200 C710,230 700,250 690,260 M830,330 C850,300 870,290 890,300 C900,330 890,360 880,380 M420,560 C450,540 480,540 500,560 C520,580 520,620 500,640 M600,260 C620,300 620,340 600,370 M860,560 C880,520 890,480 880,440 M150,760 C200,780 250,800 290,790 M620,650 C650,680 690,700 720,700 M240,480 C260,450 290,440 310,450 M420,300 C440,260 460,220 450,180 C440,150 420,140 400,150 M770,460 C790,500 800,540 790,580" fill="none" stroke="#40b840" stroke-width="1.25" stroke-linecap="round" stroke-linejoin="round" vector-effect="non-scaling-stroke"/>
<polygon points="300,250 325,240 370,450 380,760 365,755 345,450" fill="#10c810" stroke="#10c810" stroke-width="0.8" stroke-linejoin="round" vector-effect="non-scaling-stroke"/>
<polygon points="335,240 350,235 405,420 400,560 385,560 385,430" fill="#10c810" stroke="#10c810" stroke-width="0.8" stroke-linejoin="round" vector-effect="non-scaling-stroke"/>
<polygon points="490,390 530,368 705,428 692,462" fill="#10c810" stroke="#10c810" stroke-width="0.8" stroke-linejoin="round" vector-effect="non-scaling-stroke"/>
<polygon points="505,452 545,430 725,470 705,502" fill="#10c810" stroke="#10c810" stroke-width="0.8" stroke-linejoin="round" vector-effect="non-scaling-stroke"/>
<polygon points="540,505 568,482 602,560 572,572" fill="#10c810" stroke="#10c810" stroke-width="0.8" stroke-linejoin="round" vector-effect="non-scaling-stroke"/>
<polygon points="430,830 470,820 480,880 450,940 430,900" fill="#10c810" stroke="#10c810" stroke-width="0.8" stroke-linejoin="round" vector-effect="non-scaling-stroke"/>
<polygon points="540,830 580,820 560,920 500,1040 470,1040 510,930" fill="#10c810" stroke="#10c810" stroke-width="0.8" stroke-linejoin="round" vector-effect="non-scaling-stroke"/>
<polygon points="690,700 730,690 740,840 700,870 680,800" fill="#10c810" stroke="#10c810" stroke-width="0.8" stroke-linejoin="round" vector-effect="non-scaling-stroke"/>
<polygon points="720,820 760,840 800,920 880,1000 880,1060 840,1020 760,920" fill="#10c810" stroke="#10c810" stroke-width="0.8" stroke-linejoin="round" vector-effect="non-scaling-stroke"/>
</g>
<g transform="translate(443.30,770.00) scale(0.10254,0.09642) translate(-61,-95)">
<path d="M470,1030 C440,1030 380,1040 350,1070 C330,1110 340,1170 380,1210 C420,1250 480,1270 540,1270 C560,1260 580,1250 590,1230" fill="none" stroke="#e0b8c8" stroke-width="1.2" vector-effect="non-scaling-stroke"/>
<path d="M140,180 C160,170 190,200 190,230 C180,260 170,280 190,300 C200,340 230,380 280,390 M280,390 C240,400 200,370 180,340 C150,300 100,300 85,340 C70,380 80,440 90,500 C100,530 140,540 160,560 C170,600 150,640 170,680 C180,700 210,720 250,720 C280,720 300,700 310,680 M180,470 C200,460 220,500 230,540 C240,580 230,620 240,650 C260,680 300,690 330,680 M360,100 C380,110 390,140 380,170 C360,200 340,220 330,260 M480,130 C510,100 560,95 590,120 C610,150 600,170 600,190 C620,220 640,240 650,260 C680,270 700,260 710,260 M480,130 C470,160 480,220 500,250 C520,270 540,280 550,300 M710,260 C750,280 790,310 830,330 C860,350 880,380 880,420 C880,440 860,460 840,470 C820,480 810,520 830,560 C850,600 880,620 900,640 C910,670 880,690 850,700 C800,710 770,700 750,690 M760,360 C740,400 720,450 700,480 C690,500 690,530 700,560 M600,580 C640,560 690,560 730,580 C750,600 760,640 740,680 M400,700 C430,670 470,660 500,680 C520,700 520,730 540,740 C560,740 580,720 590,700 M590,560 C580,620 570,680 580,740 C590,780 600,800 610,820 M330,760 C360,780 400,790 430,800 M440,720 C470,760 500,780 540,790 M560,880 C600,860 650,850 690,870 C720,880 740,900 760,910 M760,760 C800,760 840,770 860,800 C880,840 870,880 860,900 C840,930 820,950 830,980 M780,920 C820,940 860,960 880,1000 C900,1030 890,1060 880,1060 M520,1080 C550,1060 580,1040 610,1040 C640,1040 660,1060 680,1080 C700,1100 720,1120 740,1140 C780,1180 830,1200 880,1190 C920,1170 930,1120 910,1080 C890,1040 860,1020 830,1020 C790,1020 750,1040 720,1060 M560,990 C590,1000 610,1020 620,1050 C630,1080 620,1100 600,1110 C580,1110 560,1100 560,1080 M250,720 C280,760 300,780 330,760 M650,870 C660,920 670,960 700,990 C720,1010 760,1020 780,1010 M410,430 C440,470 470,500 500,500 M120,560 C140,600 170,640 200,650 M90,500 C60,560 70,620 100,660 C120,690 150,700 170,680 M200,300 C230,260 260,240 290,250 M610,180 C640,160 680,170 700,200 C710,230 700,250 690,260 M830,330 C850,300 870,290 890,300 C900,330 890,360 880,380 M420,560 C450,540 480,540 500,560 C520,580 520,620 500,640 M600,260 C620,300 620,340 600,370 M860,560 C880,520 890,480 880,440 M150,760 C200,780 250,800 290,790 M620,650 C650,680 690,700 720,700 M240,480 C260,450 290,440 310,450 M420,300 C440,260 460,220 450,180 C440,150 420,140 400,150 M770,460 C790,500 800,540 790,580" fill="none" stroke="#d8d038" stroke-width="1.25" stroke-linecap="round" stroke-linejoin="round" vector-effect="non-scaling-stroke"/>
<polygon points="300,250 325,240 370,450 380,760 365,755 345,450" fill="#c8c000" stroke="#c8c000" stroke-width="0.8" stroke-linejoin="round" vector-effect="non-scaling-stroke"/>
<polygon points="335,240 350,235 405,420 400,560 385,560 385,430" fill="#c8c000" stroke="#c8c000" stroke-width="0.8" stroke-linejoin="round" vector-effect="non-scaling-stroke"/>
<polygon points="490,390 530,368 705,428 692,462" fill="#c8c000" stroke="#c8c000" stroke-width="0.8" stroke-linejoin="round" vector-effect="non-scaling-stroke"/>
<polygon points="505,452 545,430 725,470 705,502" fill="#c8c000" stroke="#c8c000" stroke-width="0.8" stroke-linejoin="round" vector-effect="non-scaling-stroke"/>
<polygon points="540,505 568,482 602,560 572,572" fill="#c8c000" stroke="#c8c000" stroke-width="0.8" stroke-linejoin="round" vector-effect="non-scaling-stroke"/>
<polygon points="430,830 470,820 480,880 450,940 430,900" fill="#c8c000" stroke="#c8c000" stroke-width="0.8" stroke-linejoin="round" vector-effect="non-scaling-stroke"/>
<polygon points="540,830 580,820 560,920 500,1040 470,1040 510,930" fill="#c8c000" stroke="#c8c000" stroke-width="0.8" stroke-linejoin="round" vector-effect="non-scaling-stroke"/>
<polygon points="690,700 730,690 740,840 700,870 680,800" fill="#c8c000" stroke="#c8c000" stroke-width="0.8" stroke-linejoin="round" vector-effect="non-scaling-stroke"/>
<polygon points="720,820 760,840 800,920 880,1000 880,1060 840,1020 760,920" fill="#c8c000" stroke="#c8c000" stroke-width="0.8" stroke-linejoin="round" vector-effect="non-scaling-stroke"/>
</g>
<g transform="translate(618.30,808.30) scale(0.10392,0.09403) translate(-61,-95)">
<path d="M470,1030 C440,1030 380,1040 350,1070 C330,1110 340,1170 380,1210 C420,1250 480,1270 540,1270 C560,1260 580,1250 590,1230" fill="none" stroke="#e0b8c8" stroke-width="1.2" vector-effect="non-scaling-stroke"/>
<path d="M140,180 C160,170 190,200 190,230 C180,260 170,280 190,300 C200,340 230,380 280,390 M280,390 C240,400 200,370 180,340 C150,300 100,300 85,340 C70,380 80,440 90,500 C100,530 140,540 160,560 C170,600 150,640 170,680 C180,700 210,720 250,720 C280,720 300,700 310,680 M180,470 C200,460 220,500 230,540 C240,580 230,620 240,650 C260,680 300,690 330,680 M360,100 C380,110 390,140 380,170 C360,200 340,220 330,260 M480,130 C510,100 560,95 590,120 C610,150 600,170 600,190 C620,220 640,240 650,260 C680,270 700,260 710,260 M480,130 C470,160 480,220 500,250 C520,270 540,280 550,300 M710,260 C750,280 790,310 830,330 C860,350 880,380 880,420 C880,440 860,460 840,470 C820,480 810,520 830,560 C850,600 880,620 900,640 C910,670 880,690 850,700 C800,710 770,700 750,690 M760,360 C740,400 720,450 700,480 C690,500 690,530 700,560 M600,580 C640,560 690,560 730,580 C750,600 760,640 740,680 M400,700 C430,670 470,660 500,680 C520,700 520,730 540,740 C560,740 580,720 590,700 M590,560 C580,620 570,680 580,740 C590,780 600,800 610,820 M330,760 C360,780 400,790 430,800 M440,720 C470,760 500,780 540,790 M560,880 C600,860 650,850 690,870 C720,880 740,900 760,910 M760,760 C800,760 840,770 860,800 C880,840 870,880 860,900 C840,930 820,950 830,980 M780,920 C820,940 860,960 880,1000 C900,1030 890,1060 880,1060 M520,1080 C550,1060 580,1040 610,1040 C640,1040 660,1060 680,1080 C700,1100 720,1120 740,1140 C780,1180 830,1200 880,1190 C920,1170 930,1120 910,1080 C890,1040 860,1020 830,1020 C790,1020 750,1040 720,1060 M560,990 C590,1000 610,1020 620,1050 C630,1080 620,1100 600,1110 C580,1110 560,1100 560,1080 M250,720 C280,760 300,780 330,760 M650,870 C660,920 670,960 700,990 C720,1010 760,1020 780,1010 M410,430 C440,470 470,500 500,500 M120,560 C140,600 170,640 200,650 M90,500 C60,560 70,620 100,660 C120,690 150,700 170,680 M200,300 C230,260 260,240 290,250 M610,180 C640,160 680,170 700,200 C710,230 700,250 690,260 M830,330 C850,300 870,290 890,300 C900,330 890,360 880,380 M420,560 C450,540 480,540 500,560 C520,580 520,620 500,640 M600,260 C620,300 620,340 600,370 M860,560 C880,520 890,480 880,440 M150,760 C200,780 250,800 290,790 M620,650 C650,680 690,700 720,700 M240,480 C260,450 290,440 310,450 M420,300 C440,260 460,220 450,180 C440,150 420,140 400,150 M770,460 C790,500 800,540 790,580" fill="none" stroke="#5a5a5a" stroke-width="1.25" stroke-linecap="round" stroke-linejoin="round" vector-effect="non-scaling-stroke"/>
<polygon points="300,250 325,240 370,450 380,760 365,755 345,450" fill="#404040" stroke="#404040" stroke-width="0.8" stroke-linejoin="round" vector-effect="non-scaling-stroke"/>
<polygon points="335,240 350,235 405,420 400,560 385,560 385,430" fill="#404040" stroke="#404040" stroke-width="0.8" stroke-linejoin="round" vector-effect="non-scaling-stroke"/>
<polygon points="490,390 530,368 705,428 692,462" fill="#404040" stroke="#404040" stroke-width="0.8" stroke-linejoin="round" vector-effect="non-scaling-stroke"/>
<polygon points="505,452 545,430 725,470 705,502" fill="#404040" stroke="#404040" stroke-width="0.8" stroke-linejoin="round" vector-effect="non-scaling-stroke"/>
<polygon points="540,505 568,482 602,560 572,572" fill="#404040" stroke="#404040" stroke-width="0.8" stroke-linejoin="round" vector-effect="non-scaling-stroke"/>
<polygon points="430,830 470,820 480,880 450,940 430,900" fill="#404040" stroke="#404040" stroke-width="0.8" stroke-linejoin="round" vector-effect="non-scaling-stroke"/>
<polygon points="540,830 580,820 560,920 500,1040 470,1040 510,930" fill="#404040" stroke="#404040" stroke-width="0.8" stroke-linejoin="round" vector-effect="non-scaling-stroke"/>
<polygon points="690,700 730,690 740,840 700,870 680,800" fill="#404040" stroke="#404040" stroke-width="0.8" stroke-linejoin="round" vector-effect="non-scaling-stroke"/>
<polygon points="720,820 760,840 800,920 880,1000 880,1060 840,1020 760,920" fill="#404040" stroke="#404040" stroke-width="0.8" stroke-linejoin="round" vector-effect="non-scaling-stroke"/>
</g>
<g transform="translate(755.00,807.00) scale(0.10185,0.10068) translate(-61,-95)">
<path d="M470,1030 C440,1030 380,1040 350,1070 C330,1110 340,1170 380,1210 C420,1250 480,1270 540,1270 C560,1260 580,1250 590,1230" fill="none" stroke="#e0b8c8" stroke-width="1.2" vector-effect="non-scaling-stroke"/>
<path d="M140,180 C160,170 190,200 190,230 C180,260 170,280 190,300 C200,340 230,380 280,390 M280,390 C240,400 200,370 180,340 C150,300 100,300 85,340 C70,380 80,440 90,500 C100,530 140,540 160,560 C170,600 150,640 170,680 C180,700 210,720 250,720 C280,720 300,700 310,680 M180,470 C200,460 220,500 230,540 C240,580 230,620 240,650 C260,680 300,690 330,680 M360,100 C380,110 390,140 380,170 C360,200 340,220 330,260 M480,130 C510,100 560,95 590,120 C610,150 600,170 600,190 C620,220 640,240 650,260 C680,270 700,260 710,260 M480,130 C470,160 480,220 500,250 C520,270 540,280 550,300 M710,260 C750,280 790,310 830,330 C860,350 880,380 880,420 C880,440 860,460 840,470 C820,480 810,520 830,560 C850,600 880,620 900,640 C910,670 880,690 850,700 C800,710 770,700 750,690 M760,360 C740,400 720,450 700,480 C690,500 690,530 700,560 M600,580 C640,560 690,560 730,580 C750,600 760,640 740,680 M400,700 C430,670 470,660 500,680 C520,700 520,730 540,740 C560,740 580,720 590,700 M590,560 C580,620 570,680 580,740 C590,780 600,800 610,820 M330,760 C360,780 400,790 430,800 M440,720 C470,760 500,780 540,790 M560,880 C600,860 650,850 690,870 C720,880 740,900 760,910 M760,760 C800,760 840,770 860,800 C880,840 870,880 860,900 C840,930 820,950 830,980 M780,920 C820,940 860,960 880,1000 C900,1030 890,1060 880,1060 M520,1080 C550,1060 580,1040 610,1040 C640,1040 660,1060 680,1080 C700,1100 720,1120 740,1140 C780,1180 830,1200 880,1190 C920,1170 930,1120 910,1080 C890,1040 860,1020 830,1020 C790,1020 750,1040 720,1060 M560,990 C590,1000 610,1020 620,1050 C630,1080 620,1100 600,1110 C580,1110 560,1100 560,1080 M250,720 C280,760 300,780 330,760 M650,870 C660,920 670,960 700,990 C720,1010 760,1020 780,1010 M410,430 C440,470 470,500 500,500 M120,560 C140,600 170,640 200,650 M90,500 C60,560 70,620 100,660 C120,690 150,700 170,680 M200,300 C230,260 260,240 290,250 M610,180 C640,160 680,170 700,200 C710,230 700,250 690,260 M830,330 C850,300 870,290 890,300 C900,330 890,360 880,380 M420,560 C450,540 480,540 500,560 C520,580 520,620 500,640 M600,260 C620,300 620,340 600,370 M860,560 C880,520 890,480 880,440 M150,760 C200,780 250,800 290,790 M620,650 C650,680 690,700 720,700 M240,480 C260,450 290,440 310,450 M420,300 C440,260 460,220 450,180 C440,150 420,140 400,150 M770,460 C790,500 800,540 790,580" fill="none" stroke="#7a4ad8" stroke-width="1.25" stroke-linecap="round" stroke-linejoin="round" vector-effect="non-scaling-stroke"/>
<polygon points="300,250 325,240 370,450 380,760 365,755 345,450" fill="#5a20c0" stroke="#5a20c0" stroke-width="0.8" stroke-linejoin="round" vector-effect="non-scaling-stroke"/>
<polygon points="335,240 350,235 405,420 400,560 385,560 385,430" fill="#5a20c0" stroke="#5a20c0" stroke-width="0.8" stroke-linejoin="round" vector-effect="non-scaling-stroke"/>
<polygon points="490,390 530,368 705,428 692,462" fill="#5a20c0" stroke="#5a20c0" stroke-width="0.8" stroke-linejoin="round" vector-effect="non-scaling-stroke"/>
<polygon points="505,452 545,430 725,470 705,502" fill="#5a20c0" stroke="#5a20c0" stroke-width="0.8" stroke-linejoin="round" vector-effect="non-scaling-stroke"/>
<polygon points="540,505 568,482 602,560 572,572" fill="#5a20c0" stroke="#5a20c0" stroke-width="0.8" stroke-linejoin="round" vector-effect="non-scaling-stroke"/>
<polygon points="430,830 470,820 480,880 450,940 430,900" fill="#5a20c0" stroke="#5a20c0" stroke-width="0.8" stroke-linejoin="round" vector-effect="non-scaling-stroke"/>
<polygon points="540,830 580,820 560,920 500,1040 470,1040 510,930" fill="#5a20c0" stroke="#5a20c0" stroke-width="0.8" stroke-linejoin="round" vector-effect="non-scaling-stroke"/>
<polygon points="690,700 730,690 740,840 700,870 680,800" fill="#5a20c0" stroke="#5a20c0" stroke-width="0.8" stroke-linejoin="round" vector-effect="non-scaling-stroke"/>
<polygon points="720,820 760,840 800,920 880,1000 880,1060 840,1020 760,920" fill="#5a20c0" stroke="#5a20c0" stroke-width="0.8" stroke-linejoin="round" vector-effect="non-scaling-stroke"/>
</g>
<g transform="translate(861.60,876.70) scale(0.09735,0.08814) translate(-61,-95)">
<path d="M470,1030 C440,1030 380,1040 350,1070 C330,1110 340,1170 380,1210 C420,1250 480,1270 540,1270 C560,1260 580,1250 590,1230" fill="none" stroke="#e0b8c8" stroke-width="1.2" vector-effect="non-scaling-stroke"/>
<path d="M140,180 C160,170 190,200 190,230 C180,260 170,280 190,300 C200,340 230,380 280,390 M280,390 C240,400 200,370 180,340 C150,300 100,300 85,340 C70,380 80,440 90,500 C100,530 140,540 160,560 C170,600 150,640 170,680 C180,700 210,720 250,720 C280,720 300,700 310,680 M180,470 C200,460 220,500 230,540 C240,580 230,620 240,650 C260,680 300,690 330,680 M360,100 C380,110 390,140 380,170 C360,200 340,220 330,260 M480,130 C510,100 560,95 590,120 C610,150 600,170 600,190 C620,220 640,240 650,260 C680,270 700,260 710,260 M480,130 C470,160 480,220 500,250 C520,270 540,280 550,300 M710,260 C750,280 790,310 830,330 C860,350 880,380 880,420 C880,440 860,460 840,470 C820,480 810,520 830,560 C850,600 880,620 900,640 C910,670 880,690 850,700 C800,710 770,700 750,690 M760,360 C740,400 720,450 700,480 C690,500 690,530 700,560 M600,580 C640,560 690,560 730,580 C750,600 760,640 740,680 M400,700 C430,670 470,660 500,680 C520,700 520,730 540,740 C560,740 580,720 590,700 M590,560 C580,620 570,680 580,740 C590,780 600,800 610,820 M330,760 C360,780 400,790 430,800 M440,720 C470,760 500,780 540,790 M560,880 C600,860 650,850 690,870 C720,880 740,900 760,910 M760,760 C800,760 840,770 860,800 C880,840 870,880 860,900 C840,930 820,950 830,980 M780,920 C820,940 860,960 880,1000 C900,1030 890,1060 880,1060 M520,1080 C550,1060 580,1040 610,1040 C640,1040 660,1060 680,1080 C700,1100 720,1120 740,1140 C780,1180 830,1200 880,1190 C920,1170 930,1120 910,1080 C890,1040 860,1020 830,1020 C790,1020 750,1040 720,1060 M560,990 C590,1000 610,1020 620,1050 C630,1080 620,1100 600,1110 C580,1110 560,1100 560,1080 M250,720 C280,760 300,780 330,760 M650,870 C660,920 670,960 700,990 C720,1010 760,1020 780,1010 M410,430 C440,470 470,500 500,500 M120,560 C140,600 170,640 200,650 M90,500 C60,560 70,620 100,660 C120,690 150,700 170,680 M200,300 C230,260 260,240 290,250 M610,180 C640,160 680,170 700,200 C710,230 700,250 690,260 M830,330 C850,300 870,290 890,300 C900,330 890,360 880,380 M420,560 C450,540 480,540 500,560 C520,580 520,620 500,640 M600,260 C620,300 620,340 600,370 M860,560 C880,520 890,480 880,440 M150,760 C200,780 250,800 290,790 M620,650 C650,680 690,700 720,700 M240,480 C260,450 290,440 310,450 M420,300 C440,260 460,220 450,180 C440,150 420,140 400,150 M770,460 C790,500 800,540 790,580" fill="none" stroke="#d8902a" stroke-width="1.25" stroke-linecap="round" stroke-linejoin="round" vector-effect="non-scaling-stroke"/>
<polygon points="300,250 325,240 370,450 380,760 365,755 345,450" fill="#c07010" stroke="#c07010" stroke-width="0.8" stroke-linejoin="round" vector-effect="non-scaling-stroke"/>
<polygon points="335,240 350,235 405,420 400,560 385,560 385,430" fill="#c07010" stroke="#c07010" stroke-width="0.8" stroke-linejoin="round" vector-effect="non-scaling-stroke"/>
<polygon points="490,390 530,368 705,428 692,462" fill="#c07010" stroke="#c07010" stroke-width="0.8" stroke-linejoin="round" vector-effect="non-scaling-stroke"/>
<polygon points="505,452 545,430 725,470 705,502" fill="#c07010" stroke="#c07010" stroke-width="0.8" stroke-linejoin="round" vector-effect="non-scaling-stroke"/>
<polygon points="540,505 568,482 602,560 572,572" fill="#c07010" stroke="#c07010" stroke-width="0.8" stroke-linejoin="round" vector-effect="non-scaling-stroke"/>
<polygon points="430,830 470,820 480,880 450,940 430,900" fill="#c07010" stroke="#c07010" stroke-width="0.8" stroke-linejoin="round" vector-effect="non-scaling-stroke"/>
<polygon points="540,830 580,820 560,920 500,1040 470,1040 510,930" fill="#c07010" stroke="#c07010" stroke-width="0.8" stroke-linejoin="round" vector-effect="non-scaling-stroke"/>
<polygon points="690,700 730,690 740,840 700,870 680,800" fill="#c07010" stroke="#c07010" stroke-width="0.8" stroke-linejoin="round" vector-effect="non-scaling-stroke"/>
<polygon points="720,820 760,840 800,920 880,1000 880,1060 840,1020 760,920" fill="#c07010" stroke="#c07010" stroke-width="0.8" stroke-linejoin="round" vector-effect="non-scaling-stroke"/>
</g>
<g transform="translate(168.20,1075.90) scale(0.05494,0.05196) translate(-40,-80)">
<path d="M900,2090 C860,2150 840,2230 860,2300 C890,2360 950,2410 1040,2420 C1100,2410 1150,2370 1200,2340 C1260,2320 1300,2330 1340,2320 C1370,2300 1400,2250 1410,2200" fill="none" stroke="#e0b8c8" stroke-width="1.2" vector-effect="non-scaling-stroke"/>
<path d="M600,580 C590,520 620,450 620,400 C610,350 560,360 520,390 C470,400 450,350 450,280 C460,200 490,120 520,100 C560,110 600,150 660,180 C740,220 780,300 800,380 C810,440 800,480 790,500 M590,600 C550,580 480,580 440,590 C400,610 400,680 390,740 C380,780 340,820 320,840 M620,620 C640,560 660,500 700,490 C760,480 820,560 850,620 C860,650 860,680 850,700 M60,1000 C50,900 60,800 80,740 C110,680 110,600 140,540 C160,510 190,530 220,580 C260,640 300,700 330,760 C350,800 370,850 380,900 C390,950 390,990 380,1000 M200,1000 C180,900 180,800 190,720 C200,680 240,660 260,670 C280,700 300,750 310,800 M620,620 C650,660 680,680 700,700 M740,560 C720,620 710,680 700,740 M1090,400 C1050,340 1050,260 1100,210 C1150,180 1230,180 1270,250 C1300,300 1300,340 1340,350 C1380,360 1420,370 1450,380 M1170,430 C1230,400 1280,380 1320,350 M1450,380 C1400,420 1350,450 1350,520 C1360,600 1380,680 1360,700 C1330,720 1260,740 1230,790 C1210,850 1220,920 1250,1000 M1420,430 C1450,480 1480,560 1490,630 C1500,700 1460,740 1420,720 C1400,700 1380,700 1360,700 M1360,740 C1380,800 1360,860 1320,900 C1290,930 1270,970 1260,1000 M1130,420 C1160,460 1190,500 1250,540 M900,860 C960,880 1020,920 1060,960 M60,1000 C70,1050 90,1080 110,1120 C140,1170 170,1220 200,1260 M200,1000 C220,1060 240,1100 250,1140 M110,1120 C150,1080 190,1040 230,1000 M270,1000 C300,1040 360,1040 420,1060 C460,1080 500,1070 520,1040 M230,1040 C280,1100 310,1180 320,1240 C320,1340 330,1420 310,1500 C300,1600 320,1700 340,1780 C350,1850 360,1900 350,1950 M330,1480 C350,1530 380,1580 420,1610 C460,1620 480,1580 490,1540 M640,1240 C680,1260 720,1300 770,1300 C810,1290 840,1260 860,1200 C870,1180 890,1180 900,1220 C910,1300 930,1350 960,1380 C990,1400 1000,1420 1000,1450 M740,1000 C740,1060 730,1120 720,1160 C700,1200 680,1240 650,1270 M540,1370 C580,1360 620,1370 650,1400 C670,1440 680,1500 660,1560 M780,1500 C820,1480 880,1450 930,1400 M900,900 C960,960 1050,1020 1120,1030 C1180,1040 1230,1020 1250,1000 M1230,1000 C1260,1020 1280,1080 1270,1140 C1260,1200 1230,1250 1200,1300 C1180,1340 1190,1370 1200,1390 M910,1360 C960,1280 1040,1220 1100,1240 C1140,1260 1160,1300 1180,1340 M950,1400 C1050,1380 1200,1380 1340,1400 M1640,1440 C1690,1480 1720,1560 1720,1650 C1720,1750 1680,1830 1620,1900 C1590,1940 1570,1960 1540,1960 M1420,1560 C1440,1620 1450,1700 1440,1760 C1420,1800 1360,1820 1320,1850 C1290,1880 1280,1900 1290,1900 M1500,1400 C1500,1450 1490,1520 1480,1560 M1650,1650 C1620,1720 1590,1800 1560,1900 M330,1700 C310,1760 320,1830 360,1880 C380,1900 400,1910 430,1910 M360,1900 C340,1960 300,2050 280,2120 C270,2170 300,2180 320,2150 C340,2100 360,2030 370,1960 C375,1930 370,1910 360,1900 M1000,1940 C960,1980 900,2020 880,2060 C880,2090 900,2110 930,2100 C950,2090 970,2070 1000,2060 M1290,1900 C1280,1820 1320,1770 1420,1760 C1440,1740 1450,1720 1460,1700 M1320,2000 C1260,1980 1190,1980 1160,2000 C1170,2060 1200,2120 1260,2200 C1300,2260 1330,2300 1360,2320 M1040,2100 C1060,2150 1080,2170 1090,2170 C1120,2150 1140,2100 1140,2000 M1520,1970 C1530,2060 1560,2120 1620,2200 M1420,1900 C1460,1940 1500,1960 1540,1960 M1540,1920 C1580,1840 1610,1760 1640,1700 M1000,1450 C990,1520 980,1580 990,1640" fill="none" stroke="#2828c8" stroke-width="1.4" stroke-linecap="round" stroke-linejoin="round" vector-effect="non-scaling-stroke"/>
<polygon points="560,830 600,830 660,980 600,1000" fill="#1010b0" stroke="#1010b0" stroke-width="0.8" stroke-linejoin="round" vector-effect="non-scaling-stroke"/>
<polygon points="660,680 720,680 700,960 640,960" fill="#1010b0" stroke="#1010b0" stroke-width="0.8" stroke-linejoin="round" vector-effect="non-scaling-stroke"/>
<polygon points="110,1110 200,1230 600,1520 580,1600 520,1580 300,1500 200,1420 130,1250" fill="#1010b0" stroke="#1010b0" stroke-width="0.8" stroke-linejoin="round" vector-effect="non-scaling-stroke"/>
<polygon points="470,1000 580,1000 650,1250 620,1320 560,1200" fill="#1010b0" stroke="#1010b0" stroke-width="0.8" stroke-linejoin="round" vector-effect="non-scaling-stroke"/>
<polygon points="600,1540 680,1500 770,1560 700,1650 620,1640" fill="#1010b0" stroke="#1010b0" stroke-width="0.8" stroke-linejoin="round" vector-effect="non-scaling-stroke"/>
<polygon points="1240,1020 1310,1030 1450,1520 1390,1540" fill="#1010b0" stroke="#1010b0" stroke-width="0.8" stroke-linejoin="round" vector-effect="non-scaling-stroke"/>
<polygon points="1300,1170 1420,1190 1560,1280 1650,1400 1660,1560 1620,1580 1540,1430 1440,1330 1340,1250" fill="#1010b0" stroke="#1010b0" stroke-width="0.8" stroke-linejoin="round" vector-effect="non-scaling-stroke"/>
<polygon points="960,1480 1060,1460 1090,1900 1040,2050 990,1960 950,1700" fill="#1010b0" stroke="#1010b0" stroke-width="0.8" stroke-linejoin="round" vector-effect="non-scaling-stroke"/>
<polygon points="1140,1390 1200,1390 1180,1700 1130,1920 1060,2050 1100,1700" fill="#1010b0" stroke="#1010b0" stroke-width="0.8" stroke-linejoin="round" vector-effect="non-scaling-stroke"/>
<polygon points="1300,1940 1340,1920 1420,1840 1420,1880 1340,2000 1300,2000" fill="#1010b0" stroke="#1010b0" stroke-width="0.8" stroke-linejoin="round" vector-effect="non-scaling-stroke"/>
<polygon points="825,930 1015,596 1046,613 1070,420 916,539 946,556 755,890" fill="#1010b0" stroke="#1010b0" stroke-width="0.8" stroke-linejoin="round" vector-effect="non-scaling-stroke"/>
<polygon points="975,875 1184,666 1201,683 1265,535 1117,599 1134,616 925,825" fill="#1010b0" stroke="#1010b0" stroke-width="0.8" stroke-linejoin="round" vector-effect="non-scaling-stroke"/>
<polygon points="388,1917 537,1761 548,1771 560,1700 490,1716 501,1726 352,1883" fill="#1010b0" stroke="#1010b0" stroke-width="0.8" stroke-linejoin="round" vector-effect="non-scaling-stroke"/>
<polygon points="458,1929 801,1849 809,1883 900,1790 777,1747 785,1781 442,1861" fill="#1010b0" stroke="#1010b0" stroke-width="0.8" stroke-linejoin="round" vector-effect="non-scaling-stroke"/>
<path d="M260,660 C300,720 330,790 300,860 C280,900 250,940 230,970" fill="none" stroke="#1010b0" stroke-width="1.8" stroke-linecap="round" vector-effect="non-scaling-stroke"/>
</g>
<g transform="translate(157.00,1214.00) scale(0.05000,0.05000) translate(-40,-80)">
<path d="M900,2090 C860,2150 840,2230 860,2300 C890,2360 950,2410 1040,2420 C1100,2410 1150,2370 1200,2340 C1260,2320 1300,2330 1340,2320 C1370,2300 1400,2250 1410,2200" fill="none" stroke="#e0b8c8" stroke-width="1.2" vector-effect="non-scaling-stroke"/>
<path d="M600,580 C590,520 620,450 620,400 C610,350 560,360 520,390 C470,400 450,350 450,280 C460,200 490,120 520,100 C560,110 600,150 660,180 C740,220 780,300 800,380 C810,440 800,480 790,500 M590,600 C550,580 480,580 440,590 C400,610 400,680 390,740 C380,780 340,820 320,840 M620,620 C640,560 660,500 700,490 C760,480 820,560 850,620 C860,650 860,680 850,700 M60,1000 C50,900 60,800 80,740 C110,680 110,600 140,540 C160,510 190,530 220,580 C260,640 300,700 330,760 C350,800 370,850 380,900 C390,950 390,990 380,1000 M200,1000 C180,900 180,800 190,720 C200,680 240,660 260,670 C280,700 300,750 310,800 M620,620 C650,660 680,680 700,700 M740,560 C720,620 710,680 700,740 M1090,400 C1050,340 1050,260 1100,210 C1150,180 1230,180 1270,250 C1300,300 1300,340 1340,350 C1380,360 1420,370 1450,380 M1170,430 C1230,400 1280,380 1320,350 M1450,380 C1400,420 1350,450 1350,520 C1360,600 1380,680 1360,700 C1330,720 1260,740 1230,790 C1210,850 1220,920 1250,1000 M1420,430 C1450,480 1480,560 1490,630 C1500,700 1460,740 1420,720 C1400,700 1380,700 1360,700 M1360,740 C1380,800 1360,860 1320,900 C1290,930 1270,970 1260,1000 M1130,420 C1160,460 1190,500 1250,540 M900,860 C960,880 1020,920 1060,960 M60,1000 C70,1050 90,1080 110,1120 C140,1170 170,1220 200,1260 M200,1000 C220,1060 240,1100 250,1140 M110,1120 C150,1080 190,1040 230,1000 M270,1000 C300,1040 360,1040 420,1060 C460,1080 500,1070 520,1040 M230,1040 C280,1100 310,1180 320,1240 C320,1340 330,1420 310,1500 C300,1600 320,1700 340,1780 C350,1850 360,1900 350,1950 M330,1480 C350,1530 380,1580 420,1610 C460,1620 480,1580 490,1540 M640,1240 C680,1260 720,1300 770,1300 C810,1290 840,1260 860,1200 C870,1180 890,1180 900,1220 C910,1300 930,1350 960,1380 C990,1400 1000,1420 1000,1450 M740,1000 C740,1060 730,1120 720,1160 C700,1200 680,1240 650,1270 M540,1370 C580,1360 620,1370 650,1400 C670,1440 680,1500 660,1560 M780,1500 C820,1480 880,1450 930,1400 M900,900 C960,960 1050,1020 1120,1030 C1180,1040 1230,1020 1250,1000 M1230,1000 C1260,1020 1280,1080 1270,1140 C1260,1200 1230,1250 1200,1300 C1180,1340 1190,1370 1200,1390 M910,1360 C960,1280 1040,1220 1100,1240 C1140,1260 1160,1300 1180,1340 M950,1400 C1050,1380 1200,1380 1340,1400 M1640,1440 C1690,1480 1720,1560 1720,1650 C1720,1750 1680,1830 1620,1900 C1590,1940 1570,1960 1540,1960 M1420,1560 C1440,1620 1450,1700 1440,1760 C1420,1800 1360,1820 1320,1850 C1290,1880 1280,1900 1290,1900 M1500,1400 C1500,1450 1490,1520 1480,1560 M1650,1650 C1620,1720 1590,1800 1560,1900 M330,1700 C310,1760 320,1830 360,1880 C380,1900 400,1910 430,1910 M360,1900 C340,1960 300,2050 280,2120 C270,2170 300,2180 320,2150 C340,2100 360,2030 370,1960 C375,1930 370,1910 360,1900 M1000,1940 C960,1980 900,2020 880,2060 C880,2090 900,2110 930,2100 C950,2090 970,2070 1000,2060 M1290,1900 C1280,1820 1320,1770 1420,1760 C1440,1740 1450,1720 1460,1700 M1320,2000 C1260,1980 1190,1980 1160,2000 C1170,2060 1200,2120 1260,2200 C1300,2260 1330,2300 1360,2320 M1040,2100 C1060,2150 1080,2170 1090,2170 C1120,2150 1140,2100 1140,2000 M1520,1970 C1530,2060 1560,2120 1620,2200 M1420,1900 C1460,1940 1500,1960 1540,1960 M1540,1920 C1580,1840 1610,1760 1640,1700 M1000,1450 C990,1520 980,1580 990,1640" fill="none" stroke="#1a1a1a" stroke-width="1.4" stroke-linecap="round" stroke-linejoin="round" vector-effect="non-scaling-stroke"/>
<polygon points="560,830 600,830 660,980 600,1000" fill="#000000" stroke="#000000" stroke-width="0.8" stroke-linejoin="round" vector-effect="non-scaling-stroke"/>
<polygon points="660,680 720,680 700,960 640,960" fill="#000000" stroke="#000000" stroke-width="0.8" stroke-linejoin="round" vector-effect="non-scaling-stroke"/>
<polygon points="110,1110 200,1230 600,1520 580,1600 520,1580 300,1500 200,1420 130,1250" fill="#000000" stroke="#000000" stroke-width="0.8" stroke-linejoin="round" vector-effect="non-scaling-stroke"/>
<polygon points="470,1000 580,1000 650,1250 620,1320 560,1200" fill="#000000" stroke="#000000" stroke-width="0.8" stroke-linejoin="round" vector-effect="non-scaling-stroke"/>
<polygon points="600,1540 680,1500 770,1560 700,1650 620,1640" fill="#000000" stroke="#000000" stroke-width="0.8" stroke-linejoin="round" vector-effect="non-scaling-stroke"/>
<polygon points="1240,1020 1310,1030 1450,1520 1390,1540" fill="#000000" stroke="#000000" stroke-width="0.8" stroke-linejoin="round" vector-effect="non-scaling-stroke"/>
<polygon points="1300,1170 1420,1190 1560,1280 1650,1400 1660,1560 1620,1580 1540,1430 1440,1330 1340,1250" fill="#000000" stroke="#000000" stroke-width="0.8" stroke-linejoin="round" vector-effect="non-scaling-stroke"/>
<polygon points="960,1480 1060,1460 1090,1900 1040,2050 990,1960 950,1700" fill="#000000" stroke="#000000" stroke-width="0.8" stroke-linejoin="round" vector-effect="non-scaling-stroke"/>
<polygon points="1140,1390 1200,1390 1180,1700 1130,1920 1060,2050 1100,1700" fill="#000000" stroke="#000000" stroke-width="0.8" stroke-linejoin="round" vector-effect="non-scaling-stroke"/>
<polygon points="1300,1940 1340,1920 1420,1840 1420,1880 1340,2000 1300,2000" fill="#000000" stroke="#000000" stroke-width="0.8" stroke-linejoin="round" vector-effect="non-scaling-stroke"/>
<polygon points="825,930 1015,596 1046,613 1070,420 916,539 946,556 755,890" fill="#000000" stroke="#000000" stroke-width="0.8" stroke-linejoin="round" vector-effect="non-scaling-stroke"/>
<polygon points="975,875 1184,666 1201,683 1265,535 1117,599 1134,616 925,825" fill="#000000" stroke="#000000" stroke-width="0.8" stroke-linejoin="round" vector-effect="non-scaling-stroke"/>
<polygon points="388,1917 537,1761 548,1771 560,1700 490,1716 501,1726 352,1883" fill="#000000" stroke="#000000" stroke-width="0.8" stroke-linejoin="round" vector-effect="non-scaling-stroke"/>
<polygon points="458,1929 801,1849 809,1883 900,1790 777,1747 785,1781 442,1861" fill="#000000" stroke="#000000" stroke-width="0.8" stroke-linejoin="round" vector-effect="non-scaling-stroke"/>
<path d="M260,660 C300,720 330,790 300,860 C280,900 250,940 230,970" fill="none" stroke="#000000" stroke-width="1.8" stroke-linecap="round" vector-effect="non-scaling-stroke"/>
</g>
<g transform="translate(796.00,1105.00) scale(0.08997,0.08618) translate(-61,-95)">
<path d="M470,1030 C440,1030 380,1040 350,1070 C330,1110 340,1170 380,1210 C420,1250 480,1270 540,1270 C560,1260 580,1250 590,1230" fill="none" stroke="#e0b8c8" stroke-width="1.2" vector-effect="non-scaling-stroke"/>
<path d="M140,180 C160,170 190,200 190,230 C180,260 170,280 190,300 C200,340 230,380 280,390 M280,390 C240,400 200,370 180,340 C150,300 100,300 85,340 C70,380 80,440 90,500 C100,530 140,540 160,560 C170,600 150,640 170,680 C180,700 210,720 250,720 C280,720 300,700 310,680 M180,470 C200,460 220,500 230,540 C240,580 230,620 240,650 C260,680 300,690 330,680 M360,100 C380,110 390,140 380,170 C360,200 340,220 330,260 M480,130 C510,100 560,95 590,120 C610,150 600,170 600,190 C620,220 640,240 650,260 C680,270 700,260 710,260 M480,130 C470,160 480,220 500,250 C520,270 540,280 550,300 M710,260 C750,280 790,310 830,330 C860,350 880,380 880,420 C880,440 860,460 840,470 C820,480 810,520 830,560 C850,600 880,620 900,640 C910,670 880,690 850,700 C800,710 770,700 750,690 M760,360 C740,400 720,450 700,480 C690,500 690,530 700,560 M600,580 C640,560 690,560 730,580 C750,600 760,640 740,680 M400,700 C430,670 470,660 500,680 C520,700 520,730 540,740 C560,740 580,720 590,700 M590,560 C580,620 570,680 580,740 C590,780 600,800 610,820 M330,760 C360,780 400,790 430,800 M440,720 C470,760 500,780 540,790 M560,880 C600,860 650,850 690,870 C720,880 740,900 760,910 M760,760 C800,760 840,770 860,800 C880,840 870,880 860,900 C840,930 820,950 830,980 M780,920 C820,940 860,960 880,1000 C900,1030 890,1060 880,1060 M520,1080 C550,1060 580,1040 610,1040 C640,1040 660,1060 680,1080 C700,1100 720,1120 740,1140 C780,1180 830,1200 880,1190 C920,1170 930,1120 910,1080 C890,1040 860,1020 830,1020 C790,1020 750,1040 720,1060 M560,990 C590,1000 610,1020 620,1050 C630,1080 620,1100 600,1110 C580,1110 560,1100 560,1080 M250,720 C280,760 300,780 330,760 M650,870 C660,920 670,960 700,990 C720,1010 760,1020 780,1010 M410,430 C440,470 470,500 500,500 M120,560 C140,600 170,640 200,650 M90,500 C60,560 70,620 100,660 C120,690 150,700 170,680 M200,300 C230,260 260,240 290,250 M610,180 C640,160 680,170 700,200 C710,230 700,250 690,260 M830,330 C850,300 870,290 890,300 C900,330 890,360 880,380 M420,560 C450,540 480,540 500,560 C520,580 520,620 500,640 M600,260 C620,300 620,340 600,370 M860,560 C880,520 890,480 880,440 M150,760 C200,780 250,800 290,790 M620,650 C650,680 690,700 720,700 M240,480 C260,450 290,440 310,450 M420,300 C440,260 460,220 450,180 C440,150 420,140 400,150 M770,460 C790,500 800,540 790,580" fill="none" stroke="#b840c0" stroke-width="1.25" stroke-linecap="round" stroke-linejoin="round" vector-effect="non-scaling-stroke"/>
<polygon points="300,250 325,240 370,450 380,760 365,755 345,450" fill="#900090" stroke="#900090" stroke-width="0.8" stroke-linejoin="round" vector-effect="non-scaling-stroke"/>
<polygon points="335,240 350,235 405,420 400,560 385,560 385,430" fill="#900090" stroke="#900090" stroke-width="0.8" stroke-linejoin="round" vector-effect="non-scaling-stroke"/>
<polygon points="490,390 530,368 705,428 692,462" fill="#900090" stroke="#900090" stroke-width="0.8" stroke-linejoin="round" vector-effect="non-scaling-stroke"/>
<polygon points="505,452 545,430 725,470 705,502" fill="#900090" stroke="#900090" stroke-width="0.8" stroke-linejoin="round" vector-effect="non-scaling-stroke"/>
<polygon points="540,505 568,482 602,560 572,572" fill="#900090" stroke="#900090" stroke-width="0.8" stroke-linejoin="round" vector-effect="non-scaling-stroke"/>
<polygon points="430,830 470,820 480,880 450,940 430,900" fill="#900090" stroke="#900090" stroke-width="0.8" stroke-linejoin="round" vector-effect="non-scaling-stroke"/>
<polygon points="540,830 580,820 560,920 500,1040 470,1040 510,930" fill="#900090" stroke="#900090" stroke-width="0.8" stroke-linejoin="round" vector-effect="non-scaling-stroke"/>
<polygon points="690,700 730,690 740,840 700,870 680,800" fill="#900090" stroke="#900090" stroke-width="0.8" stroke-linejoin="round" vector-effect="non-scaling-stroke"/>
<polygon points="720,820 760,840 800,920 880,1000 880,1060 840,1020 760,920" fill="#900090" stroke="#900090" stroke-width="0.8" stroke-linejoin="round" vector-effect="non-scaling-stroke"/>
</g>
<g transform="translate(885.00,1065.60) scale(0.08997,0.08140) translate(-61,-95)">
<path d="M470,1030 C440,1030 380,1040 350,1070 C330,1110 340,1170 380,1210 C420,1250 480,1270 540,1270 C560,1260 580,1250 590,1230" fill="none" stroke="#e0b8c8" stroke-width="1.2" vector-effect="non-scaling-stroke"/>
<path d="M140,180 C160,170 190,200 190,230 C180,260 170,280 190,300 C200,340 230,380 280,390 M280,390 C240,400 200,370 180,340 C150,300 100,300 85,340 C70,380 80,440 90,500 C100,530 140,540 160,560 C170,600 150,640 170,680 C180,700 210,720 250,720 C280,720 300,700 310,680 M180,470 C200,460 220,500 230,540 C240,580 230,620 240,650 C260,680 300,690 330,680 M360,100 C380,110 390,140 380,170 C360,200 340,220 330,260 M480,130 C510,100 560,95 590,120 C610,150 600,170 600,190 C620,220 640,240 650,260 C680,270 700,260 710,260 M480,130 C470,160 480,220 500,250 C520,270 540,280 550,300 M710,260 C750,280 790,310 830,330 C860,350 880,380 880,420 C880,440 860,460 840,470 C820,480 810,520 830,560 C850,600 880,620 900,640 C910,670 880,690 850,700 C800,710 770,700 750,690 M760,360 C740,400 720,450 700,480 C690,500 690,530 700,560 M600,580 C640,560 690,560 730,580 C750,600 760,640 740,680 M400,700 C430,670 470,660 500,680 C520,700 520,730 540,740 C560,740 580,720 590,700 M590,560 C580,620 570,680 580,740 C590,780 600,800 610,820 M330,760 C360,780 400,790 430,800 M440,720 C470,760 500,780 540,790 M560,880 C600,860 650,850 690,870 C720,880 740,900 760,910 M760,760 C800,760 840,770 860,800 C880,840 870,880 860,900 C840,930 820,950 830,980 M780,920 C820,940 860,960 880,1000 C900,1030 890,1060 880,1060 M520,1080 C550,1060 580,1040 610,1040 C640,1040 660,1060 680,1080 C700,1100 720,1120 740,1140 C780,1180 830,1200 880,1190 C920,1170 930,1120 910,1080 C890,1040 860,1020 830,1020 C790,1020 750,1040 720,1060 M560,990 C590,1000 610,1020 620,1050 C630,1080 620,1100 600,1110 C580,1110 560,1100 560,1080 M250,720 C280,760 300,780 330,760 M650,870 C660,920 670,960 700,990 C720,1010 760,1020 780,1010 M410,430 C440,470 470,500 500,500 M120,560 C140,600 170,640 200,650 M90,500 C60,560 70,620 100,660 C120,690 150,700 170,680 M200,300 C230,260 260,240 290,250 M610,180 C640,160 680,170 700,200 C710,230 700,250 690,260 M830,330 C850,300 870,290 890,300 C900,330 890,360 880,380 M420,560 C450,540 480,540 500,560 C520,580 520,620 500,640 M600,260 C620,300 620,340 600,370 M860,560 C880,520 890,480 880,440 M150,760 C200,780 250,800 290,790 M620,650 C650,680 690,700 720,700 M240,480 C260,450 290,440 310,450 M420,300 C440,260 460,220 450,180 C440,150 420,140 400,150 M770,460 C790,500 800,540 790,580" fill="none" stroke="#40c4cc" stroke-width="1.25" stroke-linecap="round" stroke-linejoin="round" vector-effect="non-scaling-stroke"/>
<polygon points="300,250 325,240 370,450 380,760 365,755 345,450" fill="#108c98" stroke="#108c98" stroke-width="0.8" stroke-linejoin="round" vector-effect="non-scaling-stroke"/>
<polygon points="335,240 350,235 405,420 400,560 385,560 385,430" fill="#108c98" stroke="#108c98" stroke-width="0.8" stroke-linejoin="round" vector-effect="non-scaling-stroke"/>
<polygon points="490,390 530,368 705,428 692,462" fill="#108c98" stroke="#108c98" stroke-width="0.8" stroke-linejoin="round" vector-effect="non-scaling-stroke"/>
<polygon points="505,452 545,430 725,470 705,502" fill="#108c98" stroke="#108c98" stroke-width="0.8" stroke-linejoin="round" vector-effect="non-scaling-stroke"/>
<polygon points="540,505 568,482 602,560 572,572" fill="#108c98" stroke="#108c98" stroke-width="0.8" stroke-linejoin="round" vector-effect="non-scaling-stroke"/>
<polygon points="430,830 470,820 480,880 450,940 430,900" fill="#108c98" stroke="#108c98" stroke-width="0.8" stroke-linejoin="round" vector-effect="non-scaling-stroke"/>
<polygon points="540,830 580,820 560,920 500,1040 470,1040 510,930" fill="#108c98" stroke="#108c98" stroke-width="0.8" stroke-linejoin="round" vector-effect="non-scaling-stroke"/>
<polygon points="690,700 730,690 740,840 700,870 680,800" fill="#108c98" stroke="#108c98" stroke-width="0.8" stroke-linejoin="round" vector-effect="non-scaling-stroke"/>
<polygon points="720,820 760,840 800,920 880,1000 880,1060 840,1020 760,920" fill="#108c98" stroke="#108c98" stroke-width="0.8" stroke-linejoin="round" vector-effect="non-scaling-stroke"/>
</g>
<g transform="translate(132.75,696.4) scale(0.99412,1.15034)"><rect x="0" y="0" width="850.0" height="586.0" fill="none" stroke="#282828" stroke-width="2.2"/>
<path d="M0,544.14H9M850.0,544.14H841.0" stroke="#282828" stroke-width="2.2"/>
<path d="M0,502.29H17M850.0,502.29H833.0" stroke="#282828" stroke-width="2.2"/>
<path d="M0,460.43H9M850.0,460.43H841.0" stroke="#282828" stroke-width="2.2"/>
<path d="M0,418.57H17M850.0,418.57H833.0" stroke="#282828" stroke-width="2.2"/>
<path d="M0,376.71H9M850.0,376.71H841.0" stroke="#282828" stroke-width="2.2"/>
<path d="M0,334.86H17M850.0,334.86H833.0" stroke="#282828" stroke-width="2.2"/>
<path d="M0,293.00H9M850.0,293.00H841.0" stroke="#282828" stroke-width="2.2"/>
<path d="M0,251.14H17M850.0,251.14H833.0" stroke="#282828" stroke-width="2.2"/>
<path d="M0,209.29H9M850.0,209.29H841.0" stroke="#282828" stroke-width="2.2"/>
<path d="M0,167.43H17M850.0,167.43H833.0" stroke="#282828" stroke-width="2.2"/>
<path d="M0,125.57H9M850.0,125.57H841.0" stroke="#282828" stroke-width="2.2"/>
<path d="M0,83.71H17M850.0,83.71H833.0" stroke="#282828" stroke-width="2.2"/>
<path d="M0,41.86H9M850.0,41.86H841.0" stroke="#282828" stroke-width="2.2"/>
<path d="M85.00,586.0V577.0M85.00,0V9" stroke="#282828" stroke-width="2"/>
<path d="M170.00,586.0V569.0M170.00,0V17" stroke="#282828" stroke-width="2"/>
<path d="M255.00,586.0V577.0M255.00,0V9" stroke="#282828" stroke-width="2"/>
<path d="M340.00,586.0V569.0M340.00,0V17" stroke="#282828" stroke-width="2"/>
<path d="M425.00,586.0V577.0M425.00,0V9" stroke="#282828" stroke-width="2"/>
<path d="M510.00,586.0V569.0M510.00,0V17" stroke="#282828" stroke-width="2"/>
<path d="M595.00,586.0V577.0M595.00,0V9" stroke="#282828" stroke-width="2"/>
<path d="M680.00,586.0V569.0M680.00,0V17" stroke="#282828" stroke-width="2"/>
<path d="M765.00,586.0V577.0M765.00,0V9" stroke="#282828" stroke-width="2"/><text transform="translate(-7.6,594.60) scale(1,1.06)" text-anchor="end" class="t">0</text>
<text transform="translate(-7.6,510.89) scale(1,1.06)" text-anchor="end" class="t">1</text>
<text transform="translate(-7.6,427.17) scale(1,1.06)" text-anchor="end" class="t">2</text>
<text transform="translate(-7.6,343.46) scale(1,1.06)" text-anchor="end" class="t">3</text>
<text transform="translate(-7.6,259.74) scale(1,1.06)" text-anchor="end" class="t">4</text>
<text transform="translate(-7.6,176.03) scale(1,1.06)" text-anchor="end" class="t">5</text>
<text transform="translate(-7.6,92.31) scale(1,1.06)" text-anchor="end" class="t">6</text>
<text transform="translate(-7.6,8.60) scale(1,1.06)" text-anchor="end" class="t">7</text>
<text transform="translate(0.00,611.8) scale(1,1.06)" text-anchor="middle" class="t">0</text>
<text transform="translate(170.00,611.8) scale(1,1.06)" text-anchor="middle" class="t">100</text>
<text transform="translate(340.00,611.8) scale(1,1.06)" text-anchor="middle" class="t">200</text>
<text transform="translate(510.00,611.8) scale(1,1.06)" text-anchor="middle" class="t">300</text>
<text transform="translate(680.00,611.8) scale(1,1.06)" text-anchor="middle" class="t">400</text>
<text transform="translate(850.00,611.8) scale(1,1.06)" text-anchor="middle" class="t">500</text>
<text x="427.0" y="635.0" text-anchor="middle" class="t">Time (ns)</text>
<text transform="translate(-33,293.0) rotate(-90)" text-anchor="middle" class="t">RMSD (Ang.)</text></g>
<text x="8.3" y="50.3" class="lab">(a)</text>
<text x="1.6" y="710" class="lab">(b)</text>
</svg></body></html>
